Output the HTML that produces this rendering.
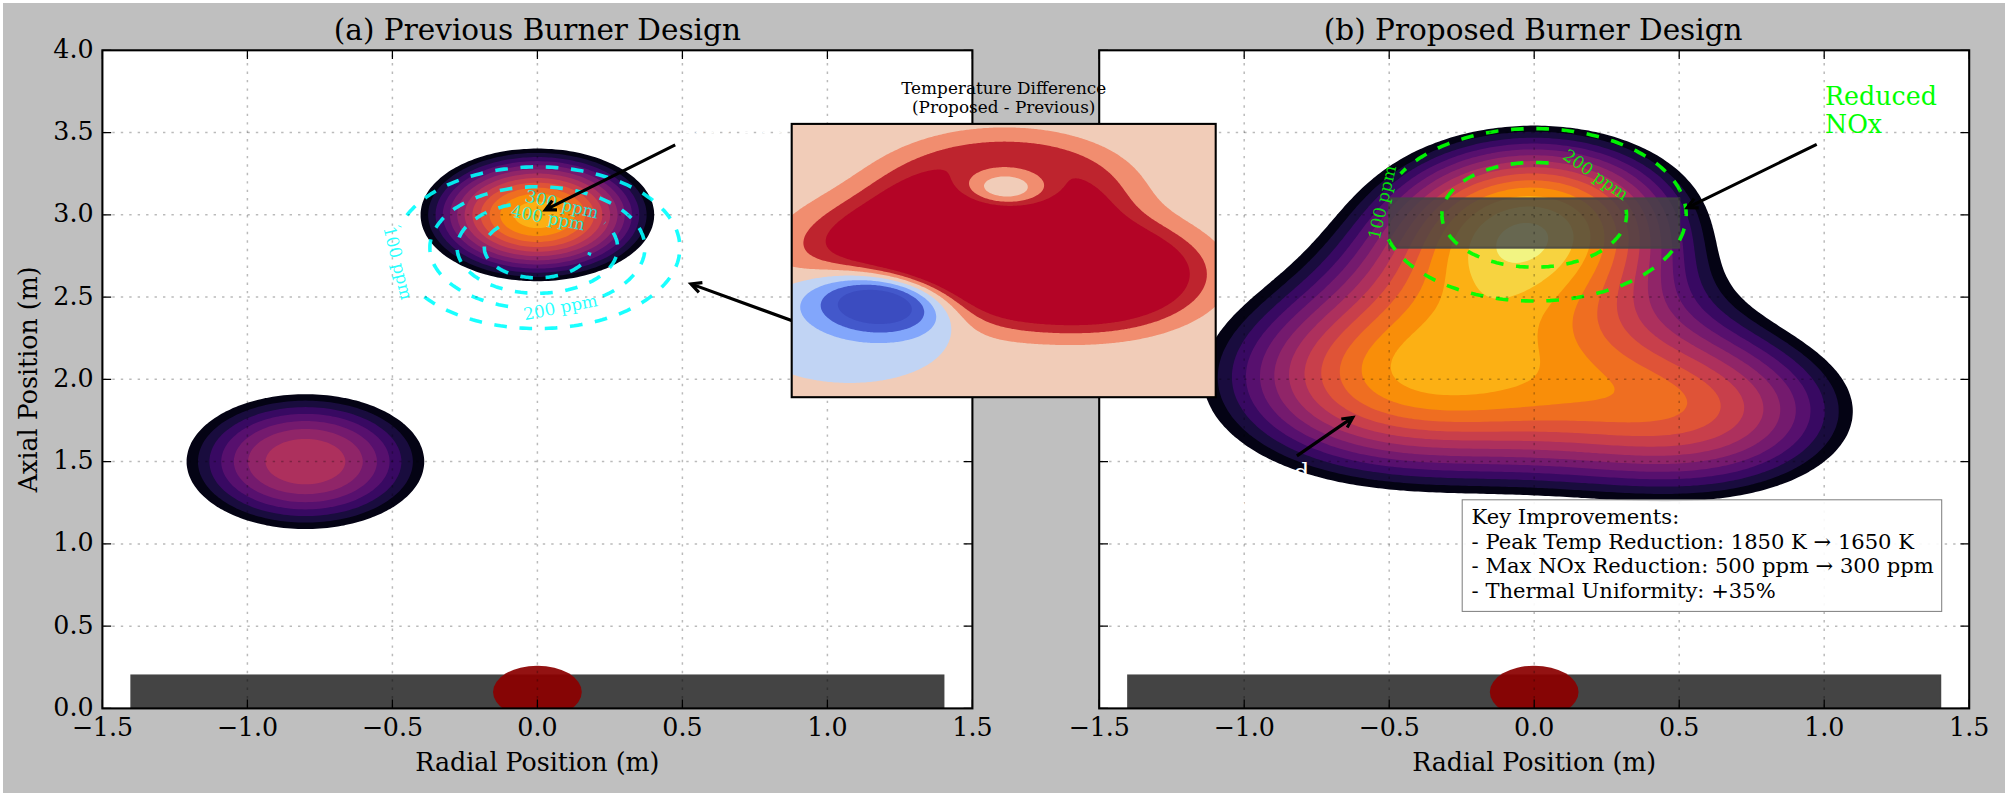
<!DOCTYPE html>
<html lang="en"><head><meta charset="utf-8"><title>Burner Design Comparison</title>
<style>html,body{margin:0;padding:0;background:#fff}svg{display:block}</style></head>
<body>
<svg width="2007" height="796" viewBox="0 0 2007 796" font-family="DejaVu Serif, Liberation Serif, serif">
<rect width="2007" height="796" fill="#fff"/>
<rect x="3" y="3" width="2002" height="790" fill="#bfbfbf"/>
<defs><clipPath id="ca"><rect x="102.40" y="50.30" width="870.00" height="658.10"/></clipPath><clipPath id="cb"><rect x="1099.20" y="50.30" width="870.00" height="658.10"/></clipPath><clipPath id="ci"><rect x="791.70" y="123.90" width="424.00" height="273.30"/></clipPath></defs>
<rect x="102.40" y="50.30" width="870.00" height="658.10" fill="#fff"/>
<g clip-path="url(#ca)">
<path d="M279.7,527.4 283.6,527.9 287.3,528.2 290.9,528.5 294.5,528.7 298.1,528.9 301.8,529.0 305.4,529.0 309.0,529.0 312.7,528.9 316.3,528.7 319.9,528.5 323.5,528.2 327.2,527.9 330.8,527.5 334.4,527.0 338.0,526.4 341.7,525.8 344.0,525.4 345.3,525.1 348.9,524.3 352.5,523.5 356.2,522.6 359.8,521.6 360.8,521.3 363.4,520.4 367.0,519.2 370.6,517.9 372.8,517.1 374.3,516.5 377.8,515.1 381.5,513.4 385.1,511.6 386.3,511.0 388.8,509.6 390.1,508.9 392.4,507.5 393.5,506.9 396.0,505.2 399.5,502.7 402.2,500.7 403.3,499.8 404.7,498.6 406.9,496.7 409.1,494.5 410.5,493.0 412.8,490.4 414.1,488.8 416.0,486.3 417.3,484.2 418.6,482.2 419.7,480.1 420.6,478.1 421.4,476.2 422.2,474.0 422.8,471.9 423.3,469.8 423.7,467.8 424.0,465.7 424.2,463.7 424.2,461.6 424.2,459.6 424.0,457.5 423.7,455.4 423.3,453.4 422.8,451.3 422.2,449.3 421.5,447.2 420.6,445.2 419.7,443.1 418.6,441.0 417.8,439.7 416.0,436.9 414.5,434.9 412.9,432.8 411.1,430.8 409.1,428.7 407.0,426.7 404.7,424.6 403.3,423.4 402.3,422.5 399.7,420.5 396.7,418.4 393.5,416.4 392.4,415.7 390.1,414.3 388.8,413.6 386.4,412.3 385.1,411.6 382.3,410.2 377.9,408.2 374.3,406.6 372.9,406.1 370.6,405.2 367.3,404.0 363.4,402.7 360.9,402.0 359.8,401.6 356.2,400.6 353.4,399.9 348.9,398.8 345.3,398.1 344.1,397.9 341.6,397.4 338.0,396.8 334.4,396.2 331.3,395.8 327.2,395.3 323.5,395.0 319.9,394.7 316.3,394.5 312.7,394.3 309.0,394.2 305.4,394.2 301.8,394.2 298.1,394.3 294.5,394.5 290.9,394.7 287.3,395.0 283.6,395.3 280.0,395.7 276.4,396.2 272.8,396.8 269.1,397.4 266.8,397.9 265.5,398.1 261.9,398.9 258.3,399.7 254.7,400.7 251.0,401.7 250.0,402.0 247.4,402.8 243.8,404.0 240.2,405.3 238.0,406.1 236.5,406.7 233.0,408.1 229.3,409.9 225.7,411.6 224.5,412.3 222.0,413.6 220.7,414.3 218.4,415.7 217.3,416.4 214.8,418.0 211.3,420.5 208.6,422.5 207.5,423.4 206.1,424.6 203.9,426.6 201.7,428.7 200.3,430.2 198.0,432.8 196.6,434.5 194.8,436.9 193.5,439.0 192.2,441.0 191.1,443.1 190.2,445.2 189.4,447.0 188.6,449.3 188.0,451.3 187.5,453.4 187.1,455.4 186.8,457.5 186.6,459.6 186.6,461.6 186.6,463.7 186.8,465.7 187.1,467.8 187.5,469.8 188.0,471.9 188.6,474.0 189.3,476.0 190.2,478.1 191.1,480.1 192.2,482.2 193.0,483.5 194.8,486.3 196.3,488.3 198.0,490.4 199.7,492.5 201.7,494.5 203.8,496.6 206.1,498.6 207.5,499.8 208.6,500.7 211.2,502.7 214.2,504.8 217.3,506.9 218.4,507.5 220.7,508.9 222.0,509.6 224.5,511.0 225.7,511.6 228.6,513.0 232.9,515.0 236.5,516.5 238.0,517.1 240.2,517.9 243.6,519.2 247.4,520.4 250.0,521.3 251.0,521.6 254.7,522.6 257.5,523.3 261.9,524.3 265.5,525.1 266.8,525.4 269.1,525.8 272.8,526.4 276.4,527.0 279.7,527.4ZM521.2,280.6 522.9,280.8 526.5,281.0 530.1,281.1 533.8,281.2 537.4,281.2 541.0,281.2 544.7,281.1 548.3,280.9 551.9,280.7 555.5,280.4 559.1,280.0 562.8,279.6 566.4,279.1 569.7,278.6 573.6,277.9 577.3,277.2 580.2,276.5 584.5,275.5 588.1,274.5 591.8,273.5 595.3,272.4 599.0,271.1 601.2,270.4 602.7,269.8 606.3,268.4 609.9,266.8 611.1,266.2 613.5,265.1 615.3,264.2 617.1,263.2 619.2,262.1 620.8,261.2 622.7,260.1 624.4,259.0 626.0,258.0 628.0,256.6 629.0,256.0 631.6,254.0 634.3,251.8 635.3,251.0 636.6,249.8 638.8,247.7 640.8,245.7 642.5,243.7 644.3,241.6 645.8,239.5 647.2,237.4 648.4,235.4 649.5,233.3 650.5,231.3 651.4,229.2 652.2,227.2 652.8,225.1 653.3,223.1 653.7,221.0 654.0,218.9 654.1,216.9 654.2,214.8 654.1,212.8 654.0,210.7 653.7,208.7 653.4,207.2 652.8,204.5 652.2,202.5 651.4,200.4 650.5,198.4 649.8,196.8 648.4,194.3 647.2,192.2 646.1,190.7 644.3,188.1 642.6,186.0 640.8,184.0 638.9,182.1 636.6,179.9 635.3,178.7 634.3,177.8 631.7,175.8 629.0,173.7 628.0,173.0 626.0,171.6 624.4,170.6 622.7,169.6 620.8,168.4 619.2,167.5 617.1,166.4 615.3,165.5 613.5,164.6 611.1,163.4 609.9,162.9 606.4,161.4 602.7,159.9 601.1,159.3 599.0,158.5 595.4,157.3 591.8,156.2 588.3,155.2 584.5,154.2 580.9,153.3 577.3,152.5 573.6,151.8 570.0,151.2 566.4,150.6 562.8,150.1 559.1,149.7 555.5,149.4 551.9,149.1 548.3,148.9 544.7,148.7 541.0,148.6 537.4,148.6 533.8,148.6 530.1,148.7 526.5,148.9 523.9,149.0 519.3,149.4 515.7,149.7 512.0,150.1 508.4,150.6 505.6,151.1 501.1,151.8 497.5,152.5 494.8,153.1 490.3,154.2 486.7,155.1 483.0,156.2 479.6,157.2 475.8,158.5 473.7,159.3 472.2,159.9 468.5,161.3 464.9,162.9 463.7,163.4 461.3,164.6 459.5,165.5 457.7,166.4 455.6,167.5 454.0,168.4 452.1,169.6 450.4,170.6 448.8,171.6 446.8,173.0 445.8,173.7 443.1,175.7 440.5,177.8 439.5,178.7 438.2,179.9 436.0,181.9 434.0,184.0 432.3,186.0 430.5,188.1 429.0,190.1 427.6,192.2 426.4,194.3 425.2,196.3 424.2,198.4 423.4,200.4 422.6,202.5 422.0,204.5 421.5,206.6 421.1,208.7 420.8,210.7 420.6,212.8 420.6,214.8 420.6,216.9 420.8,218.9 421.1,221.0 421.4,222.8 421.9,225.1 422.6,227.2 423.3,229.2 424.2,231.3 425.0,233.1 426.2,235.4 427.5,237.4 428.6,239.2 430.3,241.6 432.0,243.6 433.8,245.7 435.8,247.7 437.9,249.8 439.5,251.2 440.2,251.8 442.7,253.9 445.4,256.0 446.8,256.9 448.4,258.0 450.4,259.3 451.6,260.1 454.0,261.5 455.1,262.1 457.7,263.5 458.9,264.2 461.3,265.4 463.1,266.2 464.9,267.1 467.7,268.3 472.2,270.1 475.8,271.4 478.7,272.4 483.0,273.8 485.5,274.5 486.7,274.8 490.3,275.7 493.6,276.5 497.5,277.4 501.1,278.1 504.1,278.6 508.4,279.3 512.0,279.7 515.7,280.1 519.3,280.5 521.2,280.6Z" fill="#040314" fill-rule="evenodd"/>
<path d="M283.1,521.3 287.3,521.7 290.9,522.0 294.5,522.3 298.1,522.4 301.8,522.6 305.4,522.6 309.0,522.6 312.7,522.4 316.3,522.3 319.9,522.0 323.5,521.7 327.2,521.3 330.8,520.9 334.4,520.3 338.0,519.7 340.7,519.2 345.3,518.2 348.9,517.4 352.5,516.4 356.2,515.4 359.8,514.2 363.2,513.0 367.0,511.6 368.5,511.0 370.6,510.1 373.2,508.9 374.3,508.4 377.4,506.9 381.3,504.8 384.7,502.7 387.9,500.7 388.8,500.1 390.8,498.6 392.4,497.4 393.4,496.6 395.9,494.5 398.1,492.5 399.7,490.9 402.0,488.3 403.3,486.8 405.2,484.2 406.6,482.2 407.8,480.1 408.9,478.1 409.8,476.0 410.5,474.3 411.3,471.9 411.9,469.8 412.3,467.8 412.6,465.7 412.8,463.7 412.9,461.6 412.8,459.6 412.6,457.5 412.3,455.4 411.9,453.4 411.3,451.3 410.7,449.3 409.8,447.2 408.9,445.2 407.8,443.1 406.9,441.6 405.2,439.0 403.7,436.9 402.0,434.9 400.2,432.8 398.1,430.8 396.0,428.8 393.5,426.7 392.4,425.8 390.8,424.6 388.8,423.1 387.9,422.5 385.1,420.7 381.5,418.6 377.9,416.6 374.3,414.8 373.3,414.3 370.6,413.1 368.5,412.3 367.0,411.6 363.4,410.3 359.8,409.0 357.1,408.1 356.2,407.8 352.5,406.8 349.9,406.1 348.9,405.8 345.3,405.0 341.7,404.2 338.0,403.5 334.4,402.9 330.8,402.3 327.8,402.0 323.5,401.5 319.9,401.2 316.3,400.9 312.7,400.8 309.0,400.7 305.4,400.6 301.8,400.7 298.1,400.8 294.5,400.9 290.9,401.2 287.3,401.5 283.6,401.9 280.0,402.4 276.4,402.9 272.8,403.5 270.1,404.0 265.5,405.0 261.9,405.9 258.3,406.8 254.7,407.9 251.0,409.0 247.6,410.2 243.8,411.7 242.3,412.3 240.2,413.2 237.6,414.3 236.5,414.8 233.4,416.4 229.5,418.4 226.1,420.5 222.9,422.5 222.0,423.1 220.0,424.6 218.4,425.8 217.4,426.7 214.9,428.7 212.7,430.8 211.2,432.3 208.8,434.9 207.5,436.4 205.6,439.0 204.2,441.0 203.0,443.1 201.9,445.2 201.0,447.2 200.3,448.9 199.5,451.3 198.9,453.4 198.5,455.4 198.2,457.5 198.0,459.6 197.9,461.6 198.0,463.7 198.2,465.7 198.5,467.8 198.9,469.8 199.5,471.9 200.1,474.0 201.0,476.0 201.9,478.1 203.0,480.1 203.9,481.6 205.6,484.2 207.1,486.3 208.8,488.3 210.7,490.4 212.7,492.5 214.8,494.4 217.4,496.6 218.4,497.4 220.0,498.6 222.0,500.1 222.9,500.7 225.7,502.5 229.3,504.7 232.9,506.6 236.5,508.4 237.6,508.9 240.2,510.1 242.3,511.0 243.8,511.6 247.4,512.9 251.0,514.2 253.8,515.1 258.3,516.4 261.0,517.1 265.5,518.2 269.1,519.0 272.8,519.7 276.4,520.3 280.0,520.9 283.1,521.3ZM524.9,276.5 526.5,276.6 530.1,276.8 533.8,276.9 537.4,276.9 541.0,276.9 544.7,276.8 548.3,276.6 551.9,276.3 555.5,276.0 559.1,275.6 562.8,275.2 566.4,274.6 570.0,274.0 573.6,273.3 577.3,272.6 580.9,271.7 584.5,270.8 586.0,270.4 588.1,269.7 591.8,268.6 595.4,267.4 598.4,266.2 602.7,264.5 606.3,262.9 608.0,262.1 609.9,261.2 612.0,260.1 613.5,259.3 615.7,258.0 617.1,257.2 619.1,256.0 620.8,254.9 622.2,253.9 624.4,252.3 627.6,249.8 629.9,247.7 631.6,246.1 634.1,243.6 635.3,242.3 635.9,241.6 637.6,239.5 638.9,237.7 640.4,235.4 641.6,233.3 642.5,231.6 643.6,229.2 644.4,227.2 645.1,225.1 645.7,223.1 646.1,221.0 646.4,218.9 646.6,216.9 646.6,214.8 646.6,212.8 646.4,210.7 646.1,209.2 645.7,206.6 645.1,204.5 644.4,202.5 643.6,200.4 642.7,198.4 641.6,196.3 640.4,194.3 639.1,192.2 637.6,190.1 635.9,188.1 635.3,187.3 634.1,186.0 632.1,184.0 629.9,181.9 628.0,180.3 625.0,177.8 622.2,175.8 620.8,174.8 619.1,173.7 617.1,172.5 615.7,171.6 613.5,170.4 612.0,169.6 609.9,168.5 607.9,167.5 606.3,166.7 603.4,165.5 599.0,163.7 595.4,162.3 592.6,161.4 588.1,160.0 585.8,159.3 584.5,158.9 580.9,158.0 577.7,157.2 573.6,156.4 570.0,155.7 567.0,155.2 562.8,154.6 559.1,154.1 555.5,153.7 551.9,153.4 548.3,153.2 544.7,153.0 541.0,152.9 537.4,152.9 533.8,152.9 530.1,153.0 527.5,153.1 522.9,153.4 519.3,153.7 515.7,154.1 512.0,154.6 508.4,155.1 504.8,155.7 501.1,156.4 497.5,157.1 493.9,158.0 490.3,158.9 489.0,159.3 486.7,160.0 483.0,161.1 479.4,162.3 476.5,163.4 472.2,165.1 468.5,166.7 466.9,167.5 464.9,168.5 462.8,169.6 461.3,170.4 459.1,171.6 457.7,172.5 455.7,173.7 454.0,174.8 452.6,175.8 450.4,177.4 447.2,179.9 444.9,181.9 443.1,183.5 440.7,186.0 439.5,187.3 438.9,188.1 437.2,190.1 435.9,191.9 434.4,194.3 433.2,196.3 432.3,198.0 431.2,200.4 430.4,202.5 429.7,204.5 429.1,206.6 428.7,208.7 428.4,210.7 428.2,212.8 428.1,214.8 428.2,216.9 428.4,218.9 428.6,220.8 429.1,223.1 429.6,225.1 430.3,227.2 431.1,229.2 432.0,231.3 433.1,233.3 434.3,235.4 435.6,237.4 437.1,239.5 438.7,241.6 439.5,242.5 440.5,243.6 442.5,245.7 443.1,246.3 444.6,247.7 446.8,249.6 449.5,251.8 450.4,252.5 452.3,253.9 454.0,255.1 455.4,256.0 457.7,257.4 458.7,258.0 461.3,259.5 462.3,260.1 464.9,261.4 466.4,262.1 468.5,263.2 470.8,264.2 472.2,264.8 475.8,266.2 479.4,267.6 481.5,268.3 483.0,268.8 486.7,269.9 488.2,270.4 490.3,270.9 493.9,271.9 496.2,272.4 497.5,272.7 501.1,273.5 504.8,274.2 506.7,274.5 508.4,274.8 512.0,275.3 515.7,275.7 519.3,276.1 522.9,276.4 524.9,276.5Z" fill="#190c3e" fill-rule="evenodd"/>
<path d="M287.0,515.1 290.9,515.5 294.5,515.7 298.1,515.9 301.8,516.0 305.4,516.1 309.0,516.0 312.7,515.9 316.3,515.7 319.9,515.5 323.5,515.1 327.2,514.7 330.8,514.1 334.4,513.5 337.1,513.0 341.7,512.1 345.3,511.2 348.9,510.2 352.5,509.1 356.2,507.9 358.9,506.9 359.8,506.5 363.4,505.0 367.0,503.4 368.3,502.7 370.6,501.6 372.3,500.7 374.3,499.6 375.8,498.6 377.9,497.3 379.0,496.6 381.5,494.8 384.5,492.5 386.9,490.4 388.8,488.6 391.0,486.3 392.4,484.7 394.3,482.2 395.7,480.1 396.9,478.1 398.0,476.0 398.9,474.0 399.7,472.0 400.3,469.8 400.8,467.8 401.1,465.7 401.4,463.7 401.4,461.6 401.4,459.6 401.1,457.5 400.8,455.4 400.3,453.4 399.7,451.3 398.9,449.3 398.0,447.2 396.9,445.2 396.0,443.6 394.3,441.0 392.8,439.0 391.0,436.9 389.1,434.9 386.9,432.8 385.1,431.3 381.9,428.7 379.0,426.7 377.9,425.9 375.9,424.6 374.3,423.6 372.3,422.5 370.6,421.6 368.4,420.5 367.0,419.8 363.9,418.4 359.8,416.7 358.9,416.4 356.2,415.4 353.1,414.3 348.9,413.0 346.1,412.3 341.7,411.2 338.0,410.4 334.4,409.7 330.8,409.1 327.2,408.5 323.8,408.1 319.9,407.8 316.3,407.5 312.7,407.3 309.0,407.2 305.4,407.1 301.8,407.2 298.1,407.3 294.5,407.5 290.9,407.8 287.3,408.1 283.7,408.6 280.0,409.1 276.4,409.7 273.7,410.2 269.2,411.2 265.5,412.1 261.9,413.0 258.3,414.1 254.7,415.4 251.9,416.4 251.0,416.7 247.4,418.2 243.8,419.8 242.5,420.5 240.2,421.7 238.5,422.5 236.5,423.7 235.0,424.6 232.9,425.9 231.8,426.7 229.3,428.4 226.3,430.8 223.9,432.8 222.0,434.6 219.8,436.9 218.4,438.6 216.5,441.0 215.1,443.1 213.9,445.2 212.8,447.2 211.9,449.3 211.2,451.2 210.5,453.4 210.0,455.4 209.7,457.5 209.4,459.6 209.4,461.6 209.4,463.7 209.7,465.7 210.0,467.8 210.5,469.8 211.1,471.9 211.9,474.0 212.8,476.0 213.9,478.1 214.8,479.6 216.5,482.2 218.0,484.2 219.8,486.3 221.7,488.3 223.9,490.4 225.7,491.9 228.9,494.5 231.8,496.6 232.9,497.3 235.0,498.6 236.5,499.6 238.5,500.7 240.2,501.6 242.5,502.7 243.8,503.4 246.9,504.8 251.0,506.5 251.9,506.9 254.7,507.9 257.8,508.9 261.9,510.2 264.8,511.0 269.1,512.1 272.8,512.8 276.4,513.5 280.0,514.1 283.6,514.7 287.0,515.1ZM526.7,272.4 530.1,272.6 533.8,272.7 537.4,272.7 541.0,272.7 544.7,272.5 547.3,272.4 551.9,272.1 555.5,271.8 559.1,271.3 562.8,270.8 565.9,270.4 570.0,269.6 573.6,268.9 576.2,268.3 577.3,268.0 580.9,267.1 584.0,266.2 588.1,265.0 590.4,264.2 591.8,263.7 595.4,262.3 599.0,260.8 600.8,260.1 602.7,259.2 605.1,258.0 606.3,257.4 609.0,256.0 609.9,255.4 612.4,253.9 613.5,253.2 615.6,251.8 617.1,250.8 618.5,249.8 620.8,248.0 623.5,245.7 624.4,244.9 625.7,243.6 627.7,241.6 629.5,239.5 631.1,237.4 631.6,236.7 632.6,235.4 633.9,233.3 635.0,231.3 636.0,229.2 636.9,227.2 637.6,225.1 638.2,223.1 638.7,221.0 638.9,219.6 639.2,216.9 639.3,214.8 639.2,212.8 639.0,210.7 638.7,208.7 638.2,206.6 637.6,204.5 636.9,202.5 636.0,200.4 635.3,198.9 633.9,196.3 632.6,194.3 631.6,192.9 631.1,192.2 629.5,190.1 628.0,188.5 625.7,186.0 624.4,184.8 623.5,184.0 621.1,181.9 618.5,179.9 617.1,178.9 615.6,177.8 613.5,176.4 612.4,175.8 609.9,174.2 608.9,173.7 606.3,172.3 605.1,171.6 602.7,170.5 600.7,169.6 599.0,168.8 595.9,167.5 591.8,166.0 590.3,165.5 588.1,164.7 584.5,163.6 580.9,162.6 577.3,161.7 576.0,161.4 573.6,160.8 570.0,160.1 566.4,159.4 562.8,158.9 559.1,158.4 555.5,158.0 551.9,157.6 548.3,157.4 545.7,157.2 541.0,157.1 537.4,157.0 533.8,157.1 530.1,157.2 526.5,157.4 522.9,157.6 519.3,158.0 515.7,158.4 512.0,158.9 509.2,159.3 504.8,160.1 501.1,160.8 498.8,161.4 497.5,161.7 493.9,162.6 490.9,163.4 486.7,164.7 484.5,165.5 483.0,166.0 479.4,167.3 475.8,168.8 474.1,169.6 472.2,170.5 469.7,171.6 468.5,172.3 465.9,173.7 464.9,174.2 462.4,175.8 461.3,176.4 459.2,177.8 457.7,178.9 456.3,179.9 454.0,181.6 451.3,184.0 450.4,184.8 449.1,186.0 447.1,188.1 445.3,190.1 443.7,192.2 443.1,192.9 442.2,194.3 440.9,196.3 439.7,198.4 438.7,200.4 437.9,202.5 437.2,204.5 436.6,206.6 436.1,208.7 435.9,209.9 435.6,212.8 435.5,214.8 435.6,216.9 435.8,218.9 436.1,221.0 436.5,223.1 437.1,225.1 437.8,227.2 438.7,229.2 439.5,231.0 440.8,233.3 442.1,235.4 443.1,236.9 445.2,239.5 446.8,241.4 448.9,243.6 450.4,245.0 451.1,245.7 453.5,247.7 456.1,249.8 457.7,250.9 458.9,251.8 461.3,253.4 462.1,253.9 464.9,255.6 468.5,257.6 469.4,258.0 472.2,259.4 473.6,260.1 475.8,261.0 478.4,262.1 479.4,262.5 483.0,263.9 483.9,264.2 486.7,265.1 490.3,266.2 493.9,267.2 497.5,268.2 501.1,269.0 504.8,269.7 508.3,270.4 512.0,270.9 515.7,271.4 519.3,271.8 522.9,272.1 526.5,272.4Z" fill="#380962" fill-rule="evenodd"/>
<path d="M293.8,508.9 298.1,509.2 301.8,509.3 305.4,509.4 309.0,509.3 312.7,509.2 316.3,509.0 319.9,508.7 323.5,508.2 327.2,507.7 330.8,507.1 332.3,506.9 334.4,506.4 338.0,505.6 341.3,504.8 345.3,503.7 348.2,502.7 352.5,501.2 353.8,500.7 356.2,499.7 358.6,498.6 359.8,498.1 362.7,496.6 366.4,494.5 369.7,492.5 370.6,491.8 372.6,490.4 374.3,489.1 375.1,488.3 377.5,486.3 379.5,484.2 381.4,482.2 383.0,480.1 384.4,478.1 385.1,476.9 385.7,476.0 386.7,474.0 387.6,471.9 388.3,469.8 388.8,468.2 389.3,465.7 389.5,463.7 389.6,461.6 389.5,459.6 389.3,457.5 388.9,455.4 388.3,453.4 387.6,451.3 386.7,449.3 385.7,447.2 385.1,446.3 384.4,445.2 383.0,443.1 381.5,441.2 379.5,439.0 377.9,437.3 375.2,434.9 374.3,434.2 372.6,432.8 370.6,431.4 369.7,430.8 367.0,429.1 363.4,427.0 359.8,425.2 358.6,424.6 356.2,423.5 353.8,422.5 352.5,422.0 348.9,420.7 345.3,419.5 341.7,418.5 338.0,417.6 334.4,416.8 332.3,416.4 330.8,416.1 327.2,415.5 323.5,415.0 319.9,414.6 317.0,414.3 312.7,414.0 309.0,413.9 305.4,413.9 301.8,413.9 298.1,414.0 294.5,414.2 290.9,414.6 287.3,415.0 283.6,415.5 280.0,416.1 278.5,416.4 276.4,416.8 272.8,417.6 269.5,418.4 265.5,419.6 262.6,420.5 258.3,422.0 257.0,422.5 254.6,423.5 252.2,424.6 251.0,425.2 248.1,426.7 244.4,428.7 241.1,430.8 240.2,431.4 238.2,432.8 236.5,434.2 235.7,434.9 233.3,436.9 231.3,439.0 229.4,441.0 227.8,443.1 226.4,445.2 225.7,446.3 225.1,447.2 224.1,449.3 223.2,451.3 222.5,453.4 222.0,455.1 221.5,457.5 221.3,459.6 221.2,461.6 221.3,463.7 221.5,465.7 221.9,467.8 222.5,469.8 223.2,471.9 224.1,474.0 225.1,476.0 225.7,476.9 226.4,478.1 227.8,480.1 229.3,482.0 231.3,484.2 232.9,485.9 235.7,488.3 236.5,489.1 238.2,490.4 240.2,491.8 241.1,492.5 243.8,494.1 247.4,496.2 251.0,498.1 252.2,498.6 254.6,499.7 257.0,500.7 258.3,501.2 261.9,502.5 265.5,503.7 269.1,504.7 272.8,505.6 276.4,506.4 278.5,506.9 280.0,507.1 283.6,507.7 287.3,508.2 290.9,508.7 293.8,508.9ZM527.5,268.3 530.1,268.4 533.8,268.5 537.4,268.6 541.0,268.5 544.7,268.4 546.8,268.3 548.3,268.2 551.9,267.9 555.5,267.6 559.1,267.1 562.8,266.6 564.8,266.2 566.4,266.0 570.0,265.2 573.6,264.4 574.7,264.2 577.3,263.5 580.9,262.5 582.2,262.1 584.5,261.4 588.1,260.1 591.8,258.8 593.6,258.0 595.4,257.2 598.2,256.0 602.3,253.9 605.9,251.8 609.2,249.8 612.2,247.7 613.5,246.7 614.8,245.7 617.1,243.7 619.4,241.6 620.8,240.2 621.4,239.5 623.2,237.4 624.4,235.9 626.2,233.3 627.5,231.3 628.0,230.2 628.6,229.2 629.5,227.2 630.3,225.1 630.9,223.1 631.4,221.0 631.6,219.5 631.9,216.9 632.0,214.8 631.9,212.8 631.7,210.7 631.4,208.7 630.9,206.6 630.3,204.5 629.5,202.5 628.5,200.4 628.0,199.4 627.5,198.4 626.2,196.3 624.8,194.3 623.2,192.2 621.4,190.1 620.8,189.5 619.4,188.1 617.3,186.0 614.8,184.0 613.5,183.0 612.1,181.9 609.9,180.3 606.3,178.0 602.7,176.0 599.0,174.1 598.2,173.7 595.4,172.4 593.6,171.6 591.8,170.9 588.3,169.6 584.5,168.3 582.1,167.5 580.9,167.2 577.3,166.1 574.6,165.5 570.0,164.4 566.4,163.7 564.5,163.4 562.8,163.1 559.1,162.6 555.5,162.1 551.9,161.8 548.3,161.5 545.6,161.4 541.0,161.2 537.4,161.1 533.8,161.2 530.1,161.3 526.5,161.5 522.9,161.8 519.3,162.1 515.7,162.6 512.0,163.1 510.3,163.4 508.4,163.7 504.8,164.4 501.1,165.2 497.5,166.1 493.9,167.2 492.7,167.5 490.3,168.3 486.7,169.5 483.0,170.9 481.2,171.6 479.4,172.4 476.6,173.7 475.8,174.1 472.5,175.8 468.9,177.8 465.6,179.9 462.7,181.9 461.3,183.0 460.0,184.0 457.7,185.9 455.4,188.1 454.0,189.5 453.4,190.1 451.6,192.2 450.4,193.7 448.6,196.3 447.3,198.4 446.8,199.4 446.2,200.4 445.3,202.5 444.5,204.5 443.9,206.6 443.4,208.7 443.1,210.1 442.8,212.8 442.8,214.8 442.8,216.9 443.0,218.9 443.4,221.0 443.9,223.1 444.5,225.1 445.3,227.2 446.2,229.2 446.8,230.4 447.3,231.3 448.5,233.3 449.9,235.4 451.5,237.4 453.3,239.5 454.0,240.3 455.2,241.6 457.4,243.6 459.8,245.7 461.3,246.8 462.5,247.7 464.9,249.5 468.5,251.8 472.2,253.8 475.8,255.7 479.4,257.4 480.9,258.0 483.0,258.9 486.1,260.1 490.3,261.5 492.2,262.1 493.9,262.6 497.5,263.6 499.7,264.2 501.1,264.5 504.8,265.3 508.4,266.0 509.6,266.2 512.0,266.7 515.7,267.2 519.3,267.6 522.9,268.0 526.5,268.2Z" fill="#57106e" fill-rule="evenodd"/>
<path d="M286.1,500.7 287.3,500.9 290.9,501.4 294.5,501.7 298.1,502.0 301.8,502.1 305.4,502.2 309.0,502.1 312.7,502.0 316.3,501.7 319.9,501.4 323.5,500.9 324.7,500.7 327.2,500.3 330.8,499.6 334.4,498.7 338.0,497.7 341.7,496.6 345.3,495.3 347.3,494.5 348.9,493.8 351.9,492.5 355.8,490.4 359.2,488.3 362.2,486.3 363.4,485.4 364.8,484.2 367.0,482.2 369.1,480.1 370.6,478.3 372.3,476.0 373.6,474.0 374.3,472.6 375.5,469.8 376.1,467.8 376.6,465.7 376.9,463.7 376.9,461.6 376.9,459.6 376.6,457.5 376.1,455.4 375.5,453.4 374.6,451.3 373.6,449.3 372.3,447.2 370.8,445.2 369.1,443.1 367.1,441.0 364.8,439.0 363.4,437.9 362.2,436.9 359.8,435.2 356.2,433.0 352.5,431.1 348.9,429.4 347.3,428.7 345.3,427.9 341.8,426.7 338.0,425.5 334.8,424.6 330.8,423.7 327.2,422.9 324.8,422.5 323.5,422.3 319.9,421.9 316.3,421.5 312.7,421.2 309.0,421.1 305.4,421.0 301.8,421.1 298.1,421.2 294.5,421.5 290.9,421.9 287.3,422.3 286.1,422.5 283.6,422.9 280.0,423.7 276.4,424.5 272.8,425.5 269.1,426.6 265.5,427.9 263.5,428.7 261.9,429.4 258.9,430.8 255.0,432.8 251.6,434.9 248.6,436.9 247.4,437.9 246.0,439.0 243.8,441.0 241.7,443.1 240.2,445.0 238.5,447.2 237.2,449.3 236.5,450.6 235.3,453.4 234.7,455.4 234.2,457.5 233.9,459.6 233.9,461.6 233.9,463.7 234.2,465.7 234.7,467.8 235.3,469.8 236.2,471.9 237.2,474.0 238.5,476.0 240.0,478.1 241.7,480.1 243.7,482.2 246.0,484.2 247.4,485.4 248.6,486.3 251.0,488.0 254.7,490.2 258.3,492.2 261.9,493.8 263.5,494.5 265.5,495.3 269.0,496.6 272.8,497.7 276.0,498.6 280.0,499.6 283.6,500.3 286.1,500.7ZM527.8,264.2 530.1,264.3 533.8,264.4 537.4,264.5 541.0,264.4 544.7,264.3 546.6,264.2 548.3,264.1 551.9,263.8 555.5,263.4 559.1,262.9 562.8,262.3 563.8,262.1 566.4,261.6 570.0,260.9 573.3,260.1 577.3,259.0 580.4,258.0 584.5,256.6 586.3,256.0 588.1,255.2 591.2,253.9 595.4,251.9 599.0,250.0 602.7,247.8 605.8,245.7 608.6,243.6 609.9,242.5 611.0,241.6 613.2,239.5 615.2,237.4 616.9,235.4 618.5,233.3 619.9,231.3 620.8,229.7 622.1,227.2 622.9,225.1 623.6,223.1 624.1,221.0 624.4,219.5 624.7,216.9 624.8,214.8 624.7,212.8 624.5,210.7 624.1,208.7 623.6,206.6 622.9,204.5 622.1,202.5 621.0,200.4 619.9,198.4 618.5,196.3 617.1,194.5 615.2,192.2 613.5,190.5 611.0,188.1 609.9,187.1 608.6,186.0 606.3,184.3 602.8,181.9 599.4,179.9 595.6,177.8 591.8,176.0 588.1,174.5 586.2,173.7 584.5,173.1 580.9,171.8 577.3,170.7 573.6,169.7 570.0,168.8 566.4,168.0 563.6,167.5 559.1,166.8 555.5,166.3 551.9,165.9 548.3,165.6 545.7,165.5 541.0,165.3 537.4,165.2 533.8,165.3 530.1,165.4 526.5,165.6 522.9,165.9 519.3,166.3 515.7,166.8 512.0,167.4 508.4,168.0 504.8,168.8 501.6,169.6 497.5,170.7 494.5,171.6 490.3,173.1 488.6,173.7 486.7,174.5 483.6,175.8 479.4,177.7 475.8,179.7 472.2,181.8 469.0,184.0 466.2,186.0 464.9,187.1 463.8,188.1 461.6,190.1 459.6,192.2 457.9,194.3 456.3,196.3 454.9,198.4 454.0,199.9 452.7,202.5 451.9,204.5 451.2,206.6 450.6,208.7 450.4,210.0 450.0,212.8 450.0,214.8 450.0,216.9 450.3,218.9 450.6,221.0 451.2,223.1 451.8,225.1 452.7,227.2 453.7,229.2 454.9,231.3 456.2,233.3 457.7,235.2 459.5,237.4 461.3,239.3 463.7,241.6 464.9,242.6 466.1,243.6 468.5,245.5 471.8,247.7 475.2,249.8 479.0,251.8 483.0,253.8 486.7,255.3 488.3,256.0 490.3,256.7 493.9,258.0 497.5,259.1 501.1,260.1 504.8,260.9 508.4,261.7 510.7,262.1 512.0,262.4 515.7,262.9 519.3,263.4 522.9,263.8 526.5,264.1 527.8,264.2Z" fill="#741a6e" fill-rule="evenodd"/>
<path d="M287.0,492.5 290.9,493.1 294.5,493.6 298.1,493.9 301.8,494.1 305.4,494.2 309.0,494.1 312.7,493.9 316.3,493.6 319.9,493.1 323.5,492.5 327.2,491.7 330.8,490.8 332.2,490.4 334.4,489.7 338.0,488.4 341.7,486.9 342.8,486.3 345.3,485.0 346.7,484.2 348.9,482.8 349.9,482.2 352.5,480.2 354.9,478.1 356.2,476.8 356.9,476.0 358.5,474.0 359.8,472.0 360.9,469.8 361.7,467.8 362.3,465.7 362.7,463.7 362.8,461.6 362.7,459.6 362.3,457.5 361.7,455.4 360.9,453.4 359.9,451.3 358.5,449.3 356.9,447.2 356.2,446.4 354.9,445.2 352.6,443.1 349.9,441.0 348.9,440.4 346.7,439.0 345.3,438.2 342.8,436.9 341.7,436.4 338.2,434.9 334.4,433.5 332.2,432.8 330.8,432.4 327.2,431.5 323.8,430.8 319.9,430.1 316.3,429.6 312.7,429.3 309.0,429.1 305.4,429.0 301.8,429.1 298.1,429.3 294.5,429.6 290.9,430.1 287.3,430.7 283.6,431.5 280.0,432.4 278.6,432.8 276.4,433.5 272.8,434.8 269.1,436.4 268.0,436.9 265.5,438.2 264.1,439.0 261.9,440.4 260.9,441.0 258.3,443.0 255.9,445.2 254.7,446.4 253.9,447.2 252.3,449.3 251.0,451.2 249.9,453.4 249.1,455.4 248.5,457.5 248.1,459.6 248.0,461.6 248.1,463.7 248.5,465.7 249.1,467.8 249.9,469.8 250.9,471.9 252.3,474.0 253.9,476.0 254.7,476.8 255.9,478.1 258.2,480.1 260.9,482.2 261.9,482.8 264.1,484.2 265.5,485.0 268.0,486.3 269.2,486.9 272.6,488.3 276.4,489.7 278.6,490.4 280.0,490.8 283.6,491.7 287.0,492.5ZM528.5,260.1 530.1,260.2 533.8,260.3 537.4,260.4 541.0,260.3 544.7,260.2 546.0,260.1 548.3,259.9 551.9,259.6 555.5,259.2 559.1,258.6 562.6,258.0 566.4,257.2 570.0,256.4 571.6,256.0 573.6,255.4 577.3,254.3 578.4,253.9 580.9,253.0 584.0,251.8 588.1,250.0 591.8,248.2 592.7,247.7 595.4,246.2 596.3,245.7 599.0,243.9 602.2,241.6 604.7,239.5 606.3,238.1 606.9,237.4 608.9,235.4 609.9,234.2 610.6,233.3 612.1,231.3 613.4,229.2 614.5,227.2 615.5,225.1 616.2,223.1 616.8,221.0 617.1,219.3 617.5,216.9 617.6,214.8 617.5,212.8 617.2,210.7 616.8,208.7 616.2,206.6 615.5,204.5 614.5,202.5 613.5,200.6 612.1,198.4 610.6,196.3 609.9,195.5 608.9,194.3 606.9,192.2 606.3,191.6 604.7,190.1 602.7,188.4 599.4,186.0 596.3,184.0 595.4,183.4 592.7,181.9 591.8,181.4 588.6,179.9 584.5,178.0 580.9,176.6 578.4,175.8 577.3,175.4 573.6,174.3 571.5,173.7 570.0,173.3 566.4,172.4 562.8,171.7 559.1,171.1 555.5,170.5 551.9,170.1 548.3,169.8 545.3,169.6 541.0,169.4 537.4,169.4 533.8,169.4 530.1,169.5 526.5,169.8 522.9,170.1 519.3,170.5 515.7,171.1 512.3,171.6 508.4,172.4 504.8,173.3 503.3,173.7 501.1,174.3 497.5,175.4 496.4,175.8 493.9,176.6 490.9,177.8 486.7,179.6 483.0,181.4 482.1,181.9 479.4,183.4 478.5,184.0 475.8,185.8 472.6,188.1 470.1,190.1 468.5,191.6 467.9,192.2 465.9,194.3 464.9,195.5 464.2,196.3 462.7,198.4 461.4,200.4 460.2,202.5 459.3,204.5 458.6,206.6 458.0,208.7 457.7,210.3 457.3,212.8 457.2,214.8 457.3,216.9 457.5,218.9 458.0,221.0 458.5,223.1 459.3,225.1 460.2,227.2 461.3,229.2 462.6,231.3 464.1,233.3 464.9,234.3 465.8,235.4 467.8,237.4 468.5,238.2 470.0,239.5 472.2,241.3 475.2,243.6 478.4,245.7 479.4,246.3 481.9,247.7 483.0,248.3 486.0,249.8 490.3,251.7 493.9,253.1 496.2,253.9 497.5,254.4 501.1,255.5 502.9,256.0 504.8,256.4 508.4,257.3 511.9,258.0 515.7,258.7 519.3,259.2 522.9,259.6 526.5,259.9 528.5,260.1Z" fill="#902568" fill-rule="evenodd"/>
<path d="M304.3,484.2 306.5,484.2 309.0,484.2 312.7,483.9 316.3,483.4 319.9,482.7 322.0,482.2 323.5,481.8 327.2,480.6 328.4,480.1 330.8,479.1 332.8,478.1 334.4,477.1 336.2,476.0 338.0,474.6 338.8,474.0 340.9,471.9 341.7,471.1 342.6,469.8 343.8,467.8 344.6,465.7 345.2,463.7 345.3,462.2 345.3,461.0 345.2,459.6 344.6,457.5 343.8,455.4 342.6,453.4 341.7,452.2 340.9,451.3 338.9,449.3 338.0,448.6 336.2,447.2 334.4,446.1 332.8,445.2 330.8,444.2 328.4,443.1 327.2,442.6 323.5,441.4 322.0,441.0 319.9,440.5 316.3,439.8 312.7,439.3 309.0,439.1 306.5,439.0 304.3,439.0 301.8,439.1 298.1,439.3 294.5,439.8 290.9,440.5 288.8,441.0 287.3,441.4 283.6,442.6 282.4,443.1 280.0,444.2 278.0,445.2 276.4,446.1 274.6,447.2 272.8,448.6 272.0,449.3 269.9,451.3 269.1,452.2 268.2,453.4 267.0,455.4 266.2,457.5 265.6,459.6 265.5,461.0 265.5,462.2 265.6,463.7 266.2,465.7 267.0,467.8 268.2,469.8 269.2,471.1 269.9,471.9 272.0,474.0 272.8,474.6 274.6,476.0 276.4,477.1 278.0,478.1 280.0,479.1 282.4,480.1 283.6,480.6 287.3,481.8 288.8,482.2 290.9,482.7 294.5,483.4 298.1,483.9 301.8,484.2 304.3,484.2ZM530.7,256.0 533.8,256.1 537.4,256.1 541.0,256.1 543.8,256.0 548.3,255.7 551.9,255.3 555.5,254.8 559.1,254.2 560.8,253.9 562.8,253.5 566.4,252.7 569.6,251.8 573.6,250.6 576.0,249.8 577.3,249.3 580.9,247.9 584.5,246.3 585.7,245.7 588.1,244.4 589.5,243.6 591.8,242.2 592.8,241.6 595.4,239.7 598.2,237.4 599.0,236.7 600.4,235.4 602.4,233.3 604.1,231.3 605.6,229.2 606.3,228.1 606.8,227.2 607.8,225.1 608.7,223.1 609.3,221.0 609.8,218.9 610.0,216.9 610.1,214.8 610.0,212.8 609.9,211.7 609.3,208.7 608.7,206.6 607.8,204.5 606.8,202.5 606.3,201.6 605.6,200.4 604.1,198.4 602.7,196.6 600.4,194.3 599.0,192.9 598.2,192.2 595.7,190.1 592.8,188.1 591.8,187.4 589.5,186.0 588.1,185.3 585.7,184.0 584.5,183.4 581.3,181.9 577.3,180.3 576.0,179.9 573.6,179.1 570.0,177.9 566.4,177.0 562.8,176.2 560.7,175.8 559.1,175.5 555.5,174.9 551.9,174.4 548.3,174.0 544.7,173.8 542.9,173.7 541.0,173.6 537.4,173.6 533.8,173.6 531.9,173.7 530.1,173.8 526.5,174.0 522.9,174.4 519.3,174.9 515.7,175.5 514.1,175.8 512.0,176.2 508.4,177.0 505.3,177.8 501.1,179.1 498.8,179.9 497.5,180.3 493.9,181.8 490.3,183.4 489.1,184.0 486.7,185.3 485.3,186.0 483.0,187.4 482.0,188.1 479.4,189.9 476.6,192.2 475.8,192.9 474.4,194.3 472.4,196.3 470.7,198.4 469.2,200.4 468.5,201.6 468.0,202.5 467.0,204.5 466.1,206.6 465.5,208.7 465.0,210.7 464.7,212.8 464.6,214.8 464.7,216.9 464.9,218.2 465.5,221.0 466.1,223.1 466.9,225.1 468.0,227.2 468.5,228.1 469.2,229.2 470.6,231.3 472.2,233.1 474.3,235.4 475.8,236.8 476.5,237.4 479.0,239.5 481.9,241.6 483.0,242.3 485.2,243.6 486.7,244.4 489.0,245.7 490.3,246.3 493.4,247.7 497.5,249.4 498.6,249.8 501.1,250.7 504.8,251.8 508.4,252.7 512.0,253.6 513.8,253.9 515.7,254.3 519.3,254.8 522.9,255.3 526.5,255.7 530.1,255.9Z" fill="#ad305d" fill-rule="evenodd"/>
<path d="M516.5,249.8 519.3,250.3 522.9,250.8 526.5,251.2 530.1,251.5 533.8,251.7 537.4,251.7 541.0,251.7 544.7,251.5 548.3,251.2 551.9,250.8 555.5,250.3 558.2,249.8 562.8,248.8 566.4,247.9 570.0,246.7 573.1,245.7 577.3,244.0 580.9,242.2 582.2,241.6 584.5,240.2 585.7,239.5 588.1,237.9 591.4,235.4 593.6,233.3 595.4,231.5 597.3,229.2 598.7,227.2 599.8,225.1 600.8,223.1 601.5,221.0 602.0,218.9 602.3,216.9 602.4,214.8 602.3,212.8 602.0,210.7 601.5,208.7 600.8,206.6 599.8,204.5 599.0,203.1 597.2,200.4 595.6,198.4 593.6,196.3 591.8,194.6 588.7,192.2 585.7,190.1 584.5,189.4 582.2,188.1 580.9,187.4 578.0,186.0 573.6,184.2 570.0,182.9 566.8,181.9 562.8,180.9 559.1,180.1 558.1,179.9 555.5,179.4 551.9,178.9 548.3,178.5 544.7,178.2 541.0,178.0 537.4,177.9 533.8,178.0 530.1,178.2 526.5,178.5 522.9,178.9 519.3,179.4 516.7,179.9 515.7,180.1 512.0,180.9 508.4,181.8 504.8,182.9 501.8,184.0 497.5,185.7 493.9,187.4 492.6,188.1 490.3,189.4 489.1,190.1 486.7,191.8 483.4,194.3 481.2,196.3 479.4,198.2 477.5,200.4 476.1,202.5 475.0,204.5 474.0,206.6 473.3,208.7 472.8,210.7 472.5,212.8 472.4,214.8 472.5,216.9 472.8,218.9 473.3,221.0 474.0,223.1 474.9,225.1 475.8,226.6 477.5,229.2 479.2,231.3 481.1,233.3 483.0,235.1 486.0,237.4 489.0,239.5 490.3,240.3 492.5,241.6 493.9,242.3 496.6,243.6 497.5,244.0 501.1,245.5 504.8,246.8 507.8,247.7 512.0,248.8 515.7,249.6Z" fill="#c83f4b" fill-rule="evenodd"/>
<path d="M520.8,245.7 522.9,246.0 526.5,246.5 530.1,246.8 533.8,247.0 537.4,247.1 541.0,247.0 544.7,246.8 548.3,246.5 551.9,246.0 553.9,245.7 555.5,245.4 559.1,244.6 562.8,243.7 566.4,242.5 569.1,241.6 570.0,241.2 573.6,239.7 577.3,237.8 580.9,235.6 583.9,233.3 586.2,231.3 588.1,229.3 589.9,227.2 591.2,225.1 591.8,224.1 592.3,223.1 593.1,221.0 593.7,218.9 594.1,216.9 594.2,214.8 594.1,212.8 593.7,210.7 593.1,208.7 592.3,206.6 591.8,205.5 591.2,204.5 589.9,202.5 588.2,200.4 586.2,198.4 584.5,196.8 581.1,194.3 577.9,192.2 573.9,190.1 570.0,188.4 569.1,188.1 566.4,187.1 562.9,186.0 559.1,185.1 555.5,184.3 553.8,184.0 551.9,183.7 548.3,183.2 544.7,182.9 541.0,182.7 537.4,182.6 533.8,182.7 530.1,182.9 526.5,183.2 522.9,183.7 521.0,184.0 519.3,184.3 515.7,185.1 512.0,186.0 508.4,187.1 505.7,188.1 504.8,188.4 501.1,190.0 497.5,191.9 493.9,194.1 490.9,196.3 488.6,198.4 486.7,200.3 484.9,202.5 483.6,204.5 483.0,205.5 482.5,206.6 481.6,208.7 481.1,210.7 480.7,212.8 480.6,214.8 480.7,216.9 481.0,218.9 481.6,221.0 482.4,223.1 483.0,224.2 483.5,225.1 484.9,227.2 486.5,229.2 488.5,231.3 490.3,232.9 493.6,235.4 496.9,237.4 500.8,239.5 504.8,241.3 508.4,242.6 511.7,243.6 515.7,244.6 519.3,245.4 520.8,245.7Z" fill="#df5337" fill-rule="evenodd"/>
<path d="M529.3,241.6 533.8,241.9 537.4,242.0 541.0,241.9 544.7,241.6 548.3,241.2 551.9,240.7 555.5,239.9 557.2,239.5 559.1,239.0 562.8,237.8 563.7,237.4 566.4,236.4 568.5,235.4 570.0,234.6 572.3,233.3 573.6,232.5 575.4,231.3 577.3,229.8 579.9,227.2 580.9,226.0 581.6,225.1 582.9,223.1 583.9,221.0 584.5,219.3 585.0,216.9 585.2,214.8 585.0,212.8 584.6,210.7 583.9,208.7 582.9,206.6 581.6,204.5 580.9,203.6 579.9,202.5 577.9,200.4 575.4,198.4 573.6,197.2 572.3,196.3 570.0,195.0 568.5,194.3 566.4,193.3 563.7,192.2 562.8,191.9 559.1,190.7 557.1,190.1 555.5,189.7 551.9,189.0 548.3,188.4 545.3,188.1 541.0,187.8 537.4,187.7 533.8,187.8 530.1,188.0 526.5,188.4 522.9,189.0 519.3,189.7 517.7,190.1 515.7,190.7 512.0,191.9 511.1,192.2 508.4,193.3 506.3,194.3 504.8,195.0 502.5,196.3 501.1,197.2 499.4,198.4 497.5,199.9 494.9,202.5 493.9,203.6 493.2,204.5 491.9,206.6 490.9,208.7 490.3,210.3 489.7,212.8 489.6,214.8 489.7,216.9 490.1,218.9 490.8,221.0 491.8,223.1 493.2,225.1 493.9,226.1 494.8,227.2 496.9,229.2 497.5,229.8 499.4,231.3 501.1,232.5 502.4,233.3 504.8,234.7 506.2,235.4 508.4,236.4 511.0,237.4 512.0,237.8 515.7,239.0 517.5,239.5 519.3,239.9 522.9,240.7 526.5,241.3 529.3,241.6Z" fill="#ef6e21" fill-rule="evenodd"/>
<path d="M528.6,235.4 530.1,235.6 533.8,235.9 537.4,236.0 541.0,235.9 544.7,235.6 546.1,235.4 548.3,235.1 551.9,234.3 555.5,233.3 559.1,232.0 560.8,231.3 562.8,230.3 564.7,229.2 566.4,228.1 567.7,227.2 570.0,225.1 571.7,223.1 573.1,221.0 573.6,219.7 574.5,216.9 574.7,214.8 574.5,212.8 574.0,210.7 573.1,208.7 571.7,206.6 570.0,204.6 567.7,202.5 566.4,201.6 564.7,200.4 562.8,199.3 560.8,198.4 559.1,197.7 555.5,196.3 551.9,195.4 548.3,194.6 546.0,194.3 544.7,194.1 541.0,193.8 537.4,193.7 533.8,193.8 530.1,194.1 528.8,194.3 526.5,194.6 522.9,195.4 519.3,196.3 515.7,197.7 514.0,198.4 512.0,199.3 510.1,200.4 508.4,201.6 507.1,202.5 504.8,204.5 503.1,206.6 501.7,208.7 501.1,209.9 500.3,212.8 500.1,214.8 500.3,216.9 500.8,218.9 501.7,221.0 503.0,223.1 504.8,225.1 507.1,227.2 508.4,228.1 510.1,229.2 512.0,230.3 513.9,231.3 515.7,232.0 519.2,233.3 522.9,234.3 526.5,235.1 528.6,235.4Z" fill="#f98e09" fill-rule="evenodd"/>
<path d="M529.1,227.2 530.1,227.4 533.8,227.9 537.4,228.0 541.0,227.9 544.7,227.4 545.7,227.2 548.3,226.5 551.9,225.2 555.5,223.1 558.0,221.0 559.1,219.5 560.4,216.9 560.6,214.8 560.4,212.8 559.5,210.7 557.9,208.7 555.6,206.6 552.0,204.5 548.3,203.2 545.6,202.5 541.0,201.8 537.4,201.6 533.8,201.8 530.1,202.3 526.5,203.2 522.9,204.5 519.3,206.5 516.8,208.7 515.7,210.1 514.4,212.8 514.1,214.8 514.4,216.9 515.3,218.9 516.8,221.0 519.1,223.1 522.7,225.1 526.5,226.5 529.1,227.2Z" fill="#fcb014" fill-rule="evenodd"/>
<rect x="131.40" y="675.50" width="812.00" height="32.90" fill="#444" stroke="#444" stroke-width="2.08"/>
<ellipse cx="537.40" cy="691.95" rx="44.37" ry="26.32" fill="#8b0000" fill-opacity="0.93"/>
<path d="M424.4,296.9 426.7,298.6 429.1,300.2 431.5,301.8 434.0,303.4 436.6,304.9 439.3,306.4 442.1,307.8 444.9,309.2 447.7,310.6 450.7,311.9 453.6,313.1 456.7,314.4 459.8,315.5 462.9,316.7 466.2,317.7 469.4,318.8 472.7,319.8 476.1,320.7 479.4,321.6 482.9,322.4 486.3,323.2 489.8,323.9 493.4,324.6 496.9,325.2 500.5,325.8 504.1,326.3 507.8,326.8 511.4,327.2 515.1,327.6 518.8,327.9 522.5,328.1 526.2,328.3 529.9,328.5 533.7,328.5 537.4,328.6 541.1,328.5 544.9,328.5 548.6,328.3 552.3,328.1 556.0,327.9 559.7,327.6 563.4,327.2 567.0,326.8 570.7,326.3 574.3,325.8 577.9,325.2 581.4,324.6 585.0,323.9 588.5,323.2 591.9,322.4 595.4,321.6 598.7,320.7 602.1,319.8 605.4,318.8 608.6,317.7 611.9,316.7 615.0,315.5 618.1,314.4 621.2,313.1 624.1,311.9 627.1,310.6 629.9,309.2 632.7,307.8 635.5,306.4 638.2,304.9 640.8,303.4 643.3,301.8 645.7,300.2 648.1,298.6 650.4,296.9 652.7,295.2 654.8,293.5 656.9,291.8 658.9,290.0 660.8,288.1 662.6,286.3 664.4,284.4 666.0,282.5 667.6,280.6 669.0,278.7 670.4,276.7 671.7,274.7 672.9,272.7 674.0,270.7 675.0,268.7 676.0,266.6 676.8,264.5 677.5,262.5 678.1,260.4 678.7,258.3 679.1,256.2 679.4,254.1 679.7,252.0 679.8,249.8 679.9,247.7 679.8,245.6 679.7,243.5 679.4,241.4 679.1,239.3 678.7,237.2 678.1,235.1 677.5,233.0 676.8,230.9 676.0,228.9 675.0,226.8 674.0,224.8 672.9,222.7 671.7,220.7 670.4,218.8 669.0,216.8 667.6,214.9 666.0,212.9 664.4,211.0 662.6,209.2 660.8,207.3 658.9,205.5 656.9,203.7 654.8,201.9 652.7,200.2 650.4,198.5 648.1,196.9 645.7,195.2 643.3,193.6 640.8,192.1 638.2,190.6 635.5,189.1 632.7,187.7 629.9,186.3 627.1,184.9 624.1,183.6 621.2,182.3 618.1,181.1 615.0,179.9 611.9,178.8 608.6,177.7 605.4,176.7 602.1,175.7 598.7,174.8 595.4,173.9 591.9,173.0 588.5,172.3 585.0,171.5 581.4,170.8 577.9,170.2 574.3,169.6 570.7,169.1 567.0,168.7 563.4,168.2 559.7,167.9 556.0,167.6 552.3,167.3 548.6,167.1 544.9,167.0 541.1,166.9 537.4,166.9 533.7,166.9 529.9,167.0 526.2,167.1 522.5,167.3 518.8,167.6 515.1,167.9 511.4,168.2 507.8,168.7 504.1,169.1 500.5,169.6 496.9,170.2 493.4,170.8 489.8,171.5 486.3,172.3 482.9,173.0 479.4,173.9 476.1,174.8 472.7,175.7 469.4,176.7 466.2,177.7 462.9,178.8 459.8,179.9 456.7,181.1 453.6,182.3 450.7,183.6 447.7,184.9 444.9,186.3 442.1,187.7 439.3,189.1 436.6,190.6 434.0,192.1 431.5,193.6 429.1,195.2 426.7,196.9 424.4,198.5 422.1,200.2 420.0,201.9 417.9,203.7 415.9,205.5 414.0,207.3 412.2,209.2 410.4,211.0 408.8,212.9 407.2,214.9 405.8,216.8 404.4,218.8 403.1,220.7 401.9,222.7 400.8,224.8 399.8,226.8" stroke="#00ffff" stroke-opacity="0.9" stroke-width="3.6" stroke-dasharray="12.66 12.66" fill="none"/>
<path d="M602.8,296.1 605.1,295.1 607.2,294.1 609.3,293.1 611.4,292.0 613.4,290.9 615.4,289.7 617.3,288.5 619.2,287.3 621.0,286.1 622.7,284.9 624.4,283.6 626.0,282.3 627.6,281.0 629.1,279.6 630.5,278.2 631.9,276.8 633.2,275.4 634.4,274.0 635.6,272.5 636.7,271.1 637.8,269.6 638.7,268.1 639.7,266.6 640.5,265.1 641.2,263.5 641.9,262.0 642.6,260.4 643.1,258.8 643.6,257.3 644.0,255.7 644.3,254.1 644.6,252.5 644.8,250.9 644.9,249.3 644.9,247.7 644.9,246.1 644.8,244.5 644.6,242.9 644.3,241.4 644.0,239.8 643.6,238.2 643.1,236.6 642.6,235.0 641.9,233.5 641.2,231.9 640.5,230.4 639.7,228.9 638.7,227.4 637.8,225.9 636.7,224.4 635.6,222.9 634.4,221.5 633.2,220.0 631.9,218.6 630.5,217.2 629.1,215.9 627.6,214.5 626.0,213.2 624.4,211.9 622.7,210.6 621.0,209.3 619.2,208.1 617.3,206.9 615.4,205.7 613.4,204.6 611.4,203.5 609.3,202.4 607.2,201.3 605.1,200.3 602.8,199.3 600.6,198.4 598.3,197.5 596.0,196.6 593.6,195.7 591.2,194.9 588.7,194.1 586.2,193.4 583.7,192.7 581.1,192.0 578.5,191.4 575.9,190.8 573.3,190.2 570.6,189.7 567.9,189.2 565.2,188.8 562.5,188.4 559.8,188.1 557.0,187.8 554.2,187.5 551.4,187.3 548.6,187.1 545.8,186.9 543.0,186.8 540.2,186.8 537.4,186.7 534.6,186.8 531.8,186.8 529.0,186.9 526.2,187.1 523.4,187.3 520.6,187.5 517.8,187.8 515.0,188.1 512.3,188.4 509.6,188.8 506.9,189.2 504.2,189.7 501.5,190.2 498.9,190.8 496.3,191.4 493.7,192.0 491.1,192.7 488.6,193.4 486.1,194.1 483.6,194.9 481.2,195.7 478.8,196.6 476.5,197.5 474.2,198.4 472.0,199.3 469.7,200.3 467.6,201.3 465.5,202.4 463.4,203.5 461.4,204.6 459.4,205.7 457.5,206.9 455.6,208.1 453.8,209.3 452.1,210.6 450.4,211.9 448.8,213.2 447.2,214.5 445.7,215.9 444.3,217.2 442.9,218.6 441.6,220.0 440.4,221.5 439.2,222.9 438.1,224.4 437.0,225.9 436.1,227.4 435.1,228.9 434.3,230.4 433.6,231.9 432.9,233.5 432.2,235.0 431.7,236.6 431.2,238.2 430.8,239.8 430.5,241.4 430.2,242.9 430.0,244.5 429.9,246.1 429.9,247.7 429.9,249.3 430.0,250.9 430.2,252.5 430.5,254.1 430.8,255.7 431.2,257.3 431.7,258.8 432.2,260.4 432.9,262.0 433.6,263.5 434.3,265.1 435.1,266.6 436.1,268.1 437.0,269.6 438.1,271.1 439.2,272.5 440.4,274.0 441.6,275.4 442.9,276.8 444.3,278.2 445.7,279.6 447.2,281.0 448.8,282.3 450.4,283.6 452.1,284.9 453.8,286.1 455.6,287.3 457.5,288.5 459.4,289.7 461.4,290.9 463.4,292.0 465.5,293.1 467.6,294.1 469.7,295.1 472.0,296.1 474.2,297.1 476.5,298.0 478.8,298.9 481.2,299.7 483.6,300.6 486.1,301.3 488.6,302.1 491.1,302.8 493.7,303.5 496.3,304.1 498.9,304.7 501.5,305.2 504.2,305.7 506.9,306.2 509.6,306.6 512.3,307.0 515.0,307.4" stroke="#00ffff" stroke-opacity="0.9" stroke-width="3.6" stroke-dasharray="12.66 12.66" fill="none"/>
<path d="M510.6,204.8 508.6,205.2 506.7,205.7 504.7,206.1 502.8,206.6 501.0,207.2 499.1,207.7 497.3,208.3 495.5,208.9 493.7,209.5 491.9,210.2 490.2,210.9 488.5,211.6 486.9,212.3 485.3,213.1 483.7,213.9 482.1,214.7 480.6,215.5 479.2,216.4 477.7,217.3 476.4,218.2 475.0,219.1 473.7,220.0 472.5,221.0 471.2,221.9 470.1,222.9 469.0,223.9 467.9,225.0 466.9,226.0 465.9,227.1 464.9,228.1 464.1,229.2 463.2,230.3 462.5,231.4 461.7,232.5 461.1,233.7 460.4,234.8 459.9,235.9 459.3,237.1 458.9,238.3 458.5,239.4 458.1,240.6 457.8,241.8 457.6,243.0 457.4,244.2 457.2,245.3 457.2,246.5 457.1,247.7 457.2,248.9 457.2,250.1 457.4,251.3 457.6,252.5 457.8,253.7 458.1,254.9 458.5,256.0 458.9,257.2 459.3,258.4 459.9,259.5 460.4,260.7 461.1,261.8 461.7,262.9 462.5,264.1 463.2,265.2 464.1,266.3 464.9,267.3 465.9,268.4 466.9,269.5 467.9,270.5 469.0,271.5 470.1,272.5 471.2,273.5 472.5,274.5 473.7,275.5 475.0,276.4 476.4,277.3 477.7,278.2 479.2,279.1 480.6,279.9 482.1,280.8 483.7,281.6 485.3,282.4 486.9,283.1 488.5,283.9 490.2,284.6 491.9,285.3 493.7,285.9 495.5,286.6 497.3,287.2 499.1,287.8 501.0,288.3 502.8,288.8 504.7,289.3 506.7,289.8 508.6,290.2 510.6,290.7 512.6,291.0 514.6,291.4 516.6,291.7 518.7,292.0 520.7,292.3 522.8,292.5 524.8,292.7 526.9,292.9 529.0,293.0 531.1,293.1 533.2,293.2 535.3,293.3 537.4,293.3 539.5,293.3 541.6,293.2 543.7,293.1 545.8,293.0 547.9,292.9 550.0,292.7 552.0,292.5 554.1,292.3 556.1,292.0 558.2,291.7 560.2,291.4 562.2,291.0 564.2,290.7 566.2,290.2 568.1,289.8 570.1,289.3 572.0,288.8 573.8,288.3 575.7,287.8 577.5,287.2 579.3,286.6 581.1,285.9 582.9,285.3 584.6,284.6 586.3,283.9 587.9,283.1 589.5,282.4 591.1,281.6 592.7,280.8 594.2,279.9 595.6,279.1 597.1,278.2 598.4,277.3 599.8,276.4 601.1,275.5 602.3,274.5 603.6,273.5 604.7,272.5 605.8,271.5 606.9,270.5 607.9,269.5 608.9,268.4 609.9,267.3 610.7,266.3 611.6,265.2 612.3,264.1 613.1,262.9 613.7,261.8 614.4,260.7 614.9,259.5 615.5,258.4 615.9,257.2 616.3,256.0 616.7,254.9 617.0,253.7 617.2,252.5 617.4,251.3 617.6,250.1 617.6,248.9 617.7,247.7 617.6,246.5 617.6,245.3 617.4,244.2 617.2,243.0 617.0,241.8 616.7,240.6 616.3,239.4 615.9,238.3 615.5,237.1 614.9,235.9 614.4,234.8 613.7,233.7 613.1,232.5 612.3,231.4 611.6,230.3 610.7,229.2 609.9,228.1 608.9,227.1 607.9,226.0 606.9,225.0 605.8,223.9 604.7,222.9" stroke="#00ffff" stroke-opacity="0.9" stroke-width="3.6" stroke-dasharray="12.66 12.66" fill="none"/>
<path d="M498.9,227.0 498.0,227.6 497.1,228.2 496.2,228.8 495.3,229.4 494.5,230.0 493.7,230.7 492.9,231.3 492.2,232.0 491.5,232.7 490.8,233.4 490.1,234.1 489.5,234.8 488.9,235.5 488.4,236.2 487.9,236.9 487.4,237.7 486.9,238.4 486.5,239.2 486.2,239.9 485.8,240.7 485.5,241.5 485.2,242.2 485.0,243.0 484.8,243.8 484.6,244.6 484.5,245.4 484.4,246.2 484.4,246.9 484.3,247.7 484.4,248.5 484.4,249.3 484.5,250.1 484.6,250.9 484.8,251.7 485.0,252.4 485.2,253.2 485.5,254.0 485.8,254.8 486.2,255.5 486.5,256.3 486.9,257.0 487.4,257.8 487.9,258.5 488.4,259.2 488.9,260.0 489.5,260.7 490.1,261.4 490.8,262.1 491.5,262.8 492.2,263.5 492.9,264.1 493.7,264.8 494.5,265.4 495.3,266.1 496.2,266.7 497.1,267.3 498.0,267.9 498.9,268.4 499.9,269.0 500.9,269.6 501.9,270.1 502.9,270.6 504.0,271.1 505.1,271.6 506.2,272.1 507.3,272.5 508.5,273.0 509.7,273.4 510.9,273.8 512.1,274.2 513.3,274.5 514.6,274.9 515.8,275.2 517.1,275.5 518.4,275.8 519.7,276.1 521.0,276.4 522.3,276.6 523.7,276.8 525.0,277.0 526.4,277.2 527.7,277.3 529.1,277.5 530.5,277.6 531.9,277.7 533.2,277.7 534.6,277.8 536.0,277.8 537.4,277.8 538.8,277.8 540.2,277.8 541.6,277.7 542.9,277.7 544.3,277.6 545.7,277.5 547.1,277.3 548.4,277.2 549.8,277.0 551.1,276.8 552.5,276.6 553.8,276.4 555.1,276.1 556.4,275.8 557.7,275.5 559.0,275.2 560.2,274.9 561.5,274.5 562.7,274.2 563.9,273.8 565.1,273.4 566.3,273.0 567.5,272.5 568.6,272.1 569.7,271.6 570.8,271.1 571.9,270.6 572.9,270.1 573.9,269.6 574.9,269.0 575.9,268.4 576.8,267.9 577.7,267.3 578.6,266.7 579.5,266.1 580.3,265.4 581.1,264.8 581.9,264.1 582.6,263.5 583.3,262.8 584.0,262.1 584.7,261.4 585.3,260.7 585.9,260.0 586.4,259.2 586.9,258.5 587.4,257.8 587.9,257.0 588.3,256.3 588.6,255.5 589.0,254.8 589.3,254.0 589.6,253.2 589.8,252.4" stroke="#00ffff" stroke-opacity="0.9" stroke-width="3.6" stroke-dasharray="12.66 12.66" fill="none"/>
<path d="M247.40,708.40 V50.30" stroke="#000" stroke-opacity="0.27" stroke-width="1.5" stroke-dasharray="2.4 6.04" stroke-dashoffset="-1.5" fill="none"/>
<path d="M392.40,708.40 V50.30" stroke="#000" stroke-opacity="0.27" stroke-width="1.5" stroke-dasharray="2.4 6.04" stroke-dashoffset="-1.5" fill="none"/>
<path d="M537.40,708.40 V50.30" stroke="#000" stroke-opacity="0.27" stroke-width="1.5" stroke-dasharray="2.4 6.04" stroke-dashoffset="-1.5" fill="none"/>
<path d="M682.40,708.40 V50.30" stroke="#000" stroke-opacity="0.27" stroke-width="1.5" stroke-dasharray="2.4 6.04" stroke-dashoffset="-1.5" fill="none"/>
<path d="M827.40,708.40 V50.30" stroke="#000" stroke-opacity="0.27" stroke-width="1.5" stroke-dasharray="2.4 6.04" stroke-dashoffset="-1.5" fill="none"/>
<path d="M102.40,626.14 H972.40" stroke="#000" stroke-opacity="0.27" stroke-width="1.5" stroke-dasharray="2.4 6.04" stroke-dashoffset="-1.5" fill="none"/>
<path d="M102.40,543.88 H972.40" stroke="#000" stroke-opacity="0.27" stroke-width="1.5" stroke-dasharray="2.4 6.04" stroke-dashoffset="-1.5" fill="none"/>
<path d="M102.40,461.61 H972.40" stroke="#000" stroke-opacity="0.27" stroke-width="1.5" stroke-dasharray="2.4 6.04" stroke-dashoffset="-1.5" fill="none"/>
<path d="M102.40,379.35 H972.40" stroke="#000" stroke-opacity="0.27" stroke-width="1.5" stroke-dasharray="2.4 6.04" stroke-dashoffset="-1.5" fill="none"/>
<path d="M102.40,297.09 H972.40" stroke="#000" stroke-opacity="0.27" stroke-width="1.5" stroke-dasharray="2.4 6.04" stroke-dashoffset="-1.5" fill="none"/>
<path d="M102.40,214.82 H972.40" stroke="#000" stroke-opacity="0.27" stroke-width="1.5" stroke-dasharray="2.4 6.04" stroke-dashoffset="-1.5" fill="none"/>
<path d="M102.40,132.56 H972.40" stroke="#000" stroke-opacity="0.27" stroke-width="1.5" stroke-dasharray="2.4 6.04" stroke-dashoffset="-1.5" fill="none"/>
<text transform="translate(398.0,263.0) rotate(76.0)" text-anchor="middle" font-size="16.88" fill="#00ffff" fill-opacity="0.85" dy="5.8">100 ppm</text>
<text transform="translate(560.5,307.3) rotate(-11.0)" text-anchor="middle" font-size="16.88" fill="#00ffff" fill-opacity="0.85" dy="5.8">200 ppm</text>
<text transform="translate(561.9,204.4) rotate(13.5)" text-anchor="middle" font-size="16.88" fill="#00ffff" fill-opacity="0.80" dy="5.8">300 ppm</text>
<text transform="translate(548.0,217.8) rotate(10.8)" text-anchor="middle" font-size="16.88" fill="#00ffff" fill-opacity="0.80" dy="5.8">400 ppm</text>
<path d="M675.2,144.8 L545.3,209.9 M552.3,200.6 L545.3,209.9 L557.0,209.9" fill="none" stroke="#000" stroke-width="3.10" stroke-linejoin="miter" stroke-linecap="butt"/>
<path d="M830.0,334.5 L690.9,283.9 M702.4,282.6 L690.9,283.9 L698.9,292.4" fill="none" stroke="#000" stroke-width="3.10" stroke-linejoin="miter" stroke-linecap="butt"/>
<text x="682.4" y="132.6" font-size="25.3" fill="#fff">Hot Spot</text>
</g>
<path d="M102.40,708.40 v-8.80 M102.40,50.30 v8.80M247.40,708.40 v-8.80 M247.40,50.30 v8.80M392.40,708.40 v-8.80 M392.40,50.30 v8.80M537.40,708.40 v-8.80 M537.40,50.30 v8.80M682.40,708.40 v-8.80 M682.40,50.30 v8.80M827.40,708.40 v-8.80 M827.40,50.30 v8.80M972.40,708.40 v-8.80 M972.40,50.30 v8.80M102.40,708.40 h8.80 M972.40,708.40 h-8.80M102.40,626.14 h8.80 M972.40,626.14 h-8.80M102.40,543.88 h8.80 M972.40,543.88 h-8.80M102.40,461.61 h8.80 M972.40,461.61 h-8.80M102.40,379.35 h8.80 M972.40,379.35 h-8.80M102.40,297.09 h8.80 M972.40,297.09 h-8.80M102.40,214.82 h8.80 M972.40,214.82 h-8.80M102.40,132.56 h8.80 M972.40,132.56 h-8.80M102.40,50.30 h8.80 M972.40,50.30 h-8.80" stroke="#000" stroke-width="1.25"/>
<rect x="102.40" y="50.30" width="870.00" height="658.10" fill="none" stroke="#000" stroke-width="2.08"/>
<text x="102.40" y="736" text-anchor="middle" font-size="25.3">−1.5</text>
<text x="247.40" y="736" text-anchor="middle" font-size="25.3">−1.0</text>
<text x="392.40" y="736" text-anchor="middle" font-size="25.3">−0.5</text>
<text x="537.40" y="736" text-anchor="middle" font-size="25.3">0.0</text>
<text x="682.40" y="736" text-anchor="middle" font-size="25.3">0.5</text>
<text x="827.40" y="736" text-anchor="middle" font-size="25.3">1.0</text>
<text x="972.40" y="736" text-anchor="middle" font-size="25.3">1.5</text>
<text x="93.60" y="716.00" text-anchor="end" font-size="25.3">0.0</text>
<text x="93.60" y="633.74" text-anchor="end" font-size="25.3">0.5</text>
<text x="93.60" y="551.48" text-anchor="end" font-size="25.3">1.0</text>
<text x="93.60" y="469.21" text-anchor="end" font-size="25.3">1.5</text>
<text x="93.60" y="386.95" text-anchor="end" font-size="25.3">2.0</text>
<text x="93.60" y="304.69" text-anchor="end" font-size="25.3">2.5</text>
<text x="93.60" y="222.42" text-anchor="end" font-size="25.3">3.0</text>
<text x="93.60" y="140.16" text-anchor="end" font-size="25.3">3.5</text>
<text x="93.60" y="57.90" text-anchor="end" font-size="25.3">4.0</text>
<text x="537.4" y="40.1" text-anchor="middle" font-size="29.5">(a) Previous Burner Design</text>
<text x="537.4" y="771.4" text-anchor="middle" font-size="25.3">Radial Position (m)</text>
<text transform="translate(36.6,379.3) rotate(-90)" text-anchor="middle" font-size="25.3">Axial Position (m)</text>
<rect x="1099.20" y="50.30" width="870.00" height="658.10" fill="#fff"/>
<g clip-path="url(#cb)">
<path d="M1633.3,500.7 1635.7,500.8 1639.3,500.9 1643.0,501.0 1646.6,501.1 1650.2,501.2 1653.8,501.3 1657.5,501.3 1661.1,501.4 1664.7,501.4 1668.3,501.4 1672.0,501.3 1675.6,501.3 1679.2,501.2 1682.8,501.1 1686.4,500.9 1690.1,500.8 1692.1,500.7 1693.7,500.6 1697.3,500.4 1701.0,500.1 1704.6,499.9 1708.2,499.6 1711.8,499.2 1715.5,498.8 1717.4,498.6 1719.1,498.4 1722.7,498.0 1726.3,497.5 1730.0,497.0 1732.6,496.6 1737.2,495.8 1740.8,495.2 1744.2,494.5 1748.1,493.7 1751.7,492.9 1753.8,492.5 1755.3,492.1 1759.0,491.2 1762.0,490.4 1766.2,489.3 1769.3,488.3 1773.5,487.1 1775.8,486.3 1777.1,485.9 1780.7,484.6 1781.7,484.2 1784.3,483.3 1787.1,482.2 1791.6,480.4 1795.2,478.8 1796.7,478.1 1798.8,477.1 1801.0,476.0 1802.5,475.3 1805.0,474.0 1806.1,473.4 1808.7,471.9 1809.7,471.3 1812.2,469.8 1813.3,469.2 1815.5,467.8 1817.0,466.8 1818.6,465.7 1820.6,464.3 1821.5,463.7 1824.2,461.6 1826.7,459.6 1827.8,458.6 1829.1,457.5 1831.4,455.4 1833.5,453.4 1835.1,451.7 1837.3,449.3 1838.7,447.6 1840.6,445.2 1842.1,443.1 1843.5,441.0 1844.8,439.0 1846.0,437.0 1847.1,434.9 1848.1,432.8 1848.9,430.8 1849.6,429.1 1850.4,426.7 1851.0,424.6 1851.5,422.5 1852.0,420.5 1852.3,418.4 1852.5,416.4 1852.7,414.3 1852.8,412.3 1852.8,410.2 1852.7,408.1 1852.5,406.1 1852.2,404.0 1851.9,402.0 1851.5,399.9 1850.9,397.9 1850.3,395.8 1849.6,393.7 1848.9,391.7 1848.0,389.6 1847.1,387.6 1846.0,385.5 1844.9,383.5 1843.7,381.4 1842.4,379.3 1841.0,377.3 1839.5,375.2 1838.7,374.1 1838.0,373.2 1836.3,371.1 1835.1,369.7 1832.7,367.0 1831.5,365.7 1830.8,365.0 1828.7,362.9 1827.8,362.0 1826.6,360.8 1824.4,358.8 1822.1,356.7 1820.6,355.4 1819.7,354.7 1817.2,352.6 1814.6,350.6 1813.3,349.5 1812.0,348.5 1809.7,346.8 1806.4,344.4 1803.5,342.3 1802.5,341.6 1800.6,340.3 1798.8,339.1 1797.6,338.2 1795.2,336.6 1791.6,334.2 1788.2,332.0 1785.1,330.0 1784.3,329.5 1781.9,327.9 1780.7,327.2 1778.7,325.9 1777.1,324.8 1775.6,323.8 1773.5,322.4 1772.4,321.8 1769.8,320.0 1766.3,317.7 1763.3,315.6 1762.6,315.1 1760.4,313.5 1759.0,312.5 1757.6,311.5 1755.3,309.8 1752.3,307.4 1749.8,305.3 1748.1,303.9 1747.4,303.3 1745.1,301.2 1744.5,300.6 1742.9,299.1 1740.9,297.1 1739.0,295.0 1737.2,293.0 1735.5,290.9 1733.9,288.9 1732.4,286.8 1731.1,284.7 1730.0,283.0 1728.6,280.6 1727.5,278.6 1726.4,276.5 1725.5,274.5 1724.6,272.4 1723.8,270.4 1723.0,268.3 1722.7,267.3 1722.3,266.2 1721.7,264.2 1721.0,262.1 1720.5,260.1 1719.9,258.0 1719.4,256.0 1719.1,254.7 1718.4,251.8 1717.9,249.8 1717.5,247.7 1717.0,245.7 1716.6,243.6 1716.2,241.6 1715.7,239.5 1715.5,238.4 1714.8,235.4 1714.3,233.3 1713.8,231.3 1713.3,229.2 1712.7,227.2 1712.2,225.1 1711.8,223.9 1711.0,221.0 1710.3,218.9 1709.6,216.9 1708.9,214.8 1708.2,213.1 1707.3,210.7 1706.4,208.7 1705.5,206.6 1704.6,204.7 1703.5,202.5 1702.4,200.4 1701.2,198.4 1700.0,196.3 1698.8,194.3 1697.4,192.2 1696.0,190.1 1694.5,188.1 1693.7,187.0 1692.9,186.0 1691.3,184.0 1690.1,182.5 1687.7,179.9 1686.4,178.5 1685.8,177.8 1683.8,175.8 1682.8,174.8 1681.7,173.7 1679.4,171.6 1677.1,169.6 1675.6,168.3 1674.6,167.5 1672.0,165.5 1669.3,163.4 1668.3,162.7 1666.4,161.4 1664.7,160.2 1663.4,159.3 1661.1,157.8 1660.2,157.2 1657.5,155.6 1653.8,153.5 1650.2,151.5 1649.3,151.1 1646.6,149.7 1645.3,149.0 1643.0,147.9 1640.9,147.0 1639.3,146.2 1636.3,144.9 1632.1,143.2 1628.5,141.8 1625.8,140.8 1624.8,140.4 1621.2,139.2 1619.9,138.7 1617.6,138.0 1614.0,136.8 1610.3,135.8 1606.7,134.8 1603.1,133.8 1599.5,133.0 1597.7,132.6 1595.8,132.1 1592.2,131.4 1588.6,130.6 1585.0,130.0 1581.3,129.4 1577.7,128.8 1575.3,128.4 1574.1,128.3 1570.5,127.8 1566.8,127.4 1563.2,127.0 1559.6,126.7 1556.0,126.4 1552.3,126.2 1548.7,126.0 1545.1,125.8 1541.5,125.7 1537.8,125.6 1534.2,125.6 1530.6,125.6 1527.0,125.7 1523.3,125.8 1519.7,126.0 1516.1,126.2 1512.7,126.4 1508.8,126.7 1505.2,127.0 1501.6,127.4 1498.0,127.8 1494.3,128.3 1493.1,128.4 1490.7,128.8 1487.1,129.3 1483.5,129.9 1480.3,130.5 1476.2,131.3 1472.6,132.0 1470.2,132.6 1469.0,132.8 1465.3,133.7 1461.7,134.6 1458.1,135.5 1454.5,136.6 1450.8,137.6 1447.2,138.7 1443.6,139.9 1441.1,140.8 1440.0,141.2 1436.3,142.5 1435.4,142.8 1432.7,143.9 1430.1,144.9 1429.1,145.3 1425.5,146.8 1421.8,148.4 1420.4,149.0 1418.2,150.0 1416.0,151.1 1414.6,151.8 1411.9,153.1 1411.0,153.6 1407.9,155.2 1404.2,157.2 1400.6,159.3 1397.1,161.4 1393.8,163.4 1392.8,164.0 1390.6,165.5 1389.2,166.4 1387.6,167.5 1385.6,168.9 1384.7,169.6 1382.0,171.6 1379.1,173.7 1378.3,174.3 1376.5,175.8 1374.7,177.2 1373.9,177.8 1371.4,179.9 1369.0,181.9 1367.5,183.3 1366.7,184.0 1364.4,186.0 1362.2,188.1 1360.2,190.0 1357.9,192.2 1356.6,193.6 1355.9,194.3 1353.9,196.3 1353.0,197.3 1351.9,198.4 1349.9,200.4 1349.3,201.1 1348.0,202.5 1346.1,204.5 1344.3,206.6 1342.5,208.7 1340.7,210.7 1338.9,212.8 1337.1,214.8 1335.3,216.9 1333.5,218.9 1331.8,221.0 1331.2,221.7 1330.0,223.1 1328.3,225.1 1327.6,225.9 1326.5,227.2 1324.7,229.2 1324.0,230.1 1322.9,231.3 1321.1,233.3 1320.3,234.3 1319.3,235.4 1317.5,237.4 1316.7,238.3 1315.6,239.5 1313.8,241.6 1313.1,242.3 1311.8,243.6 1309.9,245.7 1308.0,247.7 1306.0,249.8 1303.9,251.8 1302.2,253.6 1299.8,256.0 1298.6,257.1 1297.7,258.0 1295.5,260.1 1293.3,262.1 1291.3,264.0 1288.8,266.2 1287.7,267.2 1286.5,268.3 1284.2,270.4 1281.9,272.4 1280.5,273.6 1279.5,274.5 1277.1,276.5 1274.7,278.6 1273.2,279.9 1272.3,280.6 1269.9,282.7 1267.4,284.7 1266.0,286.0 1265.0,286.8 1262.6,288.9 1260.2,290.9 1258.7,292.2 1257.8,293.0 1255.4,295.0 1253.1,297.1 1251.5,298.5 1250.7,299.1 1248.4,301.2 1246.2,303.3 1244.2,305.1 1241.8,307.4 1240.6,308.5 1239.6,309.4 1237.6,311.5 1237.0,312.1 1235.5,313.5 1233.5,315.6 1231.6,317.7 1229.7,319.7 1227.9,321.8 1226.2,323.8 1224.5,325.9 1222.8,327.9 1221.3,330.0 1219.7,332.0 1218.8,333.4 1218.3,334.1 1216.9,336.2 1215.6,338.2 1214.4,340.3 1213.2,342.3 1212.1,344.4 1211.6,345.3 1211.0,346.4 1210.0,348.5 1209.1,350.6 1208.3,352.6 1207.5,354.7 1206.8,356.7 1206.1,358.8 1205.5,360.8 1205.0,362.9 1204.5,365.0 1204.3,366.1 1203.8,369.1 1203.6,371.1 1203.4,373.2 1203.3,375.2 1203.2,377.3 1203.3,379.3 1203.4,381.4 1203.5,383.5 1203.7,385.5 1204.0,387.6 1204.3,389.1 1204.9,391.7 1205.4,393.7 1205.9,395.8 1206.6,397.9 1207.3,399.9 1208.0,401.5 1209.0,404.0 1210.0,406.1 1211.0,408.1 1211.6,409.1 1212.1,410.2 1213.3,412.3 1214.6,414.3 1215.2,415.2 1216.0,416.4 1217.5,418.4 1218.8,420.2 1220.6,422.5 1222.4,424.6 1224.2,426.7 1226.1,428.6 1228.2,430.8 1229.7,432.2 1232.6,434.9 1233.3,435.6 1234.9,436.9 1237.0,438.6 1240.0,441.0 1242.7,443.1 1244.2,444.1 1245.6,445.2 1247.8,446.7 1248.7,447.2 1251.5,449.0 1255.1,451.3 1258.7,453.4 1262.3,455.4 1266.0,457.3 1269.6,459.2 1270.4,459.6 1273.2,460.9 1274.8,461.6 1276.8,462.6 1279.4,463.7 1280.5,464.1 1284.1,465.7 1287.7,467.1 1289.5,467.8 1291.3,468.5 1295.0,469.8 1298.6,471.1 1301.0,471.9 1302.2,472.3 1305.8,473.4 1307.5,474.0 1309.5,474.6 1313.1,475.6 1314.5,476.0 1316.7,476.6 1320.3,477.6 1322.1,478.1 1324.0,478.5 1327.6,479.4 1330.6,480.1 1334.8,481.1 1338.5,481.9 1340.1,482.2 1342.1,482.6 1345.7,483.3 1349.3,484.0 1350.9,484.2 1353.0,484.6 1356.6,485.2 1360.2,485.8 1363.7,486.3 1367.5,486.8 1371.1,487.3 1374.7,487.8 1378.3,488.2 1379.5,488.3 1382.0,488.6 1385.6,489.0 1389.2,489.4 1392.8,489.7 1396.5,490.1 1400.1,490.4 1403.7,490.6 1407.3,490.9 1411.0,491.2 1414.6,491.4 1418.2,491.6 1421.8,491.8 1425.5,492.0 1429.1,492.2 1432.7,492.3 1436.3,492.5 1440.0,492.6 1443.6,492.7 1447.2,492.9 1450.8,493.0 1454.5,493.1 1458.1,493.2 1461.7,493.3 1465.3,493.4 1469.0,493.5 1472.6,493.5 1476.2,493.6 1479.8,493.7 1483.5,493.8 1487.1,493.9 1490.7,494.0 1494.3,494.1 1498.0,494.2 1501.6,494.3 1505.2,494.4 1508.8,494.5 1510.8,494.5 1512.5,494.6 1516.1,494.7 1519.7,494.8 1523.3,494.9 1527.0,495.1 1530.6,495.2 1534.2,495.4 1537.8,495.5 1541.5,495.7 1545.1,495.9 1548.7,496.0 1552.3,496.2 1556.0,496.4 1559.2,496.6 1563.2,496.8 1566.8,497.0 1570.5,497.2 1574.1,497.4 1577.7,497.6 1581.3,497.9 1585.0,498.1 1588.6,498.3 1592.2,498.5 1594.2,498.6 1595.8,498.7 1599.5,498.9 1603.1,499.2 1606.7,499.4 1610.3,499.6 1614.0,499.8 1617.6,500.0 1621.2,500.1 1624.8,500.3 1628.5,500.5 1632.1,500.6 1633.3,500.7Z" fill="#040314" fill-rule="evenodd"/>
<path d="M1616.7,492.5 1621.2,492.7 1624.8,492.9 1628.5,493.1 1632.1,493.2 1635.7,493.4 1639.3,493.5 1643.0,493.6 1646.6,493.7 1650.2,493.8 1653.8,493.9 1657.5,493.9 1661.1,493.9 1664.7,493.9 1668.3,493.9 1672.0,493.9 1675.6,493.8 1679.2,493.7 1682.8,493.6 1686.4,493.5 1690.1,493.3 1693.7,493.1 1697.3,492.8 1701.0,492.6 1702.3,492.5 1704.6,492.3 1708.2,491.9 1711.8,491.6 1715.5,491.1 1719.1,490.7 1721.1,490.4 1722.7,490.2 1726.3,489.7 1730.0,489.1 1733.6,488.5 1737.2,487.8 1740.8,487.1 1744.4,486.3 1748.1,485.5 1751.7,484.6 1753.0,484.2 1755.3,483.6 1759.0,482.6 1760.5,482.2 1762.6,481.6 1766.2,480.4 1767.2,480.1 1769.8,479.2 1773.1,478.1 1777.1,476.6 1778.6,476.0 1780.7,475.1 1783.5,474.0 1788.0,472.0 1791.6,470.2 1795.2,468.3 1796.2,467.8 1798.8,466.3 1799.8,465.7 1802.5,464.1 1803.2,463.7 1806.1,461.8 1809.3,459.6 1812.1,457.5 1813.3,456.5 1814.6,455.4 1817.0,453.5 1819.3,451.3 1820.6,450.1 1821.4,449.3 1823.3,447.2 1824.2,446.2 1825.1,445.2 1826.8,443.1 1827.8,441.8 1828.4,441.0 1829.8,439.0 1831.1,436.9 1832.3,434.9 1833.4,432.8 1834.4,430.8 1835.1,429.2 1836.1,426.7 1836.7,424.6 1837.3,422.5 1837.8,420.5 1838.2,418.4 1838.5,416.4 1838.6,414.3 1838.7,413.0 1838.7,410.2 1838.6,408.1 1838.5,406.1 1838.2,404.0 1837.8,402.0 1837.4,399.9 1836.8,397.9 1836.2,395.8 1835.4,393.7 1835.1,392.9 1834.6,391.7 1833.7,389.6 1832.7,387.6 1831.6,385.5 1830.4,383.5 1829.1,381.4 1827.8,379.6 1826.2,377.3 1824.6,375.2 1822.9,373.2 1821.1,371.1 1819.2,369.1 1817.2,367.0 1815.1,365.0 1813.3,363.2 1810.7,360.8 1809.7,360.0 1808.3,358.8 1806.1,357.0 1803.2,354.7 1802.5,354.1 1800.6,352.6 1798.8,351.3 1797.8,350.6 1795.2,348.7 1792.0,346.4 1789.0,344.4 1788.0,343.6 1786.0,342.3 1784.3,341.2 1782.9,340.3 1780.7,338.9 1779.7,338.2 1777.1,336.5 1773.5,334.2 1770.0,332.0 1766.7,330.0 1763.5,327.9 1762.6,327.3 1760.3,325.9 1759.0,325.0 1757.1,323.8 1755.3,322.6 1754.0,321.8 1751.7,320.2 1748.1,317.7 1745.2,315.6 1744.5,315.1 1742.4,313.5 1740.8,312.3 1739.8,311.5 1737.2,309.4 1734.8,307.4 1733.6,306.3 1732.5,305.3 1730.4,303.3 1728.3,301.2 1726.4,299.1 1724.6,297.1 1723.0,295.0 1721.4,293.0 1720.0,290.9 1719.1,289.6 1717.4,286.8 1716.2,284.7 1715.5,283.2 1714.2,280.6 1713.3,278.6 1712.5,276.5 1711.8,274.7 1711.1,272.4 1710.4,270.4 1709.8,268.3 1709.3,266.2 1708.8,264.2 1708.3,262.1 1707.9,260.1 1707.4,258.0 1707.1,256.0 1706.7,253.9 1706.3,251.8 1705.9,249.8 1705.6,247.7 1705.2,245.7 1704.9,243.6 1704.6,242.0 1704.1,239.5 1703.7,237.4 1703.3,235.4 1702.9,233.3 1702.4,231.3 1702.0,229.2 1701.5,227.2 1701.0,225.2 1700.3,223.1 1699.7,221.0 1699.1,218.9 1698.4,216.9 1697.7,214.8 1696.9,212.8 1696.0,210.7 1695.1,208.7 1694.2,206.6 1693.7,205.6 1693.2,204.5 1692.1,202.5 1691.0,200.4 1690.1,198.8 1688.5,196.3 1687.2,194.3 1686.4,193.2 1685.8,192.2 1684.3,190.1 1682.8,188.3 1681.0,186.0 1679.3,184.0 1677.4,181.9 1675.6,180.0 1673.4,177.8 1672.0,176.5 1671.2,175.8 1668.9,173.7 1666.4,171.6 1664.7,170.2 1663.9,169.6 1661.2,167.5 1658.3,165.5 1657.5,164.9 1655.3,163.4 1653.8,162.5 1652.0,161.4 1650.2,160.2 1648.6,159.3 1646.6,158.1 1645.0,157.2 1643.0,156.1 1641.1,155.2 1639.3,154.3 1637.0,153.1 1635.7,152.5 1632.5,151.1 1628.5,149.3 1624.8,147.8 1622.5,147.0 1621.2,146.4 1617.6,145.1 1614.0,143.9 1610.6,142.8 1606.7,141.7 1603.6,140.8 1599.5,139.7 1595.8,138.8 1592.2,138.0 1588.6,137.2 1586.0,136.7 1585.0,136.5 1581.3,135.8 1577.7,135.2 1574.1,134.6 1570.5,134.1 1566.8,133.7 1563.2,133.3 1559.6,132.9 1556.0,132.6 1552.3,132.3 1548.7,132.1 1545.1,132.0 1541.5,131.9 1537.8,131.8 1534.2,131.8 1530.6,131.8 1527.0,131.8 1523.3,132.0 1519.7,132.1 1516.1,132.3 1512.8,132.6 1508.8,132.9 1505.2,133.2 1501.6,133.6 1498.0,134.1 1494.3,134.6 1490.7,135.1 1487.1,135.7 1483.5,136.3 1481.7,136.7 1479.8,137.0 1476.2,137.8 1472.6,138.6 1469.0,139.4 1465.3,140.3 1463.6,140.8 1461.7,141.3 1458.1,142.3 1456.3,142.8 1454.5,143.4 1450.8,144.6 1449.8,144.9 1447.2,145.8 1443.8,147.0 1440.0,148.4 1438.3,149.0 1436.3,149.8 1433.2,151.1 1429.1,152.9 1425.5,154.5 1424.0,155.2 1421.8,156.2 1419.8,157.2 1418.2,158.0 1415.8,159.3 1414.6,159.9 1412.0,161.4 1411.0,161.9 1408.4,163.4 1407.3,164.0 1404.9,165.5 1403.7,166.2 1401.6,167.5 1400.1,168.5 1398.5,169.6 1396.5,170.9 1395.4,171.6 1392.8,173.5 1389.7,175.8 1387.0,177.8 1385.6,179.0 1384.4,179.9 1382.0,181.9 1379.5,184.0 1378.3,185.0 1377.1,186.0 1374.8,188.1 1372.6,190.1 1371.1,191.6 1370.5,192.2 1368.4,194.3 1367.5,195.2 1366.3,196.3 1364.3,198.4 1362.4,200.4 1360.4,202.5 1358.6,204.5 1356.7,206.6 1354.9,208.7 1353.1,210.7 1351.4,212.8 1349.6,214.8 1347.9,216.9 1346.2,218.9 1344.5,221.0 1342.8,223.1 1342.1,223.9 1341.1,225.1 1339.4,227.2 1338.5,228.4 1337.7,229.2 1336.0,231.3 1334.8,232.8 1332.6,235.4 1331.2,237.1 1329.2,239.5 1327.6,241.4 1325.6,243.6 1324.0,245.5 1322.0,247.7 1320.3,249.6 1318.2,251.8 1316.7,253.5 1314.3,256.0 1313.1,257.3 1312.3,258.0 1310.3,260.1 1309.5,260.9 1308.2,262.1 1306.1,264.2 1304.0,266.2 1302.2,267.9 1299.6,270.4 1298.6,271.3 1297.4,272.4 1295.1,274.5 1292.8,276.5 1291.3,277.8 1290.5,278.6 1288.1,280.6 1285.8,282.7 1284.1,284.2 1283.4,284.7 1281.0,286.8 1278.6,288.9 1276.8,290.4 1273.9,293.0 1273.2,293.6 1271.5,295.0 1269.6,296.7 1266.8,299.1 1266.0,299.9 1264.5,301.2 1262.3,303.1 1259.9,305.3 1258.7,306.4 1257.7,307.4 1255.5,309.4 1253.4,311.5 1251.5,313.4 1249.2,315.6 1247.8,317.0 1247.2,317.7 1245.3,319.7 1244.2,320.9 1243.4,321.8 1241.6,323.8 1240.6,325.0 1239.8,325.9 1238.1,327.9 1237.0,329.4 1234.9,332.0 1233.4,334.1 1232.0,336.2 1230.6,338.2 1229.7,339.6 1228.1,342.3 1226.9,344.4 1226.1,345.9 1224.8,348.5 1223.8,350.6 1222.9,352.6 1222.5,353.8 1222.1,354.7 1221.3,356.7 1220.7,358.8 1220.1,360.8 1219.5,362.9 1219.0,365.0 1218.8,366.1 1218.3,369.1 1218.1,371.1 1217.9,373.2 1217.8,375.2 1217.7,377.3 1217.8,379.3 1217.9,381.4 1218.1,383.5 1218.3,385.5 1218.6,387.6 1219.0,389.6 1219.5,391.7 1220.1,393.7 1220.7,395.8 1221.4,397.9 1222.2,399.9 1223.1,402.0 1224.1,404.0 1225.1,406.1 1226.1,407.8 1227.5,410.2 1228.8,412.3 1229.7,413.6 1230.2,414.3 1231.7,416.4 1233.3,418.4 1235.0,420.5 1236.8,422.5 1238.7,424.6 1240.6,426.5 1242.8,428.7 1244.2,430.0 1245.1,430.8 1247.4,432.8 1249.9,434.9 1251.5,436.1 1252.6,436.9 1255.1,438.8 1258.3,441.0 1261.3,443.1 1262.3,443.7 1264.6,445.2 1266.0,446.0 1268.0,447.2 1269.6,448.1 1271.7,449.3 1273.2,450.1 1275.5,451.3 1276.8,452.0 1279.6,453.4 1280.5,453.8 1283.9,455.4 1287.7,457.2 1291.3,458.7 1293.3,459.6 1295.0,460.2 1298.5,461.6 1302.2,463.0 1304.1,463.7 1305.8,464.3 1309.5,465.5 1313.1,466.7 1316.7,467.8 1320.3,468.8 1323.9,469.8 1327.6,470.8 1331.2,471.8 1334.8,472.6 1338.5,473.5 1340.6,474.0 1342.1,474.3 1345.7,475.0 1349.3,475.8 1350.6,476.0 1353.0,476.4 1356.6,477.1 1360.2,477.7 1362.3,478.1 1363.8,478.3 1367.5,478.9 1371.1,479.4 1374.7,479.9 1376.5,480.1 1378.3,480.4 1382.0,480.8 1385.6,481.2 1389.2,481.6 1392.8,482.0 1395.0,482.2 1396.5,482.3 1400.1,482.6 1403.7,482.9 1407.3,483.2 1411.0,483.5 1414.6,483.7 1418.2,484.0 1421.8,484.2 1423.2,484.2 1425.5,484.4 1429.1,484.5 1432.7,484.7 1436.3,484.9 1440.0,485.0 1443.6,485.1 1447.2,485.3 1450.8,485.4 1454.5,485.5 1458.1,485.6 1461.7,485.7 1465.3,485.8 1469.0,485.9 1472.6,486.0 1476.2,486.0 1479.8,486.1 1483.5,486.2 1487.0,486.3 1490.7,486.4 1494.3,486.5 1498.0,486.6 1501.6,486.7 1505.2,486.8 1508.8,486.9 1512.5,487.0 1516.1,487.1 1519.7,487.2 1523.3,487.3 1527.0,487.5 1530.6,487.6 1534.2,487.8 1537.8,487.9 1541.5,488.1 1545.1,488.3 1546.8,488.3 1548.7,488.4 1552.3,488.6 1556.0,488.8 1559.6,489.0 1563.2,489.2 1566.8,489.4 1570.5,489.7 1574.1,489.9 1577.7,490.1 1581.3,490.3 1582.7,490.4 1585.0,490.5 1588.6,490.8 1592.2,491.0 1595.8,491.2 1599.5,491.5 1603.1,491.7 1606.7,491.9 1610.3,492.1 1614.0,492.3 1616.7,492.5Z" fill="#190c3e" fill-rule="evenodd"/>
<path d="M1642.4,486.3 1646.6,486.4 1650.2,486.5 1653.8,486.6 1657.5,486.6 1661.1,486.6 1664.7,486.6 1668.3,486.6 1672.0,486.5 1675.6,486.5 1679.2,486.4 1681.0,486.3 1682.8,486.2 1686.4,486.1 1690.1,485.9 1693.7,485.6 1697.3,485.4 1701.0,485.1 1704.6,484.7 1708.2,484.3 1711.8,483.9 1715.5,483.4 1719.1,482.9 1722.7,482.4 1724.0,482.2 1726.3,481.8 1730.0,481.1 1733.6,480.4 1735.1,480.1 1737.2,479.7 1740.8,478.9 1744.2,478.1 1748.1,477.1 1751.7,476.1 1755.3,475.0 1758.7,474.0 1762.6,472.6 1764.7,471.9 1766.2,471.3 1769.8,470.0 1773.5,468.5 1775.0,467.8 1777.1,466.9 1779.5,465.7 1780.7,465.1 1783.6,463.7 1787.4,461.6 1790.9,459.6 1794.2,457.5 1795.2,456.8 1797.2,455.4 1798.8,454.2 1800.0,453.4 1802.5,451.4 1805.0,449.3 1806.1,448.3 1807.2,447.2 1809.3,445.2 1811.2,443.1 1813.0,441.0 1814.6,439.0 1816.1,436.9 1817.0,435.7 1817.5,434.9 1818.7,432.8 1819.8,430.8 1820.6,429.2 1821.7,426.7 1822.4,424.6 1823.1,422.5 1823.6,420.5 1824.0,418.4 1824.4,416.4 1824.6,414.3 1824.7,412.3 1824.7,410.2 1824.7,408.1 1824.5,406.1 1824.2,404.1 1823.8,402.0 1823.3,399.9 1822.7,397.9 1822.0,395.8 1821.3,393.7 1820.6,392.2 1819.4,389.6 1818.3,387.6 1817.1,385.5 1815.8,383.5 1814.4,381.4 1813.3,379.9 1811.3,377.3 1809.7,375.4 1807.7,373.2 1806.1,371.4 1803.8,369.1 1802.5,367.8 1801.6,367.0 1799.4,365.0 1797.0,362.9 1795.2,361.4 1794.5,360.8 1792.0,358.8 1789.3,356.7 1788.0,355.7 1786.5,354.7 1784.3,353.1 1780.7,350.6 1777.7,348.5 1774.6,346.4 1773.5,345.7 1771.4,344.4 1769.8,343.4 1768.1,342.3 1766.2,341.1 1764.9,340.3 1762.6,338.8 1761.6,338.2 1759.0,336.6 1755.3,334.4 1751.7,332.1 1748.3,330.0 1745.1,327.9 1741.9,325.9 1740.8,325.2 1738.8,323.8 1737.2,322.7 1735.8,321.8 1733.6,320.2 1732.9,319.7 1730.0,317.7 1727.4,315.6 1726.3,314.8 1724.8,313.5 1722.7,311.8 1720.1,309.4 1719.1,308.5 1717.9,307.4 1715.8,305.3 1713.9,303.3 1712.2,301.2 1710.5,299.1 1709.0,297.1 1708.2,296.0 1707.6,295.0 1706.3,293.0 1705.1,290.9 1704.6,290.0 1704.0,288.9 1703.0,286.8 1702.0,284.7 1701.2,282.7 1700.5,280.6 1699.8,278.6 1699.1,276.5 1698.6,274.5 1698.1,272.4 1697.6,270.4 1697.3,269.0 1696.8,266.2 1696.4,264.2 1696.1,262.1 1695.8,260.1 1695.5,258.0 1695.2,256.0 1695.0,253.9 1694.7,251.8 1694.4,249.8 1694.2,247.7 1693.9,245.7 1693.7,244.3 1693.3,241.6 1693.0,239.5 1692.7,237.4 1692.3,235.4 1691.9,233.3 1691.5,231.3 1691.1,229.2 1690.6,227.2 1690.1,225.1 1689.5,223.1 1688.9,221.0 1688.3,218.9 1687.6,216.9 1686.8,214.8 1686.4,213.8 1686.0,212.8 1685.2,210.7 1684.3,208.7 1683.3,206.6 1682.8,205.7 1682.2,204.5 1681.1,202.5 1679.9,200.4 1679.2,199.2 1678.7,198.4 1677.4,196.3 1675.9,194.3 1674.4,192.2 1672.8,190.1 1672.0,189.1 1671.1,188.1 1669.3,186.0 1668.3,184.9 1667.4,184.0 1665.4,181.9 1664.7,181.2 1663.3,179.9 1661.1,177.8 1658.7,175.8 1657.5,174.8 1656.1,173.7 1653.8,171.9 1650.6,169.6 1647.6,167.5 1646.6,166.9 1644.4,165.5 1643.0,164.6 1641.0,163.4 1639.3,162.5 1637.3,161.4 1635.7,160.5 1633.4,159.3 1632.1,158.6 1629.2,157.2 1624.8,155.3 1621.2,153.7 1619.7,153.1 1617.6,152.3 1614.3,151.1 1610.3,149.7 1608.4,149.0 1606.7,148.5 1603.1,147.4 1601.7,147.0 1599.5,146.3 1595.8,145.3 1594.1,144.9 1592.2,144.4 1588.6,143.6 1585.1,142.8 1581.3,142.1 1577.7,141.4 1574.1,140.8 1570.5,140.3 1566.8,139.8 1563.2,139.4 1559.6,139.0 1556.9,138.7 1552.3,138.4 1548.7,138.1 1545.1,138.0 1541.5,137.8 1537.8,137.7 1534.2,137.7 1530.6,137.7 1527.0,137.8 1523.3,137.9 1519.7,138.1 1516.1,138.3 1512.5,138.6 1510.8,138.7 1508.8,138.9 1505.2,139.3 1501.6,139.7 1498.0,140.2 1494.3,140.7 1490.7,141.3 1487.1,141.9 1483.5,142.6 1482.1,142.8 1479.8,143.3 1476.2,144.1 1472.9,144.9 1469.0,145.9 1465.3,146.9 1461.7,147.9 1458.1,149.0 1454.5,150.2 1451.8,151.1 1450.8,151.4 1447.2,152.7 1446.1,153.1 1443.6,154.1 1440.8,155.2 1440.0,155.5 1436.3,157.1 1432.7,158.7 1431.4,159.3 1429.1,160.4 1427.1,161.4 1425.5,162.2 1423.1,163.4 1421.8,164.1 1419.3,165.5 1418.2,166.1 1415.7,167.5 1414.6,168.2 1412.2,169.6 1411.0,170.4 1408.9,171.6 1407.3,172.7 1405.8,173.7 1403.7,175.1 1402.8,175.8 1400.1,177.7 1397.2,179.9 1396.5,180.4 1394.5,181.9 1392.8,183.3 1392.0,184.0 1389.5,186.0 1387.1,188.1 1385.6,189.5 1384.8,190.1 1382.6,192.2 1382.0,192.8 1380.4,194.3 1378.3,196.3 1376.3,198.4 1374.7,200.0 1372.4,202.5 1371.1,203.9 1370.5,204.5 1368.6,206.6 1367.5,208.0 1366.8,208.7 1365.1,210.7 1363.8,212.2 1361.6,214.8 1360.2,216.5 1358.3,218.9 1356.6,221.0 1355.0,223.1 1353.3,225.1 1351.7,227.2 1350.1,229.2 1349.3,230.2 1348.5,231.3 1346.9,233.3 1345.7,234.8 1343.6,237.4 1342.1,239.4 1340.3,241.6 1338.7,243.6 1337.0,245.7 1335.3,247.7 1333.5,249.8 1331.8,251.8 1331.2,252.5 1330.0,253.9 1328.1,256.0 1326.3,258.0 1324.4,260.1 1322.4,262.1 1320.5,264.2 1318.5,266.2 1316.7,268.0 1314.3,270.4 1313.1,271.6 1312.2,272.4 1310.0,274.5 1307.9,276.5 1305.8,278.4 1303.4,280.6 1302.2,281.7 1301.1,282.7 1298.8,284.7 1296.5,286.8 1295.0,288.1 1294.1,288.9 1291.8,290.9 1289.4,293.0 1287.7,294.5 1284.7,297.1 1284.1,297.7 1282.4,299.1 1280.5,300.9 1277.7,303.3 1276.8,304.1 1275.5,305.3 1273.2,307.4 1271.0,309.4 1269.6,310.8 1268.8,311.5 1266.7,313.5 1266.0,314.2 1264.6,315.6 1262.5,317.7 1260.5,319.7 1258.7,321.6 1256.7,323.8 1255.1,325.6 1253.1,327.9 1251.5,329.9 1249.8,332.0 1248.2,334.1 1246.7,336.2 1245.3,338.2 1244.2,339.8 1242.6,342.3 1241.4,344.4 1240.6,345.9 1239.2,348.5 1238.2,350.6 1237.2,352.6 1236.4,354.7 1235.6,356.7 1234.9,358.8 1234.3,360.8 1233.7,362.9 1233.3,364.5 1232.8,367.0 1232.5,369.1 1232.2,371.1 1232.0,373.2 1231.9,375.2 1231.9,377.3 1231.9,379.3 1232.1,381.4 1232.3,383.5 1232.6,385.5 1232.9,387.6 1233.3,389.3 1233.9,391.7 1234.5,393.7 1235.2,395.8 1236.0,397.9 1236.9,399.9 1237.9,402.0 1238.9,404.0 1240.1,406.1 1240.6,406.9 1241.3,408.1 1242.6,410.2 1244.1,412.3 1245.6,414.3 1247.3,416.4 1247.8,417.0 1249.0,418.4 1250.9,420.5 1252.9,422.5 1255.0,424.6 1257.2,426.7 1258.7,427.9 1259.6,428.7 1262.1,430.8 1264.7,432.8 1266.0,433.7 1267.5,434.9 1269.6,436.3 1270.5,436.9 1273.2,438.7 1276.8,440.9 1280.5,443.1 1284.1,445.1 1287.7,446.9 1291.3,448.7 1292.5,449.3 1295.0,450.4 1297.0,451.3 1298.6,452.0 1301.8,453.4 1305.8,455.0 1307.0,455.4 1309.5,456.3 1312.6,457.5 1316.7,458.9 1318.7,459.6 1320.3,460.1 1324.0,461.2 1325.3,461.6 1327.6,462.3 1331.2,463.3 1332.6,463.7 1334.8,464.3 1338.5,465.2 1340.7,465.7 1342.1,466.0 1345.7,466.9 1349.3,467.7 1353.0,468.4 1356.6,469.1 1360.2,469.8 1363.8,470.4 1367.5,471.0 1371.1,471.6 1373.1,471.9 1374.7,472.1 1378.3,472.6 1382.0,473.1 1385.6,473.6 1388.9,474.0 1392.8,474.4 1396.5,474.7 1400.1,475.1 1403.7,475.4 1407.3,475.7 1411.0,476.0 1414.6,476.2 1418.2,476.5 1421.8,476.7 1425.5,476.9 1429.1,477.1 1432.7,477.3 1436.3,477.4 1440.0,477.6 1443.6,477.7 1447.2,477.9 1450.8,478.0 1453.9,478.1 1458.1,478.2 1461.7,478.3 1465.3,478.4 1469.0,478.5 1472.6,478.5 1476.2,478.6 1479.8,478.7 1483.5,478.8 1487.1,478.9 1490.7,479.0 1494.3,479.0 1498.0,479.1 1501.6,479.2 1505.2,479.3 1508.8,479.4 1512.5,479.5 1516.1,479.6 1519.7,479.8 1523.3,479.9 1527.0,480.0 1529.7,480.1 1534.2,480.3 1537.8,480.5 1541.5,480.6 1545.1,480.8 1548.7,481.0 1552.3,481.2 1556.0,481.4 1559.6,481.6 1563.2,481.8 1566.8,482.0 1569.7,482.2 1574.1,482.4 1577.7,482.7 1581.3,482.9 1585.0,483.1 1588.6,483.4 1592.2,483.6 1595.8,483.8 1599.5,484.1 1601.9,484.2 1603.1,484.3 1606.7,484.5 1610.3,484.8 1614.0,485.0 1617.6,485.2 1621.2,485.4 1624.8,485.6 1628.5,485.7 1632.1,485.9 1635.7,486.1 1639.3,486.2 1642.4,486.3Z" fill="#380962" fill-rule="evenodd"/>
<path d="M1621.6,478.1 1624.8,478.2 1628.5,478.4 1632.1,478.6 1635.7,478.7 1639.3,478.9 1643.0,479.0 1646.6,479.1 1650.2,479.2 1653.8,479.2 1657.5,479.3 1661.1,479.3 1664.7,479.3 1668.3,479.2 1672.0,479.2 1675.6,479.1 1679.2,479.0 1682.8,478.8 1686.4,478.6 1690.1,478.4 1693.7,478.1 1697.3,477.8 1701.0,477.5 1704.6,477.1 1708.2,476.6 1711.8,476.2 1712.9,476.0 1715.5,475.6 1719.1,475.1 1722.7,474.4 1725.3,474.0 1730.0,473.0 1733.6,472.2 1735.0,471.9 1737.2,471.4 1740.8,470.4 1743.0,469.8 1744.5,469.4 1748.1,468.4 1749.9,467.8 1751.7,467.2 1755.3,466.0 1759.0,464.6 1761.4,463.7 1762.6,463.2 1766.2,461.6 1769.8,459.9 1773.5,458.1 1774.6,457.5 1777.1,456.1 1778.3,455.4 1780.7,454.0 1781.7,453.4 1784.3,451.6 1787.6,449.3 1790.3,447.2 1791.6,446.1 1792.7,445.2 1794.9,443.1 1797.0,441.0 1798.8,439.0 1800.6,436.9 1802.1,434.9 1803.5,432.8 1804.8,430.8 1805.9,428.7 1806.9,426.7 1807.8,424.6 1808.6,422.5 1809.2,420.5 1809.7,418.4 1810.1,416.4 1810.3,414.3 1810.5,412.3 1810.5,410.2 1810.5,408.1 1810.3,406.1 1810.0,404.0 1809.7,402.6 1809.1,399.9 1808.4,397.9 1807.7,395.8 1806.9,393.7 1806.1,392.0 1804.8,389.6 1803.7,387.6 1802.5,385.6 1801.0,383.5 1799.4,381.4 1798.8,380.6 1797.8,379.3 1796.1,377.3 1795.2,376.3 1794.2,375.2 1792.2,373.2 1791.6,372.5 1790.1,371.1 1788.0,369.1 1785.6,367.0 1784.3,366.0 1783.1,365.0 1780.7,363.0 1777.9,360.8 1777.1,360.2 1775.1,358.8 1773.5,357.6 1772.2,356.7 1769.8,355.1 1766.2,352.6 1763.0,350.6 1759.8,348.5 1759.0,348.0 1756.5,346.4 1755.3,345.7 1753.1,344.4 1751.7,343.5 1749.8,342.3 1748.1,341.3 1746.3,340.3 1744.5,339.1 1742.9,338.2 1740.8,336.9 1739.5,336.2 1737.2,334.7 1736.2,334.1 1733.6,332.5 1730.0,330.2 1726.4,327.9 1723.3,325.9 1720.3,323.8 1719.1,322.9 1717.5,321.8 1715.5,320.2 1714.8,319.7 1712.2,317.7 1709.7,315.6 1708.2,314.3 1707.4,313.5 1705.2,311.5 1704.6,310.9 1703.2,309.4 1701.3,307.4 1699.5,305.3 1697.9,303.3 1697.3,302.5 1696.4,301.2 1695.0,299.1 1693.7,297.1 1692.6,295.0 1691.5,293.0 1690.6,290.9 1690.1,289.7 1689.0,286.8 1688.3,284.7 1687.7,282.7 1687.1,280.6 1686.6,278.6 1686.2,276.5 1685.8,274.5 1685.5,272.4 1685.2,270.4 1684.9,268.3 1684.7,266.2 1684.5,264.2 1684.3,262.1 1684.1,260.1 1683.9,258.0 1683.8,256.0 1683.6,253.9 1683.4,251.8 1683.3,249.8 1683.1,247.7 1682.9,245.7 1682.7,243.6 1682.4,241.6 1682.2,239.5 1681.9,237.4 1681.6,235.4 1681.3,233.3 1680.9,231.3 1680.5,229.2 1680.0,227.2 1679.5,225.1 1679.2,223.9 1678.4,221.0 1677.7,218.9 1677.0,216.9 1676.3,214.8 1675.6,213.1 1674.6,210.7 1673.6,208.7 1672.6,206.6 1672.0,205.4 1671.5,204.5 1670.3,202.5 1669.1,200.4 1668.3,199.3 1667.7,198.4 1666.3,196.3 1664.8,194.3 1663.2,192.2 1661.5,190.1 1659.6,188.1 1657.7,186.0 1655.6,184.0 1653.8,182.3 1651.1,179.9 1650.2,179.1 1648.6,177.8 1646.6,176.2 1643.2,173.7 1640.2,171.6 1639.3,171.1 1637.0,169.6 1635.7,168.8 1633.6,167.5 1632.1,166.7 1629.9,165.5 1628.5,164.7 1625.9,163.4 1624.8,162.9 1621.7,161.4 1617.6,159.5 1614.0,158.0 1612.0,157.2 1610.3,156.6 1606.7,155.3 1603.1,154.1 1600.1,153.1 1595.8,151.9 1592.9,151.1 1588.6,150.0 1585.0,149.1 1581.3,148.3 1577.7,147.6 1574.1,147.0 1570.5,146.4 1566.8,145.8 1563.2,145.4 1559.6,144.9 1556.0,144.6 1552.3,144.3 1548.7,144.0 1545.1,143.8 1541.5,143.7 1537.8,143.6 1534.2,143.6 1530.6,143.6 1527.0,143.7 1523.3,143.8 1519.7,144.0 1516.1,144.2 1512.5,144.5 1508.8,144.8 1505.2,145.2 1501.6,145.7 1498.0,146.2 1494.3,146.7 1492.9,147.0 1490.7,147.3 1487.1,148.0 1483.5,148.7 1482.2,149.0 1479.8,149.5 1476.2,150.4 1473.5,151.1 1469.0,152.3 1466.0,153.1 1461.7,154.4 1459.4,155.2 1458.1,155.6 1454.5,156.9 1453.5,157.2 1450.8,158.2 1448.1,159.3 1447.2,159.7 1443.6,161.2 1440.0,162.7 1438.5,163.4 1436.3,164.4 1434.2,165.5 1432.7,166.2 1430.1,167.5 1429.1,168.1 1426.3,169.6 1425.5,170.0 1422.7,171.6 1421.8,172.1 1419.2,173.7 1418.2,174.3 1416.0,175.8 1414.6,176.7 1412.9,177.8 1411.0,179.1 1409.9,179.9 1407.3,181.7 1404.4,184.0 1401.7,186.0 1400.1,187.4 1399.2,188.1 1396.8,190.1 1394.5,192.2 1392.8,193.7 1390.1,196.3 1389.2,197.2 1388.0,198.4 1386.0,200.4 1384.0,202.5 1382.1,204.5 1380.2,206.6 1378.4,208.7 1376.6,210.7 1374.9,212.8 1373.2,214.8 1371.5,216.9 1369.9,218.9 1368.3,221.0 1367.5,222.1 1366.7,223.1 1365.1,225.1 1363.8,226.8 1362.0,229.2 1360.5,231.3 1358.9,233.3 1357.4,235.4 1356.6,236.5 1355.9,237.4 1354.3,239.5 1353.0,241.3 1351.2,243.6 1349.6,245.7 1348.0,247.7 1346.4,249.8 1345.7,250.7 1344.8,251.8 1343.1,253.9 1342.1,255.1 1341.4,256.0 1339.7,258.0 1338.5,259.4 1336.1,262.1 1334.8,263.6 1332.4,266.2 1331.2,267.5 1330.5,268.3 1328.5,270.4 1327.6,271.3 1326.5,272.4 1324.5,274.5 1322.4,276.5 1320.3,278.6 1318.2,280.6 1316.7,282.0 1316.0,282.7 1313.8,284.7 1313.1,285.4 1311.5,286.8 1309.5,288.7 1307.0,290.9 1305.8,291.9 1304.7,293.0 1302.4,295.0 1300.0,297.1 1298.6,298.4 1297.7,299.1 1295.4,301.2 1293.1,303.3 1291.3,304.8 1288.5,307.4 1287.7,308.1 1286.3,309.4 1284.1,311.5 1281.9,313.5 1280.5,314.9 1279.7,315.6 1277.6,317.7 1276.8,318.5 1275.6,319.7 1273.6,321.8 1271.6,323.8 1269.8,325.9 1267.9,327.9 1266.2,330.0 1264.5,332.0 1262.8,334.1 1261.3,336.2 1259.8,338.2 1258.7,339.8 1257.0,342.3 1255.8,344.4 1255.1,345.5 1254.6,346.4 1253.4,348.5 1252.4,350.6 1251.5,352.5 1250.5,354.7 1249.7,356.7 1249.0,358.8 1248.3,360.8 1247.8,362.6 1247.2,365.0 1246.8,367.0 1246.5,369.1 1246.2,371.1 1246.0,373.2 1245.9,375.2 1245.9,377.3 1246.0,379.3 1246.2,381.4 1246.4,383.5 1246.7,385.5 1247.1,387.6 1247.6,389.6 1248.2,391.7 1248.9,393.7 1249.7,395.8 1250.5,397.9 1251.5,399.8 1252.6,402.0 1253.7,404.0 1255.0,406.1 1256.4,408.1 1257.8,410.2 1258.7,411.3 1259.4,412.3 1261.1,414.3 1262.3,415.6 1263.0,416.4 1264.9,418.4 1266.0,419.4 1267.0,420.5 1269.2,422.5 1271.6,424.6 1273.2,425.9 1274.1,426.7 1276.8,428.7 1279.6,430.8 1280.5,431.3 1282.6,432.8 1284.1,433.8 1285.8,434.9 1287.7,436.0 1289.3,436.9 1291.3,438.1 1292.9,439.0 1295.0,440.1 1296.8,441.0 1298.6,442.0 1300.9,443.1 1302.2,443.7 1305.4,445.2 1309.5,446.9 1313.1,448.4 1315.3,449.3 1316.7,449.8 1320.3,451.1 1324.0,452.4 1327.0,453.4 1331.2,454.7 1333.6,455.4 1334.8,455.8 1338.5,456.8 1341.0,457.5 1342.1,457.8 1345.7,458.7 1349.3,459.6 1353.0,460.4 1356.6,461.1 1358.9,461.6 1360.2,461.9 1363.8,462.6 1367.5,463.2 1370.0,463.7 1371.1,463.8 1374.7,464.4 1378.3,465.0 1382.0,465.5 1383.7,465.7 1385.6,466.0 1389.2,466.4 1392.8,466.8 1396.5,467.2 1400.1,467.6 1401.9,467.8 1403.7,468.0 1407.3,468.3 1411.0,468.6 1414.6,468.8 1418.2,469.1 1421.8,469.3 1425.5,469.6 1429.1,469.7 1430.9,469.8 1432.7,469.9 1436.3,470.1 1440.0,470.3 1443.6,470.4 1447.2,470.5 1450.8,470.6 1454.5,470.8 1458.1,470.9 1461.7,471.0 1465.3,471.0 1469.0,471.1 1472.6,471.2 1476.2,471.3 1479.8,471.4 1483.5,471.4 1487.1,471.5 1490.7,471.6 1494.3,471.7 1498.0,471.7 1501.6,471.8 1504.0,471.9 1505.2,471.9 1508.8,472.0 1512.5,472.1 1516.1,472.2 1519.7,472.3 1523.3,472.5 1527.0,472.6 1530.6,472.7 1534.2,472.9 1537.8,473.0 1541.5,473.2 1545.1,473.4 1548.7,473.6 1552.3,473.7 1556.0,473.9 1559.6,474.2 1563.2,474.4 1566.8,474.6 1570.5,474.8 1574.1,475.0 1577.7,475.3 1581.3,475.5 1585.0,475.7 1588.6,476.0 1592.2,476.2 1595.8,476.5 1599.5,476.7 1603.1,476.9 1606.7,477.2 1610.3,477.4 1614.0,477.6 1617.6,477.8 1621.2,478.0Z" fill="#57106e" fill-rule="evenodd"/>
<path d="M1608.6,469.8 1610.3,469.9 1614.0,470.2 1617.6,470.4 1621.2,470.6 1624.8,470.8 1628.5,471.0 1632.1,471.1 1635.7,471.3 1639.3,471.4 1643.0,471.6 1646.6,471.7 1650.2,471.7 1653.8,471.8 1657.5,471.8 1661.1,471.8 1664.7,471.8 1668.3,471.7 1672.0,471.6 1675.6,471.5 1679.2,471.4 1682.8,471.2 1686.4,471.0 1690.1,470.7 1693.7,470.4 1697.3,470.0 1699.1,469.8 1701.0,469.6 1704.6,469.2 1708.2,468.7 1711.8,468.1 1714.0,467.8 1715.5,467.5 1719.1,466.9 1722.7,466.1 1724.6,465.7 1726.3,465.4 1730.0,464.5 1733.2,463.7 1737.2,462.5 1740.3,461.6 1744.5,460.3 1746.5,459.6 1748.1,459.0 1751.7,457.6 1755.3,456.1 1756.7,455.4 1759.0,454.4 1761.0,453.4 1762.6,452.6 1765.0,451.3 1766.2,450.6 1768.5,449.3 1769.8,448.5 1771.7,447.2 1773.5,446.0 1774.7,445.2 1777.1,443.3 1779.8,441.0 1780.7,440.3 1782.1,439.0 1784.1,436.9 1785.9,434.9 1787.6,432.8 1789.1,430.8 1790.4,428.7 1791.6,426.7 1792.6,424.6 1793.5,422.5 1794.2,420.5 1794.8,418.4 1795.2,416.6 1795.6,414.3 1795.8,412.3 1795.8,410.2 1795.8,408.1 1795.6,406.1 1795.3,404.0 1794.9,402.0 1794.4,399.9 1793.7,397.9 1792.9,395.8 1792.0,393.7 1791.6,392.9 1791.0,391.7 1789.8,389.6 1788.5,387.6 1788.0,386.7 1787.1,385.5 1785.6,383.5 1784.3,381.9 1782.1,379.3 1780.7,377.8 1778.2,375.2 1777.1,374.2 1776.0,373.2 1773.7,371.1 1771.3,369.1 1769.8,367.9 1768.8,367.0 1766.2,365.0 1763.3,362.9 1762.6,362.4 1760.4,360.8 1759.0,359.8 1757.4,358.8 1755.3,357.4 1754.3,356.7 1751.7,355.1 1748.1,352.8 1744.5,350.6 1741.0,348.5 1737.5,346.4 1734.0,344.4 1730.5,342.3 1727.0,340.3 1723.5,338.2 1722.7,337.7 1720.1,336.2 1719.1,335.5 1716.8,334.1 1715.5,333.3 1713.5,332.0 1711.8,330.9 1710.4,330.0 1708.2,328.5 1707.4,327.9 1704.6,326.0 1701.7,323.8 1701.0,323.3 1699.1,321.8 1697.3,320.3 1696.6,319.7 1694.3,317.7 1692.1,315.6 1690.1,313.6 1688.2,311.5 1686.4,309.4 1684.8,307.4 1683.4,305.3 1682.8,304.5 1682.0,303.3 1680.8,301.2 1679.7,299.1 1679.2,298.0 1678.8,297.1 1677.9,295.0 1677.1,293.0 1676.4,290.9 1675.8,288.9 1675.2,286.8 1674.8,284.7 1674.4,282.7 1674.0,280.6 1673.7,278.6 1673.5,276.5 1673.3,274.5 1673.1,272.4 1673.0,270.4 1672.9,268.3 1672.8,266.2 1672.7,264.2 1672.7,262.1 1672.6,260.1 1672.6,258.0 1672.5,256.0 1672.4,253.9 1672.4,251.8 1672.3,249.8 1672.2,247.7 1672.1,245.7 1672.0,243.8 1671.8,241.6 1671.6,239.5 1671.3,237.4 1671.1,235.4 1670.8,233.3 1670.4,231.3 1670.0,229.2 1669.6,227.2 1669.1,225.1 1668.6,223.1 1668.0,221.0 1667.3,218.9 1666.6,216.9 1665.8,214.8 1665.0,212.8 1664.1,210.7 1663.1,208.7 1662.0,206.6 1661.1,205.0 1659.6,202.5 1658.3,200.4 1657.5,199.3 1656.8,198.4 1655.3,196.3 1653.8,194.5 1651.9,192.2 1650.2,190.3 1648.0,188.1 1646.6,186.7 1645.9,186.0 1643.6,184.0 1643.0,183.4 1641.2,181.9 1639.3,180.4 1638.6,179.9 1635.9,177.8 1632.9,175.8 1632.1,175.2 1629.7,173.7 1628.5,172.9 1626.3,171.6 1624.8,170.8 1622.6,169.6 1621.2,168.8 1618.6,167.5 1617.6,167.0 1614.3,165.5 1610.3,163.7 1606.7,162.3 1604.3,161.4 1603.1,160.9 1599.5,159.6 1598.4,159.3 1595.8,158.5 1592.2,157.4 1588.6,156.4 1585.0,155.4 1583.9,155.2 1581.3,154.6 1577.7,153.8 1574.4,153.1 1570.5,152.4 1566.8,151.8 1563.2,151.3 1561.1,151.1 1559.6,150.9 1556.0,150.5 1552.3,150.2 1548.7,149.9 1545.1,149.7 1541.5,149.5 1537.8,149.4 1534.2,149.4 1530.6,149.4 1527.0,149.5 1523.3,149.6 1519.7,149.8 1516.1,150.0 1512.5,150.3 1508.8,150.7 1505.5,151.1 1501.6,151.6 1498.0,152.1 1494.3,152.7 1492.0,153.1 1490.7,153.4 1487.1,154.1 1483.5,154.9 1482.1,155.2 1479.8,155.7 1476.2,156.7 1474.0,157.2 1472.6,157.6 1469.0,158.7 1467.0,159.3 1465.3,159.8 1461.7,161.0 1458.1,162.3 1455.2,163.4 1450.8,165.2 1447.2,166.7 1445.4,167.5 1443.6,168.4 1441.0,169.6 1440.0,170.1 1436.9,171.6 1433.1,173.7 1429.5,175.8 1426.1,177.8 1422.8,179.9 1421.8,180.5 1419.8,181.9 1418.2,183.0 1416.8,184.0 1414.6,185.6 1411.4,188.1 1408.8,190.1 1407.3,191.4 1406.4,192.2 1404.0,194.3 1401.8,196.3 1400.1,197.9 1397.5,200.4 1396.5,201.5 1395.5,202.5 1393.5,204.5 1392.8,205.3 1391.6,206.6 1389.8,208.7 1389.2,209.3 1388.0,210.7 1386.3,212.8 1385.6,213.6 1384.6,214.8 1382.9,216.9 1382.0,218.1 1381.3,218.9 1379.7,221.0 1378.3,222.8 1376.6,225.1 1375.1,227.2 1373.6,229.2 1372.1,231.3 1371.1,232.8 1369.2,235.4 1367.8,237.4 1366.3,239.5 1364.8,241.6 1363.8,243.0 1361.9,245.7 1360.4,247.7 1358.9,249.8 1357.4,251.8 1356.6,252.9 1355.8,253.9 1354.3,256.0 1353.0,257.7 1351.0,260.1 1349.4,262.1 1347.7,264.2 1346.0,266.2 1344.2,268.3 1342.4,270.4 1340.5,272.4 1338.6,274.5 1336.7,276.5 1334.8,278.4 1332.7,280.6 1331.2,282.1 1330.6,282.7 1328.5,284.7 1327.6,285.6 1326.3,286.8 1324.2,288.9 1322.0,290.9 1320.3,292.4 1317.5,295.0 1316.7,295.7 1315.2,297.1 1313.1,299.0 1310.6,301.2 1309.5,302.3 1308.3,303.3 1306.1,305.3 1303.8,307.4 1302.2,308.8 1301.5,309.4 1299.3,311.5 1298.6,312.1 1297.1,313.5 1295.0,315.6 1292.8,317.7 1291.3,319.1 1290.7,319.7 1288.6,321.8 1287.7,322.7 1286.6,323.8 1284.7,325.9 1284.1,326.5 1282.8,327.9 1281.0,330.0 1279.2,332.0 1277.5,334.1 1276.8,335.0 1275.9,336.2 1274.3,338.2 1273.2,339.8 1271.5,342.3 1270.1,344.4 1269.6,345.3 1268.9,346.4 1267.7,348.5 1266.6,350.6 1266.0,351.9 1264.7,354.7 1263.8,356.7 1263.1,358.8 1262.4,360.8 1261.8,362.9 1261.3,365.0 1260.8,367.0 1260.5,369.1 1260.2,371.1 1260.1,373.2 1260.0,375.2 1260.0,377.3 1260.1,379.3 1260.3,381.4 1260.6,383.5 1260.9,385.5 1261.4,387.6 1262.0,389.6 1262.3,390.7 1262.6,391.7 1263.4,393.7 1264.3,395.8 1265.2,397.9 1266.0,399.3 1267.5,402.0 1268.8,404.0 1269.6,405.2 1270.2,406.1 1271.7,408.1 1273.2,410.0 1275.2,412.3 1276.8,414.1 1279.1,416.4 1280.5,417.6 1281.3,418.4 1283.7,420.5 1286.2,422.5 1287.7,423.7 1288.9,424.6 1291.3,426.3 1294.8,428.7 1298.1,430.8 1301.7,432.8 1305.4,434.9 1309.5,436.9 1313.1,438.6 1316.7,440.3 1318.5,441.0 1320.3,441.8 1323.6,443.1 1327.6,444.6 1329.2,445.2 1331.2,445.9 1334.8,447.1 1338.5,448.2 1342.0,449.3 1345.7,450.3 1349.3,451.3 1353.0,452.2 1356.6,453.0 1358.1,453.4 1360.2,453.9 1363.8,454.6 1367.5,455.3 1371.1,456.0 1374.7,456.6 1378.3,457.2 1380.0,457.5 1382.0,457.8 1385.6,458.3 1389.2,458.8 1392.8,459.3 1395.1,459.6 1396.5,459.7 1400.1,460.1 1403.7,460.5 1407.3,460.8 1411.0,461.1 1414.6,461.4 1417.0,461.6 1418.2,461.7 1421.8,461.9 1425.5,462.2 1429.1,462.4 1432.7,462.6 1436.3,462.8 1440.0,462.9 1443.6,463.1 1447.2,463.2 1450.8,463.3 1454.5,463.4 1458.1,463.5 1461.7,463.6 1464.2,463.7 1469.0,463.8 1472.6,463.8 1476.2,463.9 1479.8,464.0 1483.5,464.1 1487.1,464.1 1490.7,464.2 1494.3,464.3 1498.0,464.3 1501.6,464.4 1505.2,464.5 1508.8,464.6 1512.5,464.7 1516.1,464.8 1519.7,464.9 1523.3,465.0 1527.0,465.1 1530.6,465.3 1534.2,465.4 1537.8,465.5 1541.5,465.7 1545.1,465.9 1548.7,466.0 1552.3,466.2 1556.0,466.4 1559.6,466.6 1563.2,466.8 1566.8,467.1 1570.5,467.3 1574.1,467.5 1577.7,467.8 1581.3,468.0 1585.0,468.2 1588.6,468.5 1592.2,468.7 1595.8,469.0 1599.5,469.2 1603.1,469.5 1606.7,469.7 1608.6,469.8Z" fill="#741a6e" fill-rule="evenodd"/>
<path d="M1637.4,463.7 1639.3,463.7 1643.0,463.9 1646.6,463.9 1650.2,464.0 1653.8,464.0 1657.5,464.1 1661.1,464.0 1664.7,464.0 1668.3,463.9 1672.0,463.8 1675.2,463.7 1679.2,463.5 1682.8,463.2 1686.4,462.9 1690.1,462.6 1693.7,462.3 1697.3,461.8 1699.1,461.6 1701.0,461.4 1704.6,460.8 1708.2,460.2 1711.8,459.6 1715.5,458.9 1719.1,458.1 1721.5,457.5 1722.7,457.2 1726.3,456.2 1729.1,455.4 1733.6,454.1 1735.6,453.4 1737.2,452.8 1740.8,451.4 1744.5,449.9 1746.0,449.3 1748.1,448.3 1750.3,447.2 1751.7,446.5 1754.1,445.2 1755.3,444.4 1757.5,443.1 1759.0,442.2 1760.6,441.0 1762.6,439.6 1763.4,439.0 1765.9,436.9 1768.2,434.9 1769.8,433.2 1772.0,430.8 1773.5,428.9 1775.0,426.7 1776.3,424.6 1777.1,423.0 1778.2,420.5 1778.9,418.4 1779.5,416.4 1779.9,414.3 1780.2,412.3 1780.3,410.2 1780.3,408.1 1780.1,406.1 1779.8,404.0 1779.4,402.0 1778.8,399.9 1778.1,397.9 1777.3,395.8 1776.3,393.7 1775.1,391.7 1773.9,389.6 1772.5,387.6 1770.9,385.5 1769.8,384.1 1769.3,383.5 1767.4,381.4 1766.2,380.1 1765.5,379.3 1763.4,377.3 1762.6,376.6 1761.1,375.2 1759.0,373.4 1756.2,371.1 1755.3,370.4 1753.5,369.1 1751.7,367.7 1750.7,367.0 1748.1,365.1 1744.8,362.9 1741.6,360.8 1740.8,360.4 1738.3,358.8 1737.2,358.1 1734.9,356.7 1733.6,355.9 1731.5,354.7 1730.0,353.8 1728.0,352.6 1726.3,351.7 1724.4,350.6 1722.7,349.6 1720.8,348.5 1719.1,347.5 1717.2,346.4 1715.5,345.4 1713.6,344.4 1711.8,343.4 1710.1,342.3 1708.2,341.2 1706.6,340.3 1704.6,339.1 1703.1,338.2 1701.0,336.9 1699.8,336.2 1697.3,334.6 1693.7,332.2 1690.6,330.0 1687.8,327.9 1686.4,326.9 1685.2,325.9 1682.8,323.9 1680.4,321.8 1679.2,320.7 1678.2,319.7 1676.2,317.7 1675.6,317.0 1674.3,315.6 1672.7,313.5 1672.0,312.6 1671.1,311.5 1669.7,309.4 1668.4,307.4 1667.3,305.3 1666.3,303.3 1665.3,301.2 1664.7,299.6 1663.8,297.1 1663.2,295.0 1662.7,293.0 1662.3,290.9 1661.9,288.9 1661.6,286.8 1661.4,284.7 1661.2,282.7 1661.1,281.0 1661.0,278.6 1660.9,276.5 1660.9,274.5 1660.9,272.4 1660.9,270.4 1661.0,268.3 1661.0,266.2 1661.1,264.5 1661.2,262.1 1661.2,260.1 1661.3,258.0 1661.3,256.0 1661.4,253.9 1661.4,251.8 1661.4,249.8 1661.4,247.7 1661.4,245.7 1661.3,243.6 1661.2,241.6 1661.1,240.1 1660.9,237.4 1660.6,235.4 1660.4,233.3 1660.0,231.3 1659.7,229.2 1659.3,227.2 1658.8,225.1 1658.2,223.1 1657.6,221.0 1657.0,218.9 1656.2,216.9 1655.4,214.8 1654.5,212.8 1653.8,211.3 1652.5,208.7 1651.3,206.6 1650.2,204.7 1648.8,202.5 1647.3,200.4 1646.6,199.4 1645.8,198.4 1644.1,196.3 1643.0,195.0 1642.3,194.3 1640.4,192.2 1639.3,191.1 1638.4,190.1 1636.2,188.1 1633.8,186.0 1632.1,184.6 1631.2,184.0 1628.5,181.9 1625.6,179.9 1624.8,179.4 1622.4,177.8 1621.2,177.0 1619.0,175.8 1617.6,174.9 1615.3,173.7 1614.0,173.0 1611.3,171.6 1610.3,171.2 1606.8,169.6 1603.1,168.0 1601.9,167.5 1599.5,166.6 1596.5,165.5 1592.2,164.0 1590.3,163.4 1588.6,162.9 1585.0,161.9 1583.0,161.4 1581.3,160.9 1577.7,160.1 1574.2,159.3 1570.5,158.6 1566.8,157.9 1563.2,157.4 1559.6,156.9 1556.0,156.4 1552.3,156.1 1548.7,155.8 1545.1,155.5 1541.5,155.4 1537.8,155.2 1534.2,155.2 1530.6,155.2 1527.0,155.3 1523.3,155.4 1519.7,155.6 1516.1,155.9 1512.5,156.2 1508.8,156.6 1505.2,157.0 1503.7,157.2 1501.6,157.5 1498.0,158.1 1494.3,158.8 1491.5,159.3 1487.1,160.2 1483.5,161.1 1482.4,161.4 1479.8,162.0 1476.2,163.0 1474.8,163.4 1472.6,164.1 1469.0,165.2 1465.3,166.5 1462.4,167.5 1458.1,169.2 1457.1,169.6 1454.5,170.7 1452.3,171.6 1450.8,172.3 1447.9,173.7 1443.8,175.8 1440.0,177.8 1436.3,179.8 1432.9,181.9 1429.7,184.0 1426.7,186.0 1425.5,186.9 1423.8,188.1 1421.8,189.5 1421.0,190.1 1418.4,192.2 1415.9,194.3 1414.6,195.4 1413.5,196.3 1411.2,198.4 1409.1,200.4 1407.3,202.1 1404.9,204.5 1403.7,205.8 1403.0,206.6 1401.1,208.7 1400.1,209.8 1399.3,210.7 1397.5,212.8 1396.5,214.0 1395.8,214.8 1394.1,216.9 1392.8,218.6 1391.0,221.0 1389.4,223.1 1387.9,225.1 1386.5,227.2 1385.6,228.4 1385.0,229.2 1383.6,231.3 1382.2,233.3 1380.8,235.4 1379.4,237.4 1378.3,239.1 1376.7,241.6 1375.3,243.6 1374.7,244.5 1373.9,245.7 1372.6,247.7 1371.2,249.8 1369.8,251.8 1368.4,253.9 1367.5,255.2 1366.9,256.0 1365.5,258.0 1364.0,260.1 1362.4,262.1 1360.9,264.2 1360.2,265.1 1359.3,266.2 1357.7,268.3 1356.6,269.6 1356.0,270.4 1354.3,272.4 1353.0,274.0 1350.7,276.5 1349.3,278.1 1347.0,280.6 1345.7,282.0 1345.1,282.7 1343.1,284.7 1342.1,285.8 1341.1,286.8 1339.0,288.9 1336.9,290.9 1334.8,292.9 1332.6,295.0 1331.2,296.3 1330.4,297.1 1328.2,299.1 1325.9,301.2 1324.0,303.0 1321.4,305.3 1320.3,306.3 1319.2,307.4 1316.9,309.4 1314.7,311.5 1313.1,313.0 1310.3,315.6 1309.5,316.4 1308.1,317.7 1306.0,319.7 1303.9,321.8 1302.2,323.4 1299.8,325.9 1298.6,327.2 1297.9,327.9 1296.0,330.0 1295.0,331.2 1294.2,332.0 1292.4,334.1 1291.3,335.4 1290.7,336.2 1289.1,338.2 1287.7,340.1 1286.1,342.3 1284.7,344.4 1284.1,345.4 1283.4,346.4 1282.2,348.5 1281.1,350.6 1280.5,351.8 1280.0,352.6 1279.1,354.7 1278.2,356.7 1277.4,358.8 1276.8,360.4 1276.1,362.9 1275.5,365.0 1275.1,367.0 1274.8,369.1 1274.5,371.1 1274.3,373.2 1274.3,375.2 1274.3,377.3 1274.5,379.3 1274.7,381.4 1275.0,383.5 1275.4,385.5 1276.0,387.6 1276.6,389.6 1277.4,391.7 1278.2,393.7 1279.2,395.8 1280.3,397.9 1281.5,399.9 1282.8,402.0 1284.1,403.7 1285.9,406.1 1287.6,408.1 1289.5,410.2 1291.3,412.0 1293.7,414.3 1295.0,415.4 1296.1,416.4 1298.6,418.4 1301.4,420.5 1302.2,421.1 1304.3,422.5 1305.8,423.6 1307.4,424.6 1309.5,425.8 1310.8,426.7 1313.1,427.9 1314.5,428.7 1316.7,429.9 1318.4,430.8 1320.3,431.7 1322.7,432.8 1324.0,433.4 1327.3,434.9 1331.2,436.5 1332.4,436.9 1334.8,437.9 1337.9,439.0 1342.1,440.4 1344.0,441.0 1345.7,441.6 1349.3,442.7 1350.9,443.1 1353.0,443.7 1356.6,444.7 1358.6,445.2 1360.2,445.6 1363.8,446.4 1367.5,447.2 1371.1,448.0 1374.7,448.7 1378.0,449.3 1382.0,449.9 1385.6,450.5 1389.2,451.1 1391.1,451.3 1392.8,451.6 1396.5,452.0 1400.1,452.5 1403.7,452.9 1407.3,453.2 1408.9,453.4 1411.0,453.6 1414.6,453.9 1418.2,454.2 1421.8,454.5 1425.5,454.7 1429.1,454.9 1432.7,455.1 1436.3,455.3 1439.5,455.4 1443.6,455.6 1447.2,455.7 1450.8,455.9 1454.5,456.0 1458.1,456.1 1461.7,456.2 1465.3,456.2 1469.0,456.3 1472.6,456.4 1476.2,456.4 1479.8,456.5 1483.5,456.5 1487.1,456.6 1490.7,456.7 1494.3,456.7 1498.0,456.8 1501.6,456.8 1505.2,456.9 1508.8,457.0 1512.5,457.1 1516.1,457.2 1519.7,457.2 1523.3,457.3 1527.0,457.5 1530.6,457.6 1534.2,457.7 1537.8,457.9 1541.5,458.0 1545.1,458.2 1548.7,458.3 1552.3,458.5 1556.0,458.7 1559.6,458.9 1563.2,459.1 1566.8,459.3 1570.4,459.6 1574.1,459.8 1577.7,460.0 1581.3,460.3 1585.0,460.5 1588.6,460.8 1592.2,461.0 1595.8,461.3 1599.5,461.5 1600.9,461.6 1603.1,461.8 1606.7,462.0 1610.3,462.2 1614.0,462.5 1617.6,462.7 1621.2,462.9 1624.8,463.1 1628.5,463.3 1632.1,463.5 1635.7,463.6 1637.4,463.7Z" fill="#902568" fill-rule="evenodd"/>
<path d="M1635.9,455.4 1639.3,455.6 1643.0,455.7 1646.6,455.7 1650.2,455.8 1653.8,455.8 1657.5,455.8 1661.1,455.7 1664.7,455.7 1668.3,455.6 1670.8,455.4 1675.6,455.2 1679.2,454.9 1682.8,454.6 1686.4,454.3 1690.1,453.9 1693.7,453.4 1697.3,452.9 1701.0,452.3 1704.6,451.6 1706.2,451.3 1708.2,450.9 1711.8,450.1 1715.1,449.3 1719.1,448.2 1722.2,447.2 1726.3,445.8 1728.1,445.2 1730.0,444.4 1733.1,443.1 1737.2,441.2 1740.8,439.3 1744.5,437.1 1747.7,434.9 1750.3,432.8 1751.7,431.6 1752.7,430.8 1754.7,428.7 1755.3,428.0 1756.5,426.7 1758.1,424.6 1759.0,423.3 1759.4,422.5 1760.5,420.5 1761.5,418.4 1762.2,416.4 1762.6,415.1 1763.2,412.3 1763.4,410.2 1763.4,408.1 1763.3,406.1 1763.0,404.0 1762.6,402.0 1762.0,399.9 1761.2,397.9 1760.3,395.8 1759.2,393.7 1757.9,391.7 1756.5,389.6 1755.3,388.0 1753.3,385.5 1751.7,383.8 1749.4,381.4 1748.1,380.2 1747.2,379.3 1744.8,377.3 1742.3,375.2 1740.8,374.1 1739.7,373.2 1737.2,371.4 1733.9,369.1 1730.8,367.0 1730.0,366.5 1727.6,365.0 1726.3,364.2 1724.2,362.9 1722.7,362.0 1720.7,360.8 1719.1,359.9 1717.2,358.8 1715.5,357.8 1713.6,356.7 1711.8,355.8 1709.9,354.7 1708.2,353.7 1706.2,352.6 1704.6,351.7 1702.5,350.6 1701.0,349.7 1698.8,348.5 1697.3,347.7 1695.1,346.4 1693.7,345.6 1691.6,344.4 1690.1,343.5 1688.1,342.3 1686.4,341.3 1684.7,340.3 1682.8,339.1 1681.4,338.2 1679.2,336.7 1678.3,336.2 1675.6,334.2 1672.6,332.0 1670.0,330.0 1668.3,328.6 1667.5,327.9 1665.3,325.9 1663.2,323.8 1661.2,321.8 1659.4,319.7 1657.8,317.7 1656.3,315.6 1655.0,313.5 1653.8,311.5 1652.8,309.4 1651.8,307.4 1651.0,305.3 1650.3,303.3 1649.7,301.2 1649.2,299.1 1648.8,297.1 1648.5,295.0 1648.2,293.0 1648.1,290.9 1647.9,288.9 1647.9,286.8 1647.9,284.7 1647.9,282.7 1648.0,280.6 1648.1,278.6 1648.2,276.5 1648.4,274.5 1648.6,272.4 1648.8,270.4 1649.0,268.3 1649.2,266.2 1649.4,264.2 1649.6,262.1 1649.8,260.1 1650.0,258.0 1650.1,256.0 1650.3,253.9 1650.4,251.8 1650.5,249.8 1650.6,247.7 1650.6,245.7 1650.6,243.6 1650.5,241.6 1650.5,239.5 1650.3,237.4 1650.2,236.1 1649.9,233.3 1649.6,231.3 1649.2,229.2 1648.8,227.2 1648.3,225.1 1647.8,223.1 1647.2,221.0 1646.6,219.2 1645.7,216.9 1644.8,214.8 1643.9,212.8 1643.0,210.9 1641.7,208.7 1640.5,206.6 1639.3,204.8 1637.7,202.5 1636.1,200.4 1634.4,198.4 1632.6,196.3 1630.6,194.3 1628.5,192.2 1626.2,190.1 1624.8,189.0 1623.7,188.1 1621.2,186.2 1618.1,184.0 1615.0,181.9 1614.0,181.3 1611.5,179.9 1610.3,179.2 1607.8,177.8 1606.7,177.2 1603.7,175.8 1599.5,173.8 1595.8,172.3 1594.0,171.6 1592.2,171.0 1588.6,169.7 1585.0,168.5 1581.5,167.5 1577.7,166.5 1574.1,165.6 1570.5,164.8 1566.8,164.1 1563.2,163.5 1559.6,163.0 1556.0,162.5 1552.3,162.1 1548.7,161.7 1545.1,161.5 1542.7,161.4 1541.5,161.3 1537.8,161.2 1534.2,161.1 1530.6,161.1 1527.0,161.2 1523.3,161.3 1519.7,161.5 1516.1,161.8 1512.5,162.2 1508.8,162.6 1505.2,163.0 1502.8,163.4 1501.6,163.6 1498.0,164.2 1494.3,164.9 1491.7,165.5 1487.1,166.5 1483.5,167.4 1479.8,168.4 1476.2,169.5 1472.6,170.7 1469.9,171.6 1469.0,172.0 1465.3,173.3 1464.4,173.7 1461.7,174.8 1459.5,175.8 1458.1,176.4 1454.9,177.8 1450.8,179.8 1447.2,181.7 1443.6,183.8 1440.0,186.0 1436.7,188.1 1433.7,190.1 1432.7,190.8 1430.8,192.2 1429.1,193.5 1428.1,194.3 1425.6,196.3 1423.1,198.4 1421.8,199.5 1420.8,200.4 1418.6,202.5 1416.5,204.5 1414.6,206.5 1412.5,208.7 1411.0,210.3 1408.8,212.8 1407.3,214.5 1405.4,216.9 1403.8,218.9 1402.2,221.0 1400.7,223.1 1400.1,223.9 1399.2,225.1 1397.8,227.2 1396.5,229.1 1395.0,231.3 1393.7,233.3 1392.8,234.6 1392.3,235.4 1391.0,237.4 1389.7,239.5 1389.2,240.4 1388.5,241.6 1387.2,243.6 1385.9,245.7 1384.6,247.7 1383.4,249.8 1382.1,251.8 1380.8,253.9 1379.5,256.0 1378.3,257.7 1376.8,260.1 1375.4,262.1 1374.7,263.2 1374.0,264.2 1372.6,266.2 1371.1,268.3 1369.6,270.4 1368.0,272.4 1367.5,273.2 1366.4,274.5 1364.8,276.5 1363.8,277.7 1363.1,278.6 1361.4,280.6 1360.2,282.0 1359.6,282.7 1357.8,284.7 1356.6,286.1 1355.9,286.8 1354.0,288.9 1353.0,289.9 1352.0,290.9 1350.0,293.0 1349.3,293.6 1347.9,295.0 1345.8,297.1 1343.7,299.1 1342.1,300.7 1339.3,303.3 1338.5,304.1 1337.1,305.3 1334.9,307.4 1332.7,309.4 1331.2,310.8 1330.4,311.5 1328.2,313.5 1327.6,314.1 1326.0,315.6 1324.0,317.5 1321.7,319.7 1320.3,321.0 1319.5,321.8 1317.4,323.8 1316.7,324.6 1315.4,325.9 1313.4,327.9 1311.5,330.0 1309.6,332.0 1307.8,334.1 1306.0,336.2 1304.3,338.2 1302.7,340.3 1302.2,341.0 1301.2,342.3 1299.8,344.4 1298.6,346.2 1297.1,348.5 1296.0,350.6 1295.0,352.4 1293.9,354.7 1292.9,356.7 1292.1,358.8 1291.4,360.8 1290.7,362.9 1290.2,365.0 1289.8,367.0 1289.4,369.1 1289.2,371.1 1289.1,373.2 1289.0,375.2 1289.1,377.3 1289.3,379.3 1289.6,381.4 1290.0,383.5 1290.5,385.5 1291.1,387.6 1291.8,389.6 1292.7,391.7 1293.7,393.7 1294.8,395.8 1296.1,397.9 1297.5,399.9 1298.6,401.4 1300.7,404.0 1302.2,405.7 1304.5,408.1 1305.8,409.4 1306.7,410.2 1309.1,412.3 1311.7,414.3 1313.1,415.4 1314.4,416.4 1316.7,417.9 1317.5,418.4 1320.3,420.2 1324.0,422.4 1327.6,424.3 1331.2,426.1 1332.3,426.7 1334.8,427.8 1336.9,428.7 1338.5,429.4 1341.9,430.8 1345.7,432.2 1347.5,432.8 1349.3,433.5 1353.0,434.6 1356.6,435.8 1360.2,436.8 1363.8,437.8 1367.5,438.7 1368.8,439.0 1371.1,439.5 1374.7,440.3 1378.2,441.0 1382.0,441.8 1385.6,442.4 1389.2,443.0 1392.8,443.6 1396.5,444.1 1400.1,444.6 1403.7,445.0 1405.1,445.2 1407.3,445.4 1411.0,445.8 1414.6,446.1 1418.2,446.4 1421.8,446.7 1425.5,447.0 1429.1,447.2 1432.7,447.4 1436.3,447.6 1440.0,447.8 1443.6,447.9 1447.2,448.1 1450.8,448.2 1454.5,448.3 1458.1,448.4 1461.7,448.5 1465.3,448.5 1469.0,448.6 1472.6,448.7 1476.2,448.7 1479.8,448.7 1483.5,448.8 1487.1,448.8 1490.7,448.9 1494.3,448.9 1498.0,448.9 1501.6,449.0 1505.2,449.0 1508.8,449.1 1512.5,449.2 1516.1,449.2 1518.3,449.3 1519.7,449.3 1523.3,449.4 1527.0,449.5 1530.6,449.6 1534.2,449.7 1537.8,449.8 1541.5,450.0 1545.1,450.1 1548.7,450.3 1552.3,450.4 1556.0,450.6 1559.6,450.8 1563.2,451.0 1566.8,451.2 1568.9,451.3 1570.5,451.4 1574.1,451.6 1577.7,451.9 1581.3,452.1 1585.0,452.4 1588.6,452.6 1592.2,452.9 1595.8,453.1 1599.5,453.4 1603.1,453.6 1606.7,453.8 1610.3,454.1 1614.0,454.3 1617.6,454.5 1621.2,454.7 1624.8,454.9 1628.5,455.1 1632.1,455.3 1635.7,455.4Z" fill="#ad305d" fill-rule="evenodd"/>
<path d="M1609.8,445.2 1614.0,445.4 1617.6,445.6 1621.2,445.8 1624.8,446.0 1628.5,446.2 1632.1,446.3 1635.7,446.5 1639.3,446.6 1643.0,446.6 1646.6,446.7 1650.2,446.7 1653.8,446.7 1657.5,446.6 1661.1,446.5 1664.7,446.4 1668.3,446.2 1672.0,446.0 1675.6,445.7 1679.2,445.3 1680.9,445.2 1682.8,444.9 1686.4,444.5 1690.1,443.9 1693.7,443.3 1697.3,442.6 1701.0,441.8 1703.9,441.0 1708.2,439.8 1710.9,439.0 1711.8,438.7 1715.5,437.4 1716.6,436.9 1719.1,435.9 1721.3,434.9 1722.7,434.2 1725.3,432.8 1726.3,432.3 1728.8,430.8 1730.0,430.0 1731.8,428.7 1733.6,427.3 1734.3,426.7 1736.5,424.6 1737.2,423.9 1738.4,422.5 1739.9,420.5 1740.8,419.1 1742.3,416.4 1743.1,414.3 1743.7,412.3 1744.0,410.2 1744.2,408.1 1744.2,406.1 1743.9,404.0 1743.5,402.0 1742.8,399.9 1742.0,397.9 1741.0,395.8 1739.8,393.7 1738.4,391.7 1737.2,390.1 1735.1,387.6 1733.6,385.9 1731.1,383.5 1730.0,382.5 1728.8,381.4 1726.3,379.4 1723.6,377.3 1722.7,376.6 1720.8,375.2 1719.1,374.1 1717.8,373.2 1715.5,371.7 1714.6,371.1 1711.8,369.4 1708.2,367.2 1704.6,365.1 1701.0,363.1 1697.3,361.1 1693.7,359.1 1690.1,357.2 1689.2,356.7 1686.4,355.2 1685.4,354.7 1682.8,353.3 1681.6,352.6 1679.2,351.3 1677.9,350.6 1675.6,349.2 1674.3,348.5 1672.0,347.1 1670.8,346.4 1668.3,345.0 1667.4,344.4 1664.7,342.7 1661.1,340.3 1658.2,338.2 1657.5,337.6 1655.5,336.2 1653.8,334.8 1653.0,334.1 1650.6,332.0 1648.4,330.0 1646.6,328.1 1644.6,325.9 1643.0,323.9 1641.4,321.8 1640.0,319.7 1639.3,318.5 1638.8,317.7 1637.8,315.6 1636.9,313.5 1636.1,311.5 1635.7,310.4 1635.4,309.4 1634.8,307.4 1634.3,305.3 1634.0,303.3 1633.7,301.2 1633.5,299.1 1633.4,297.1 1633.4,295.0 1633.4,293.0 1633.5,290.9 1633.7,288.9 1633.8,286.8 1634.1,284.7 1634.4,282.7 1634.7,280.6 1635.0,278.6 1635.3,276.5 1635.7,274.5 1636.0,272.4 1636.4,270.4 1636.8,268.3 1637.1,266.2 1637.5,264.2 1637.8,262.1 1638.2,260.1 1638.5,258.0 1638.8,256.0 1639.0,253.9 1639.2,251.8 1639.4,249.8 1639.6,247.7 1639.7,245.7 1639.7,243.6 1639.7,241.6 1639.7,239.5 1639.6,237.4 1639.5,235.4 1639.3,234.1 1639.0,231.3 1638.6,229.2 1638.2,227.2 1637.7,225.1 1637.1,223.1 1636.5,221.0 1635.8,218.9 1634.9,216.9 1634.0,214.8 1633.0,212.8 1632.1,211.1 1630.6,208.7 1629.3,206.6 1628.5,205.4 1627.8,204.5 1626.2,202.5 1624.8,200.9 1622.5,198.4 1621.2,197.0 1620.5,196.3 1618.2,194.3 1617.6,193.7 1615.8,192.2 1614.0,190.7 1613.2,190.1 1610.3,188.1 1607.1,186.0 1603.7,184.0 1599.8,181.9 1595.8,180.0 1592.2,178.4 1590.8,177.8 1588.6,176.9 1585.4,175.8 1581.3,174.4 1579.1,173.7 1577.7,173.3 1574.1,172.3 1571.4,171.6 1570.5,171.4 1566.8,170.6 1563.2,169.9 1561.4,169.6 1559.6,169.3 1556.0,168.7 1552.3,168.3 1548.7,167.9 1545.1,167.6 1543.6,167.5 1541.5,167.4 1537.8,167.2 1534.2,167.2 1530.6,167.2 1527.0,167.3 1523.3,167.4 1521.3,167.5 1519.7,167.6 1516.1,167.9 1512.5,168.3 1508.8,168.7 1505.2,169.3 1503.2,169.6 1501.6,169.8 1498.0,170.5 1494.3,171.3 1492.8,171.6 1490.7,172.1 1487.1,173.0 1484.7,173.7 1483.5,174.1 1479.8,175.2 1478.0,175.8 1476.2,176.4 1472.6,177.7 1469.0,179.1 1467.0,179.9 1465.3,180.6 1462.3,181.9 1458.1,184.0 1454.5,185.9 1450.8,187.9 1447.2,190.1 1443.9,192.2 1440.9,194.3 1440.0,195.0 1438.1,196.3 1436.3,197.7 1435.5,198.4 1433.0,200.4 1430.6,202.5 1429.1,203.9 1428.4,204.5 1426.2,206.6 1425.5,207.4 1424.2,208.7 1422.2,210.7 1420.4,212.8 1418.6,214.8 1416.9,216.9 1415.2,218.9 1414.6,219.8 1413.7,221.0 1412.1,223.1 1411.0,224.7 1409.2,227.2 1407.9,229.2 1407.3,230.0 1406.5,231.3 1405.2,233.3 1404.0,235.4 1402.7,237.4 1401.5,239.5 1400.3,241.6 1399.1,243.6 1397.9,245.7 1396.8,247.7 1395.6,249.8 1394.4,251.8 1393.3,253.9 1392.8,254.7 1392.1,256.0 1390.9,258.0 1389.7,260.1 1389.2,260.9 1388.5,262.1 1387.2,264.2 1386.0,266.2 1384.6,268.3 1383.3,270.4 1382.0,272.4 1380.5,274.5 1379.1,276.5 1378.3,277.5 1377.5,278.6 1376.0,280.6 1374.7,282.3 1372.7,284.7 1371.1,286.7 1369.2,288.9 1367.5,290.9 1365.5,293.0 1363.8,294.8 1361.6,297.1 1360.2,298.6 1357.6,301.2 1356.6,302.2 1355.5,303.3 1353.3,305.3 1351.2,307.4 1349.3,309.1 1346.8,311.5 1345.7,312.5 1344.6,313.5 1342.4,315.6 1340.2,317.7 1338.5,319.3 1335.9,321.8 1334.8,322.8 1333.8,323.8 1331.7,325.9 1329.7,327.9 1327.7,330.0 1325.7,332.0 1324.0,334.0 1322.0,336.2 1320.3,338.2 1318.6,340.3 1317.0,342.3 1315.5,344.4 1314.1,346.4 1313.1,348.1 1311.6,350.6 1310.4,352.6 1309.5,354.5 1308.4,356.7 1307.6,358.8 1306.8,360.8 1306.2,362.9 1305.8,364.1 1305.2,367.0 1304.9,369.1 1304.6,371.1 1304.5,373.2 1304.5,375.2 1304.7,377.3 1304.9,379.3 1305.3,381.4 1305.8,383.5 1306.4,385.5 1307.1,387.6 1308.0,389.6 1309.0,391.7 1310.2,393.7 1311.5,395.8 1313.0,397.9 1314.7,399.9 1316.5,402.0 1318.5,404.0 1320.3,405.8 1323.1,408.1 1324.0,408.8 1325.7,410.2 1327.6,411.5 1328.6,412.3 1331.2,414.0 1334.8,416.2 1338.5,418.2 1342.1,420.0 1343.1,420.5 1345.7,421.7 1347.7,422.5 1349.3,423.2 1352.8,424.6 1356.6,426.0 1358.5,426.7 1360.2,427.2 1363.8,428.4 1364.9,428.7 1367.5,429.4 1371.1,430.4 1372.3,430.8 1374.7,431.4 1378.3,432.2 1381.0,432.8 1385.6,433.8 1389.2,434.4 1391.7,434.9 1392.8,435.1 1396.5,435.7 1400.1,436.2 1403.7,436.7 1405.6,436.9 1407.3,437.1 1411.0,437.6 1414.6,437.9 1418.2,438.3 1421.8,438.6 1425.5,438.9 1427.1,439.0 1429.1,439.1 1432.7,439.4 1436.3,439.6 1440.0,439.7 1443.6,439.9 1447.2,440.0 1450.8,440.1 1454.5,440.2 1458.1,440.3 1461.7,440.4 1465.3,440.4 1469.0,440.5 1472.6,440.5 1476.2,440.6 1479.8,440.6 1483.5,440.6 1487.1,440.6 1490.7,440.6 1494.3,440.7 1498.0,440.7 1501.6,440.7 1505.2,440.7 1508.8,440.7 1512.5,440.8 1516.1,440.8 1519.7,440.8 1523.3,440.9 1527.0,441.0 1530.6,441.0 1534.2,441.1 1537.8,441.2 1541.5,441.3 1545.1,441.4 1548.7,441.6 1552.3,441.7 1556.0,441.9 1559.6,442.0 1563.2,442.2 1566.8,442.4 1570.5,442.6 1574.1,442.8 1577.7,443.1 1581.3,443.3 1585.0,443.5 1588.6,443.8 1592.2,444.0 1595.8,444.2 1599.5,444.5 1603.1,444.7 1606.7,445.0 1609.8,445.2Z" fill="#c83f4b" fill-rule="evenodd"/>
<path d="M1608.4,434.9 1610.3,435.0 1614.0,435.2 1617.6,435.4 1621.2,435.5 1624.8,435.7 1628.5,435.8 1632.1,435.9 1635.7,436.0 1639.3,436.1 1643.0,436.1 1646.6,436.1 1650.2,436.0 1653.8,435.9 1657.5,435.8 1661.1,435.6 1664.7,435.3 1668.3,435.0 1669.6,434.9 1672.0,434.6 1675.6,434.1 1679.2,433.6 1682.8,432.9 1686.4,432.1 1690.1,431.3 1691.9,430.8 1693.7,430.2 1697.3,429.0 1701.0,427.6 1703.1,426.7 1704.6,425.9 1707.1,424.6 1708.2,423.9 1710.4,422.5 1711.8,421.5 1713.0,420.5 1715.2,418.4 1717.0,416.4 1718.4,414.3 1719.1,413.0 1720.1,410.2 1720.6,408.1 1720.7,406.1 1720.6,404.0 1720.2,402.0 1719.6,399.9 1719.1,398.6 1717.7,395.8 1716.3,393.7 1715.5,392.5 1714.8,391.7 1713.0,389.6 1711.8,388.4 1711.0,387.6 1708.7,385.5 1706.3,383.5 1704.6,382.1 1703.6,381.4 1701.0,379.5 1697.7,377.3 1694.4,375.2 1691.0,373.2 1690.1,372.7 1687.4,371.1 1686.4,370.6 1683.7,369.1 1682.8,368.6 1679.9,367.0 1676.0,365.0 1672.2,362.9 1668.3,360.9 1664.7,358.9 1661.1,357.0 1657.5,355.0 1653.8,352.9 1650.2,350.7 1646.7,348.5 1643.6,346.4 1640.7,344.4 1639.3,343.3 1638.0,342.3 1635.7,340.4 1633.2,338.2 1632.1,337.2 1631.0,336.2 1629.0,334.1 1627.2,332.0 1625.6,330.0 1624.8,329.0 1624.1,327.9 1622.8,325.9 1621.6,323.8 1620.6,321.8 1619.7,319.7 1618.9,317.7 1618.3,315.6 1617.8,313.5 1617.6,312.2 1617.1,309.4 1617.0,307.4 1616.9,305.3 1616.9,303.3 1617.0,301.2 1617.1,299.1 1617.3,297.1 1617.6,295.4 1618.0,293.0 1618.3,290.9 1618.8,288.9 1619.2,286.8 1619.7,284.7 1620.2,282.7 1620.8,280.6 1621.2,279.1 1621.9,276.5 1622.5,274.5 1623.0,272.4 1623.6,270.4 1624.1,268.3 1624.7,266.2 1625.2,264.2 1625.7,262.1 1626.2,260.1 1626.6,258.0 1627.0,256.0 1627.4,253.9 1627.7,251.8 1628.0,249.8 1628.2,247.7 1628.4,245.7 1628.5,243.6 1628.6,241.6 1628.6,239.5 1628.6,237.4 1628.5,235.5 1628.3,233.3 1628.0,231.3 1627.6,229.2 1627.2,227.2 1626.7,225.1 1626.1,223.1 1625.4,221.0 1624.8,219.5 1623.7,216.9 1622.7,214.8 1621.6,212.8 1620.3,210.7 1619.0,208.7 1617.6,206.7 1615.8,204.5 1614.0,202.5 1612.0,200.4 1610.3,198.9 1607.4,196.3 1606.7,195.8 1604.7,194.3 1603.1,193.1 1601.8,192.2 1599.5,190.6 1598.6,190.1 1595.8,188.5 1592.2,186.6 1591.1,186.0 1588.6,184.8 1586.7,184.0 1585.0,183.2 1581.6,181.9 1577.7,180.5 1575.6,179.9 1574.1,179.4 1570.5,178.4 1568.2,177.8 1566.8,177.5 1563.2,176.6 1559.6,175.9 1558.5,175.8 1556.0,175.3 1552.3,174.8 1548.7,174.4 1545.1,174.0 1541.5,173.8 1539.7,173.7 1537.8,173.6 1534.2,173.5 1530.6,173.5 1527.0,173.6 1524.4,173.7 1519.7,174.0 1516.1,174.3 1512.5,174.7 1508.8,175.2 1505.2,175.7 1501.6,176.4 1498.0,177.1 1495.1,177.8 1490.7,178.9 1487.3,179.9 1483.5,181.1 1480.9,181.9 1479.8,182.3 1476.2,183.6 1472.6,185.1 1470.5,186.0 1469.0,186.7 1466.0,188.1 1462.0,190.1 1458.3,192.2 1454.9,194.3 1451.7,196.3 1450.8,196.9 1448.7,198.4 1447.2,199.5 1445.9,200.4 1443.6,202.3 1440.9,204.5 1440.0,205.4 1438.6,206.6 1436.4,208.7 1434.3,210.7 1432.7,212.4 1430.5,214.8 1429.1,216.5 1427.0,218.9 1425.5,220.9 1423.9,223.1 1422.4,225.1 1421.8,225.9 1421.0,227.2 1419.6,229.2 1418.3,231.3 1417.1,233.3 1415.8,235.4 1414.6,237.4 1413.5,239.5 1412.4,241.6 1411.3,243.6 1410.2,245.7 1409.1,247.7 1408.1,249.8 1407.3,251.3 1406.0,253.9 1405.0,256.0 1403.9,258.0 1402.9,260.1 1401.8,262.1 1400.8,264.2 1400.1,265.5 1398.5,268.3 1397.4,270.4 1396.5,272.0 1395.0,274.5 1393.7,276.5 1392.8,277.9 1391.1,280.6 1389.7,282.7 1388.2,284.7 1386.7,286.8 1385.6,288.3 1383.5,290.9 1382.0,292.8 1380.1,295.0 1378.3,297.0 1376.4,299.1 1374.7,301.0 1372.5,303.3 1371.1,304.7 1368.4,307.4 1367.5,308.3 1366.3,309.4 1364.2,311.5 1362.1,313.5 1360.2,315.3 1357.7,317.7 1356.6,318.8 1355.6,319.7 1353.4,321.8 1351.3,323.8 1349.3,325.7 1347.1,327.9 1345.7,329.3 1345.0,330.0 1343.0,332.0 1342.1,333.1 1341.1,334.1 1339.2,336.2 1338.5,337.0 1337.4,338.2 1335.7,340.3 1334.8,341.3 1334.0,342.3 1332.4,344.4 1331.2,346.1 1329.6,348.5 1328.3,350.6 1327.6,351.8 1327.1,352.6 1326.0,354.7 1325.0,356.7 1324.1,358.8 1323.4,360.8 1322.7,362.9 1322.2,365.0 1321.7,367.0 1321.4,369.1 1321.3,371.1 1321.2,373.2 1321.3,375.2 1321.5,377.3 1321.8,379.3 1322.3,381.4 1322.9,383.5 1323.7,385.5 1324.6,387.6 1325.7,389.6 1327.0,391.7 1327.6,392.6 1328.4,393.7 1330.0,395.8 1331.2,397.1 1331.8,397.9 1333.9,399.9 1334.8,400.8 1336.1,402.0 1338.5,403.9 1341.4,406.1 1344.5,408.1 1345.7,408.9 1347.9,410.2 1349.3,411.0 1351.6,412.3 1353.0,412.9 1355.8,414.3 1360.2,416.2 1363.8,417.7 1365.8,418.4 1367.5,419.0 1371.1,420.2 1374.7,421.4 1378.3,422.4 1382.0,423.3 1385.6,424.2 1387.2,424.6 1389.2,425.0 1392.8,425.8 1396.5,426.5 1397.5,426.7 1400.1,427.1 1403.7,427.7 1407.3,428.2 1411.0,428.7 1414.6,429.1 1418.2,429.5 1421.8,429.8 1425.5,430.1 1429.1,430.4 1432.7,430.7 1434.2,430.8 1436.3,430.9 1440.0,431.1 1443.6,431.2 1447.2,431.4 1450.8,431.5 1454.5,431.6 1458.1,431.6 1461.7,431.7 1465.3,431.7 1469.0,431.8 1472.6,431.8 1476.2,431.8 1479.8,431.8 1483.5,431.8 1487.1,431.7 1490.7,431.7 1494.3,431.7 1498.0,431.7 1501.6,431.6 1505.2,431.6 1508.8,431.6 1512.5,431.6 1516.1,431.6 1519.7,431.6 1523.3,431.6 1527.0,431.6 1530.6,431.6 1534.2,431.6 1537.8,431.7 1541.5,431.7 1545.1,431.8 1548.7,431.9 1552.3,432.0 1556.0,432.1 1559.6,432.2 1563.2,432.4 1566.8,432.5 1570.5,432.7 1572.6,432.8 1574.1,432.9 1577.7,433.1 1581.3,433.3 1585.0,433.5 1588.6,433.7 1592.2,433.9 1595.8,434.1 1599.5,434.3 1603.1,434.6 1606.7,434.8 1608.4,434.9Z" fill="#df5337" fill-rule="evenodd"/>
<path d="M1426.4,420.5 1429.1,420.7 1432.7,421.0 1436.3,421.2 1440.0,421.4 1443.6,421.6 1447.2,421.7 1450.8,421.8 1454.5,421.9 1458.1,422.0 1461.7,422.0 1465.3,422.0 1469.0,422.0 1472.6,422.0 1476.2,421.9 1479.8,421.9 1483.5,421.8 1487.1,421.7 1490.7,421.6 1494.3,421.6 1498.0,421.5 1501.6,421.4 1505.2,421.3 1508.8,421.2 1512.5,421.1 1516.1,421.0 1519.7,420.9 1523.3,420.8 1527.0,420.7 1530.6,420.6 1534.2,420.6 1537.8,420.5 1541.5,420.5 1545.1,420.5 1548.7,420.5 1552.3,420.5 1556.0,420.5 1559.6,420.5 1563.2,420.5 1566.8,420.6 1570.5,420.7 1574.1,420.8 1577.7,420.9 1581.3,421.0 1585.0,421.1 1588.6,421.2 1592.2,421.3 1595.8,421.5 1599.5,421.6 1603.1,421.8 1606.7,421.9 1610.3,422.0 1614.0,422.1 1617.6,422.2 1621.2,422.3 1624.8,422.3 1628.5,422.4 1632.1,422.3 1635.7,422.3 1639.3,422.2 1643.0,422.0 1646.6,421.8 1650.2,421.5 1653.8,421.1 1657.5,420.6 1661.1,420.0 1664.7,419.3 1668.2,418.4 1672.0,417.2 1674.3,416.4 1675.6,415.8 1678.7,414.3 1681.8,412.3 1682.8,411.4 1684.1,410.2 1685.6,408.1 1686.4,406.6 1687.2,404.0 1687.2,402.0 1686.9,399.9 1686.4,398.6 1685.1,395.8 1683.7,393.7 1682.8,392.7 1682.0,391.7 1679.9,389.6 1679.2,389.0 1677.6,387.6 1675.6,386.0 1672.1,383.5 1669.0,381.4 1665.7,379.3 1664.7,378.7 1662.3,377.3 1661.1,376.6 1658.7,375.2 1657.5,374.6 1655.0,373.2 1653.8,372.6 1651.2,371.1 1650.2,370.6 1647.4,369.1 1646.6,368.6 1643.7,367.0 1640.0,365.0 1636.5,362.9 1635.7,362.5 1633.0,360.8 1632.1,360.3 1629.7,358.8 1628.5,358.0 1626.5,356.7 1624.8,355.6 1623.5,354.7 1621.2,353.0 1618.1,350.6 1615.6,348.5 1614.0,347.0 1613.3,346.4 1611.2,344.4 1610.3,343.5 1609.2,342.3 1607.4,340.3 1606.7,339.3 1605.8,338.2 1604.3,336.2 1603.1,334.2 1601.9,332.0 1600.8,330.0 1599.9,327.9 1599.5,326.6 1598.6,323.8 1598.1,321.8 1597.7,319.7 1597.4,317.7 1597.3,315.6 1597.3,313.5 1597.3,311.5 1597.5,309.4 1597.7,307.4 1598.0,305.3 1598.4,303.3 1598.9,301.2 1599.4,299.1 1600.0,297.1 1600.7,295.0 1601.3,293.0 1602.1,290.9 1602.8,288.9 1603.6,286.8 1604.4,284.7 1605.2,282.7 1606.0,280.6 1606.7,278.9 1607.6,276.5 1608.4,274.5 1609.2,272.4 1610.0,270.4 1610.8,268.3 1611.5,266.2 1612.2,264.2 1612.9,262.1 1613.5,260.1 1614.0,258.6 1614.6,256.0 1615.1,253.9 1615.6,251.8 1616.0,249.8 1616.3,247.7 1616.6,245.7 1616.8,243.6 1616.9,241.6 1617.0,239.5 1617.0,237.4 1616.9,235.4 1616.7,233.3 1616.4,231.3 1616.1,229.2 1615.6,227.2 1615.1,225.1 1614.4,223.1 1614.0,221.8 1612.8,218.9 1611.8,216.9 1610.6,214.8 1609.4,212.8 1607.9,210.7 1606.7,209.1 1604.6,206.6 1603.1,205.0 1600.5,202.5 1599.5,201.6 1598.1,200.4 1595.8,198.6 1592.5,196.3 1589.2,194.3 1585.5,192.2 1581.3,190.2 1577.7,188.6 1576.3,188.1 1574.1,187.2 1570.5,186.0 1566.8,184.9 1563.2,184.0 1559.6,183.1 1556.0,182.4 1553.0,181.9 1548.7,181.3 1545.1,180.9 1541.5,180.6 1537.8,180.4 1534.2,180.3 1530.6,180.3 1527.0,180.3 1523.3,180.5 1519.7,180.7 1516.1,181.1 1512.5,181.5 1509.8,181.9 1505.2,182.7 1501.6,183.4 1499.2,184.0 1498.0,184.3 1494.3,185.2 1491.4,186.0 1487.1,187.4 1485.1,188.1 1483.5,188.7 1479.8,190.1 1476.2,191.7 1475.0,192.2 1472.6,193.4 1470.8,194.3 1469.0,195.2 1467.0,196.3 1465.3,197.3 1463.5,198.4 1461.7,199.5 1460.2,200.4 1458.1,201.9 1457.3,202.5 1454.5,204.5 1451.9,206.6 1450.8,207.5 1449.5,208.7 1447.2,210.7 1445.1,212.8 1443.6,214.3 1441.2,216.9 1440.0,218.4 1437.8,221.0 1436.3,222.9 1434.7,225.1 1433.3,227.2 1432.7,228.0 1431.9,229.2 1430.6,231.3 1429.4,233.3 1428.2,235.4 1427.1,237.4 1426.0,239.5 1425.5,240.6 1424.9,241.6 1423.9,243.6 1423.0,245.7 1422.0,247.7 1421.1,249.8 1420.2,251.8 1419.3,253.9 1418.4,256.0 1417.5,258.0 1416.7,260.1 1415.8,262.1 1414.9,264.2 1414.0,266.2 1413.1,268.3 1412.2,270.4 1411.2,272.4 1410.2,274.5 1409.2,276.5 1408.1,278.6 1407.3,280.1 1405.9,282.7 1404.7,284.7 1403.7,286.3 1402.1,288.9 1400.7,290.9 1400.1,291.8 1399.2,293.0 1397.7,295.0 1396.5,296.7 1394.5,299.1 1392.8,301.1 1391.0,303.3 1389.2,305.2 1387.2,307.4 1385.6,309.1 1383.3,311.5 1382.0,312.8 1381.2,313.5 1379.1,315.6 1378.3,316.4 1377.0,317.7 1374.9,319.7 1372.7,321.8 1371.1,323.3 1368.5,325.9 1367.5,326.8 1366.3,327.9 1364.2,330.0 1362.2,332.0 1360.2,334.1 1358.3,336.2 1356.6,338.0 1354.6,340.3 1353.0,342.2 1351.2,344.4 1349.6,346.4 1348.2,348.5 1346.8,350.6 1345.7,352.4 1344.4,354.7 1343.4,356.7 1342.5,358.8 1342.1,359.9 1341.7,360.8 1341.1,362.9 1340.5,365.0 1340.1,367.0 1339.9,369.1 1339.8,371.1 1339.8,373.2 1340.0,375.2 1340.3,377.3 1340.8,379.3 1341.5,381.4 1342.1,382.9 1343.4,385.5 1344.6,387.6 1345.7,389.2 1347.7,391.7 1349.3,393.5 1351.7,395.8 1353.0,396.9 1354.1,397.9 1356.6,399.8 1359.9,402.0 1363.3,404.0 1367.2,406.1 1371.1,407.9 1374.7,409.4 1376.8,410.2 1378.3,410.8 1382.0,412.0 1385.6,413.1 1389.2,414.2 1392.8,415.1 1396.5,416.0 1398.3,416.4 1400.1,416.7 1403.7,417.4 1407.3,418.1 1409.5,418.4 1411.0,418.6 1414.6,419.2 1418.2,419.6 1421.8,420.0 1425.5,420.4Z" fill="#ef6e21" fill-rule="evenodd"/>
<path d="M1442.9,410.2 1447.2,410.4 1450.8,410.5 1454.5,410.5 1458.1,410.6 1461.7,410.5 1465.3,410.5 1469.0,410.4 1472.6,410.3 1476.2,410.2 1479.8,410.1 1483.5,409.9 1487.1,409.7 1490.7,409.5 1494.3,409.3 1498.0,409.0 1501.6,408.8 1505.2,408.5 1508.8,408.3 1510.4,408.1 1512.5,408.0 1516.1,407.7 1519.7,407.4 1523.3,407.1 1527.0,406.8 1530.6,406.5 1534.2,406.2 1537.8,405.8 1541.5,405.5 1545.1,405.2 1548.7,404.9 1552.3,404.6 1556.0,404.3 1558.7,404.0 1563.2,403.6 1566.8,403.3 1570.5,402.9 1574.1,402.6 1577.7,402.2 1580.2,402.0 1581.3,401.8 1585.0,401.4 1588.6,400.9 1592.2,400.4 1595.6,399.9 1599.5,399.1 1603.1,398.3 1604.7,397.9 1606.7,397.2 1610.0,395.8 1612.9,393.7 1614.0,392.2 1614.6,389.6 1614.3,387.6 1613.4,385.5 1612.1,383.5 1610.5,381.4 1608.6,379.3 1606.7,377.3 1604.6,375.2 1603.1,373.8 1600.3,371.1 1599.5,370.3 1598.2,369.1 1596.1,367.0 1594.1,365.0 1592.2,363.1 1590.1,360.8 1588.6,359.1 1586.5,356.7 1585.0,354.8 1583.3,352.6 1581.8,350.6 1580.4,348.5 1579.1,346.4 1578.0,344.4 1576.9,342.3 1576.0,340.3 1575.1,338.2 1574.4,336.2 1574.1,334.9 1573.3,332.0 1573.0,330.0 1572.7,327.9 1572.5,325.9 1572.5,323.8 1572.6,321.8 1572.8,319.7 1573.0,317.7 1573.4,315.6 1573.9,313.5 1574.5,311.5 1575.1,309.4 1575.9,307.4 1576.7,305.3 1577.6,303.3 1578.5,301.2 1579.5,299.1 1580.5,297.1 1581.3,295.6 1582.7,293.0 1583.8,290.9 1585.0,288.9 1586.1,286.8 1587.3,284.7 1588.5,282.7 1589.6,280.6 1590.8,278.6 1591.9,276.5 1593.0,274.5 1594.1,272.4 1595.2,270.4 1595.8,269.0 1597.1,266.2 1598.1,264.2 1599.0,262.1 1599.5,260.9 1600.6,258.0 1601.3,256.0 1601.9,253.9 1602.5,251.8 1603.0,249.8 1603.5,247.7 1603.8,245.7 1604.1,243.6 1604.3,241.6 1604.4,239.5 1604.4,237.4 1604.4,235.4 1604.2,233.3 1603.9,231.3 1603.6,229.2 1603.1,227.2 1602.4,225.1 1601.7,223.1 1600.8,221.0 1599.8,218.9 1598.6,216.9 1597.3,214.8 1595.8,212.8 1594.1,210.7 1592.2,208.7 1590.0,206.6 1588.6,205.4 1587.5,204.5 1585.0,202.6 1581.7,200.4 1578.1,198.4 1574.1,196.4 1570.5,194.8 1569.0,194.3 1566.8,193.4 1563.2,192.2 1559.6,191.2 1556.0,190.3 1552.3,189.6 1548.7,189.0 1545.1,188.5 1541.5,188.1 1537.8,187.8 1534.2,187.7 1530.6,187.6 1527.0,187.7 1523.3,187.9 1520.4,188.1 1516.1,188.5 1512.5,189.0 1508.8,189.6 1506.2,190.1 1505.2,190.4 1501.6,191.2 1498.0,192.1 1494.3,193.2 1491.3,194.3 1487.1,195.8 1485.9,196.3 1483.5,197.3 1481.2,198.4 1479.8,199.0 1477.1,200.4 1476.2,200.9 1473.4,202.5 1472.6,203.0 1470.0,204.5 1469.0,205.3 1467.0,206.6 1465.3,207.8 1464.2,208.7 1461.7,210.6 1459.2,212.8 1458.1,213.8 1457.0,214.8 1454.9,216.9 1453.0,218.9 1451.2,221.0 1449.5,223.1 1447.9,225.1 1447.2,226.1 1446.5,227.2 1445.1,229.2 1443.8,231.3 1442.6,233.3 1441.4,235.4 1440.3,237.4 1439.3,239.5 1438.4,241.6 1437.4,243.6 1436.6,245.7 1435.7,247.7 1435.0,249.8 1434.2,251.8 1433.5,253.9 1432.8,256.0 1432.1,258.0 1431.4,260.1 1430.8,262.1 1430.1,264.2 1429.5,266.2 1429.1,267.4 1428.1,270.4 1427.5,272.4 1426.8,274.5 1426.0,276.5 1425.5,278.1 1424.5,280.6 1423.7,282.7 1422.8,284.7 1421.8,286.8 1420.9,288.9 1419.8,290.9 1418.7,293.0 1418.2,293.8 1417.5,295.0 1416.3,297.1 1414.9,299.1 1413.5,301.2 1412.0,303.3 1411.0,304.6 1410.4,305.3 1408.8,307.4 1407.3,309.0 1405.2,311.5 1403.7,313.1 1401.4,315.6 1400.1,316.9 1399.4,317.7 1397.3,319.7 1396.5,320.6 1395.2,321.8 1393.1,323.8 1391.0,325.9 1389.2,327.6 1386.8,330.0 1385.6,331.1 1384.7,332.0 1382.6,334.1 1382.0,334.7 1380.6,336.2 1378.6,338.2 1376.7,340.3 1374.9,342.3 1373.1,344.4 1371.5,346.4 1369.9,348.5 1368.5,350.6 1367.5,352.2 1366.0,354.7 1365.0,356.7 1364.0,358.8 1363.2,360.8 1362.6,362.9 1362.1,365.0 1361.8,367.0 1361.7,369.1 1361.7,371.1 1361.9,373.2 1362.3,375.2 1362.9,377.3 1363.7,379.3 1364.7,381.4 1366.0,383.5 1367.5,385.5 1369.3,387.6 1371.1,389.3 1373.9,391.7 1374.7,392.3 1376.8,393.7 1378.3,394.7 1380.1,395.8 1382.0,396.8 1384.0,397.9 1385.6,398.6 1388.5,399.9 1392.8,401.6 1393.9,402.0 1396.5,402.8 1400.1,403.9 1403.7,404.9 1407.3,405.7 1408.9,406.1 1411.0,406.5 1414.6,407.2 1418.2,407.8 1420.5,408.1 1421.8,408.3 1425.5,408.8 1429.1,409.2 1432.7,409.5 1436.3,409.8 1440.0,410.0 1442.9,410.2Z" fill="#f98e09" fill-rule="evenodd"/>
<path d="M1431.3,393.7 1432.7,393.9 1436.3,394.4 1440.0,394.7 1443.6,395.0 1447.2,395.1 1450.8,395.2 1454.5,395.3 1458.1,395.2 1461.7,395.1 1465.3,395.0 1469.0,394.8 1472.6,394.5 1476.2,394.2 1479.8,393.8 1483.5,393.4 1487.1,392.9 1490.7,392.3 1494.3,391.7 1498.0,391.0 1501.6,390.3 1504.5,389.6 1508.8,388.5 1512.4,387.6 1516.1,386.4 1518.6,385.5 1519.7,385.1 1523.3,383.6 1527.0,381.8 1527.8,381.4 1530.6,379.7 1533.6,377.3 1535.6,375.2 1537.2,373.2 1537.8,372.0 1538.3,371.1 1539.1,369.1 1539.6,367.0 1539.9,365.0 1540.1,362.9 1540.1,360.8 1539.9,358.8 1539.8,356.7 1539.5,354.7 1539.2,352.6 1538.9,350.6 1538.6,348.5 1538.3,346.4 1538.1,344.4 1537.8,342.3 1537.7,340.3 1537.6,338.2 1537.5,336.2 1537.6,334.1 1537.8,332.0 1538.0,330.0 1538.4,327.9 1538.8,325.9 1539.4,323.8 1540.1,321.8 1541.0,319.7 1541.5,318.7 1541.9,317.7 1542.9,315.6 1544.1,313.5 1545.1,312.0 1546.7,309.4 1548.2,307.4 1548.7,306.7 1549.7,305.3 1551.3,303.3 1552.3,302.0 1552.9,301.2 1554.6,299.1 1556.0,297.6 1558.1,295.0 1559.6,293.3 1561.6,290.9 1563.2,289.1 1565.1,286.8 1566.8,284.8 1568.6,282.7 1570.3,280.6 1571.9,278.6 1573.5,276.5 1574.1,275.8 1575.1,274.5 1576.6,272.4 1577.7,270.8 1579.4,268.3 1580.7,266.2 1581.3,265.2 1582.0,264.2 1583.1,262.1 1584.2,260.1 1585.0,258.6 1586.2,256.0 1587.0,253.9 1587.8,251.8 1588.5,249.8 1589.1,247.7 1589.5,245.7 1589.9,243.6 1590.2,241.6 1590.4,239.5 1590.4,237.4 1590.4,235.4 1590.2,233.3 1589.9,231.3 1589.4,229.2 1588.8,227.2 1588.1,225.1 1587.2,223.1 1586.1,221.0 1585.0,219.1 1583.3,216.9 1581.6,214.8 1579.6,212.8 1577.7,211.0 1574.7,208.7 1571.6,206.6 1570.5,205.9 1568.0,204.5 1566.8,203.9 1563.7,202.5 1559.6,200.9 1558.2,200.4 1556.0,199.7 1552.3,198.7 1550.9,198.4 1548.7,197.9 1545.1,197.2 1541.5,196.7 1537.8,196.4 1534.2,196.2 1530.6,196.1 1527.0,196.1 1523.3,196.3 1519.7,196.6 1516.1,197.1 1512.5,197.6 1508.8,198.3 1505.2,199.2 1501.6,200.2 1498.0,201.4 1494.9,202.5 1490.7,204.2 1487.1,205.9 1485.7,206.6 1483.5,207.8 1482.0,208.7 1479.8,210.0 1478.8,210.7 1476.2,212.5 1473.1,214.8 1470.7,216.9 1469.0,218.5 1466.4,221.0 1465.3,222.2 1464.6,223.1 1462.9,225.1 1461.7,226.6 1459.8,229.2 1458.5,231.3 1457.2,233.3 1456.1,235.4 1455.0,237.4 1454.5,238.7 1453.2,241.6 1452.4,243.6 1451.6,245.7 1451.0,247.7 1450.3,249.8 1449.8,251.8 1449.3,253.9 1448.8,256.0 1448.3,258.0 1447.9,260.1 1447.6,262.1 1447.2,264.2 1446.9,266.2 1446.6,268.3 1446.3,270.4 1446.1,272.4 1445.8,274.5 1445.5,276.5 1445.2,278.6 1444.9,280.6 1444.6,282.7 1444.2,284.7 1443.8,286.8 1443.6,288.0 1442.9,290.9 1442.4,293.0 1441.8,295.0 1441.1,297.1 1440.3,299.1 1439.4,301.2 1438.5,303.3 1437.4,305.3 1436.3,307.2 1435.0,309.4 1433.5,311.5 1432.7,312.6 1432.0,313.5 1430.4,315.6 1429.1,317.1 1426.8,319.7 1425.5,321.2 1422.9,323.8 1421.8,324.9 1420.8,325.9 1418.7,327.9 1416.6,330.0 1414.6,331.9 1412.2,334.1 1411.0,335.3 1410.1,336.2 1408.0,338.2 1407.3,338.8 1405.9,340.3 1403.9,342.3 1402.1,344.4 1400.2,346.4 1398.6,348.5 1397.0,350.6 1396.5,351.4 1395.6,352.6 1394.4,354.7 1393.3,356.7 1392.8,357.8 1392.4,358.8 1391.7,360.8 1391.2,362.9 1390.8,365.0 1390.7,367.0 1390.9,369.1 1391.3,371.1 1392.0,373.2 1392.8,375.0 1394.3,377.3 1396.0,379.3 1398.2,381.4 1400.1,382.9 1400.8,383.5 1403.7,385.3 1407.3,387.1 1408.3,387.6 1411.0,388.7 1413.5,389.6 1414.6,390.0 1418.2,391.1 1420.6,391.7 1421.8,392.0 1425.5,392.8 1429.1,393.4 1431.3,393.7Z" fill="#fcb014" fill-rule="evenodd"/>
<path d="M1489.1,297.1 1490.7,297.7 1494.3,298.5 1498.0,298.7 1501.6,298.5 1505.2,298.0 1508.8,297.2 1512.5,296.1 1515.6,295.0 1519.7,293.5 1520.8,293.0 1523.3,291.9 1525.3,290.9 1527.0,290.1 1529.4,288.9 1530.6,288.3 1533.1,286.8 1534.2,286.2 1536.6,284.7 1537.8,284.0 1539.9,282.7 1541.5,281.7 1542.9,280.6 1545.1,279.1 1545.8,278.6 1548.5,276.5 1551.0,274.5 1552.3,273.4 1553.4,272.4 1555.7,270.4 1557.8,268.3 1559.6,266.4 1561.6,264.2 1563.2,262.3 1564.9,260.1 1566.3,258.0 1566.8,257.3 1567.6,256.0 1568.8,253.9 1569.9,251.8 1570.5,250.7 1570.8,249.8 1571.6,247.7 1572.3,245.7 1572.8,243.6 1573.2,241.6 1573.5,239.5 1573.5,237.4 1573.5,235.4 1573.2,233.3 1572.8,231.3 1572.1,229.2 1571.3,227.2 1570.5,225.4 1568.9,223.1 1567.4,221.0 1565.4,218.9 1563.2,217.0 1560.2,214.8 1556.7,212.8 1552.3,210.8 1548.7,209.5 1545.9,208.7 1541.5,207.7 1537.8,207.1 1534.2,206.7 1531.4,206.6 1527.0,206.6 1523.3,206.8 1519.7,207.1 1516.1,207.7 1512.5,208.4 1511.3,208.7 1508.8,209.3 1505.2,210.4 1501.6,211.7 1499.2,212.8 1498.0,213.3 1495.0,214.8 1491.4,216.9 1488.4,218.9 1487.1,219.9 1485.7,221.0 1483.5,222.9 1481.2,225.1 1479.8,226.6 1477.7,229.2 1476.2,231.2 1474.8,233.3 1473.6,235.4 1472.6,237.4 1471.7,239.5 1470.9,241.6 1470.2,243.6 1469.6,245.7 1469.1,247.7 1468.7,249.8 1468.5,251.8 1468.3,253.9 1468.2,256.0 1468.1,258.0 1468.2,260.1 1468.3,262.1 1468.5,264.2 1468.8,266.2 1469.2,268.3 1469.7,270.4 1470.2,272.4 1470.9,274.5 1471.6,276.5 1472.4,278.6 1473.3,280.6 1474.4,282.7 1475.5,284.7 1476.2,285.9 1476.8,286.8 1478.4,288.9 1479.8,290.7 1482.3,293.0 1483.5,294.0 1485.1,295.0 1487.1,296.3 1489.1,297.1Z" fill="#f7d340" fill-rule="evenodd"/>
<path d="M1509.6,262.1 1512.5,262.7 1516.1,262.9 1519.7,262.7 1523.0,262.1 1527.0,261.0 1529.5,260.1 1530.6,259.6 1533.8,258.0 1537.0,256.0 1537.8,255.4 1539.7,253.9 1541.5,252.3 1543.7,249.8 1545.1,248.0 1546.4,245.7 1547.3,243.6 1547.9,241.6 1548.2,239.5 1548.2,237.4 1547.9,235.4 1547.1,233.3 1546.0,231.3 1545.1,230.1 1544.2,229.2 1541.8,227.2 1537.9,225.1 1534.2,223.9 1530.6,223.2 1528.2,223.1 1527.0,223.0 1524.5,223.1 1523.3,223.1 1519.7,223.6 1516.1,224.5 1514.1,225.1 1512.5,225.7 1509.4,227.2 1506.1,229.2 1505.2,229.9 1503.5,231.3 1501.6,233.2 1499.8,235.4 1498.5,237.4 1498.0,238.6 1497.5,239.5 1496.8,241.6 1496.4,243.6 1496.2,245.7 1496.3,247.7 1496.6,249.8 1497.2,251.8 1498.0,253.5 1499.6,256.0 1501.5,258.0 1504.4,260.1 1505.2,260.5 1508.8,262.0Z" fill="#f2f482" fill-rule="evenodd"/>
<rect x="1128.20" y="675.50" width="812.00" height="32.90" fill="#444" stroke="#444" stroke-width="2.08"/>
<ellipse cx="1534.20" cy="691.95" rx="44.37" ry="26.32" fill="#8b0000" fill-opacity="0.93"/>
<rect x="1389.20" y="198.37" width="290.00" height="49.36" fill="#444" fill-opacity="0.8" stroke="#444" stroke-opacity="0.8" stroke-width="2.08"/>
<path d="M1388.5,239.3 1389.7,241.5 1390.9,243.6 1392.3,245.7 1393.8,247.8 1395.4,249.9 1397.0,251.9 1398.8,254.0 1400.6,256.0 1402.6,257.9 1404.6,259.9 1406.7,261.8 1408.9,263.7 1411.2,265.5 1413.6,267.3 1416.1,269.1 1418.6,270.8 1421.3,272.5 1424.0,274.2 1426.7,275.8 1429.6,277.4 1432.5,278.9 1435.5,280.4 1438.6,281.8 1441.7,283.2 1444.9,284.6 1448.1,285.9 1451.4,287.1 1454.8,288.3 1458.2,289.5 1461.7,290.6 1465.2,291.7 1468.8,292.6 1472.4,293.6 1476.0,294.5 1479.7,295.3 1483.5,296.1 1487.2,296.8 1491.0,297.5 1494.9,298.1 1498.7,298.7 1502.6,299.2 1506.5,299.6 1510.4,300.0 1514.4,300.3 1518.3,300.6 1522.3,300.8 1526.2,300.9 1530.2,301.0 1534.2,301.0 1538.2,301.0 1542.2,300.9 1546.1,300.8 1550.1,300.6 1554.0,300.3 1558.0,300.0 1561.9,299.6 1565.8,299.2 1569.7,298.7 1573.5,298.1 1577.4,297.5 1581.2,296.8 1584.9,296.1 1588.7,295.3 1592.4,294.5 1596.0,293.6 1599.6,292.6 1603.2,291.7 1606.7,290.6 1610.2,289.5 1613.6,288.3 1617.0,287.1 1620.3,285.9 1623.5,284.6 1626.7,283.2 1629.8,281.8 1632.9,280.4 1635.9,278.9 1638.8,277.4 1641.7,275.8 1644.4,274.2 1647.1,272.5 1649.8,270.8 1652.3,269.1 1654.8,267.3 1657.2,265.5 1659.5,263.7 1661.7,261.8 1663.8,259.9 1665.8,257.9 1667.8,256.0 1669.6,254.0 1671.4,251.9 1673.0,249.9 1674.6,247.8 1676.1,245.7 1677.5,243.6 1678.7,241.5 1679.9,239.3 1681.0,237.1 1682.0,235.0 1682.9,232.8 1683.6,230.5 1684.3,228.3 1684.9,226.1 1685.3,223.8 1685.7,221.6 1686.0,219.3 1686.1,217.1 1686.2,214.8 1686.1,212.6 1686.0,210.3 1685.7,208.1 1685.3,205.8 1684.9,203.6 1684.3,201.3 1683.6,199.1 1682.9,196.9 1682.0,194.7 1681.0,192.5 1679.9,190.3 1678.7,188.2 1677.5,186.0 1676.1,183.9 1674.6,181.8 1673.0,179.8 1671.4,177.7 1669.6,175.7 1667.8,173.7 1665.8,171.7 1663.8,169.8 1661.7,167.9 1659.5,166.0 1657.2,164.1 1654.8,162.3 1652.3,160.6 1649.8,158.8 1647.1,157.1 1644.4,155.5 1641.7,153.9 1638.8,152.3 1635.9,150.7 1632.9,149.3 1629.8,147.8 1626.7,146.4 1623.5,145.1 1620.3,143.8 1617.0,142.5 1613.6,141.3 1610.2,140.2 1606.7,139.1 1603.2,138.0 1599.6,137.0 1596.0,136.1 1592.4,135.2 1588.7,134.3 1584.9,133.5 1581.2,132.8 1577.4,132.2 1573.5,131.5 1569.7,131.0 1565.8,130.5 1561.9,130.0 1558.0,129.7 1554.0,129.3 1550.1,129.1 1546.1,128.9 1542.2,128.7 1538.2,128.6 1534.2,128.6 1530.2,128.6 1526.2,128.7 1522.3,128.9 1518.3,129.1 1514.4,129.3 1510.4,129.7 1506.5,130.0 1502.6,130.5 1498.7,131.0 1494.9,131.5 1491.0,132.2 1487.2,132.8 1483.5,133.5 1479.7,134.3 1476.0,135.2 1472.4,136.1 1468.8,137.0 1465.2,138.0 1461.7,139.1 1458.2,140.2 1454.8,141.3 1451.4,142.5 1448.1,143.8 1444.9,145.1 1441.7,146.4 1438.6,147.8 1435.5,149.3 1432.5,150.7 1429.6,152.3 1426.7,153.9 1424.0,155.5 1421.3,157.1 1418.6,158.8 1416.1,160.6 1413.6,162.3 1411.2,164.1 1408.9,166.0 1406.7,167.9 1404.6,169.8 1402.6,171.7 1400.6,173.7" stroke="#00ff00" stroke-opacity="0.95" stroke-width="3.6" stroke-dasharray="12.66 12.66" fill="none"/>
<path d="M1548.6,163.1 1546.3,162.9 1543.9,162.7 1541.4,162.6 1539.0,162.5 1536.6,162.5 1534.2,162.4 1531.8,162.5 1529.4,162.5 1527.0,162.6 1524.5,162.7 1522.1,162.9 1519.8,163.1 1517.4,163.3 1515.0,163.6 1512.6,163.9 1510.3,164.2 1508.0,164.6 1505.7,165.0 1503.4,165.4 1501.1,165.9 1498.9,166.4 1496.6,167.0 1494.5,167.5 1492.3,168.2 1490.1,168.8 1488.0,169.5 1486.0,170.2 1483.9,170.9 1481.9,171.7 1479.9,172.4 1478.0,173.3 1476.1,174.1 1474.2,175.0 1472.4,175.9 1470.6,176.8 1468.9,177.8 1467.2,178.8 1465.6,179.8 1464.0,180.8 1462.4,181.9 1460.9,182.9 1459.5,184.0 1458.1,185.2 1456.8,186.3 1455.5,187.5 1454.2,188.6 1453.1,189.8 1451.9,191.0 1450.9,192.3 1449.9,193.5 1448.9,194.8 1448.0,196.1 1447.2,197.3 1446.4,198.6 1445.7,199.9 1445.0,201.3 1444.4,202.6 1443.9,203.9 1443.4,205.3 1443.0,206.6 1442.7,208.0 1442.4,209.3 1442.2,210.7 1442.0,212.1 1441.9,213.5 1441.9,214.8 1441.9,216.2 1442.0,217.6 1442.2,218.9 1442.4,220.3 1442.7,221.7 1443.0,223.0 1443.4,224.4 1443.9,225.7 1444.4,227.1 1445.0,228.4 1445.7,229.7 1446.4,231.0 1447.2,232.3 1448.0,233.6 1448.9,234.9 1449.9,236.1 1450.9,237.4 1451.9,238.6 1453.1,239.8 1454.2,241.0 1455.5,242.2 1456.8,243.4 1458.1,244.5 1459.5,245.6 1460.9,246.7 1462.4,247.8 1464.0,248.8 1465.6,249.9 1467.2,250.9 1468.9,251.9 1470.6,252.8 1472.4,253.8 1474.2,254.7 1476.1,255.5 1478.0,256.4 1479.9,257.2 1481.9,258.0 1483.9,258.8 1486.0,259.5 1488.0,260.2 1490.1,260.9 1492.3,261.5 1494.5,262.1 1496.6,262.7 1498.9,263.2 1501.1,263.7 1503.4,264.2 1505.7,264.6 1508.0,265.0 1510.3,265.4 1512.6,265.8 1515.0,266.1 1517.4,266.3 1519.8,266.6 1522.1,266.8 1524.5,266.9 1527.0,267.0 1529.4,267.1 1531.8,267.2 1534.2,267.2 1536.6,267.2 1539.0,267.1 1541.4,267.0 1543.9,266.9 1546.3,266.8 1548.6,266.6 1551.0,266.3 1553.4,266.1 1555.8,265.8 1558.1,265.4 1560.4,265.0 1562.7,264.6 1565.0,264.2 1567.3,263.7 1569.5,263.2 1571.8,262.7 1573.9,262.1 1576.1,261.5 1578.3,260.9 1580.4,260.2 1582.4,259.5 1584.5,258.8 1586.5,258.0 1588.5,257.2 1590.4,256.4 1592.3,255.5 1594.2,254.7 1596.0,253.8 1597.8,252.8 1599.5,251.9 1601.2,250.9 1602.8,249.9 1604.4,248.8 1606.0,247.8 1607.5,246.7 1608.9,245.6 1610.3,244.5 1611.6,243.4 1612.9,242.2 1614.2,241.0 1615.3,239.8 1616.5,238.6 1617.5,237.4 1618.5,236.1 1619.5,234.9 1620.4,233.6 1621.2,232.3 1622.0,231.0 1622.7,229.7 1623.4,228.4 1624.0,227.1 1624.5,225.7 1625.0,224.4 1625.4,223.0 1625.7,221.7 1626.0,220.3 1626.2,218.9 1626.4,217.6 1626.5,216.2 1626.5,214.8 1626.5,213.5 1626.4,212.1 1626.2,210.7 1626.0,209.3 1625.7,208.0 1625.4,206.6" stroke="#00ff00" stroke-opacity="0.95" stroke-width="3.6" stroke-dasharray="12.66 12.66" fill="none"/>
<path d="M1244.20,708.40 V50.30" stroke="#000" stroke-opacity="0.27" stroke-width="1.5" stroke-dasharray="2.4 6.04" stroke-dashoffset="-1.5" fill="none"/>
<path d="M1389.20,708.40 V50.30" stroke="#000" stroke-opacity="0.27" stroke-width="1.5" stroke-dasharray="2.4 6.04" stroke-dashoffset="-1.5" fill="none"/>
<path d="M1534.20,708.40 V50.30" stroke="#000" stroke-opacity="0.27" stroke-width="1.5" stroke-dasharray="2.4 6.04" stroke-dashoffset="-1.5" fill="none"/>
<path d="M1679.20,708.40 V50.30" stroke="#000" stroke-opacity="0.27" stroke-width="1.5" stroke-dasharray="2.4 6.04" stroke-dashoffset="-1.5" fill="none"/>
<path d="M1824.20,708.40 V50.30" stroke="#000" stroke-opacity="0.27" stroke-width="1.5" stroke-dasharray="2.4 6.04" stroke-dashoffset="-1.5" fill="none"/>
<path d="M1099.20,626.14 H1969.20" stroke="#000" stroke-opacity="0.27" stroke-width="1.5" stroke-dasharray="2.4 6.04" stroke-dashoffset="-1.5" fill="none"/>
<path d="M1099.20,543.88 H1969.20" stroke="#000" stroke-opacity="0.27" stroke-width="1.5" stroke-dasharray="2.4 6.04" stroke-dashoffset="-1.5" fill="none"/>
<path d="M1099.20,461.61 H1969.20" stroke="#000" stroke-opacity="0.27" stroke-width="1.5" stroke-dasharray="2.4 6.04" stroke-dashoffset="-1.5" fill="none"/>
<path d="M1099.20,379.35 H1969.20" stroke="#000" stroke-opacity="0.27" stroke-width="1.5" stroke-dasharray="2.4 6.04" stroke-dashoffset="-1.5" fill="none"/>
<path d="M1099.20,297.09 H1969.20" stroke="#000" stroke-opacity="0.27" stroke-width="1.5" stroke-dasharray="2.4 6.04" stroke-dashoffset="-1.5" fill="none"/>
<path d="M1099.20,214.82 H1969.20" stroke="#000" stroke-opacity="0.27" stroke-width="1.5" stroke-dasharray="2.4 6.04" stroke-dashoffset="-1.5" fill="none"/>
<path d="M1099.20,132.56 H1969.20" stroke="#000" stroke-opacity="0.27" stroke-width="1.5" stroke-dasharray="2.4 6.04" stroke-dashoffset="-1.5" fill="none"/>
<text transform="translate(1382.2,202.3) rotate(-77.0)" text-anchor="middle" font-size="16.88" fill="#00ff00" fill-opacity="0.90" dy="5.8">100 ppm</text>
<text transform="translate(1595.8,174.7) rotate(35.0)" text-anchor="middle" font-size="16.88" fill="#00ff00" fill-opacity="0.90" dy="5.8">200 ppm</text>
<path d="M1816.7,144.4 L1687.1,207.8 M1694.1,198.6 L1687.1,207.8 L1698.7,207.9" fill="none" stroke="#000" stroke-width="3.10" stroke-linejoin="miter" stroke-linecap="butt"/>
<path d="M1296.9,455.9 L1352.8,417.4 M1347.2,427.5 L1352.8,417.4 L1341.3,419.0" fill="none" stroke="#000" stroke-width="3.10" stroke-linejoin="miter" stroke-linecap="butt"/>
<text x="1825.0" y="104.7" font-size="25.3" fill="#00ff00">Reduced</text>
<text x="1825.0" y="132.8" font-size="25.3" fill="#00ff00">NOx</text>
<text x="1248" y="481.5" text-anchor="middle" font-size="25.3" fill="#fff">Improved</text>
<text x="1246" y="509.6" text-anchor="middle" font-size="25.3" fill="#fff">Mixing</text>
<rect x="1462.2" y="499.8" width="479.5" height="111.6" fill="#fff" fill-opacity="0.9" stroke="#808080" stroke-width="1.04"/>
<text x="1471.6" y="524.3" font-size="21.08">Key Improvements:</text>
<text x="1471.6" y="548.8" font-size="21.08">- Peak Temp Reduction: 1850 K → 1650 K</text>
<text x="1471.6" y="573.3" font-size="21.08">- Max NOx Reduction: 500 ppm → 300 ppm</text>
<text x="1471.6" y="597.8" font-size="21.08">- Thermal Uniformity: +35%</text>
</g>
<path d="M1099.20,708.40 v-8.80 M1099.20,50.30 v8.80M1244.20,708.40 v-8.80 M1244.20,50.30 v8.80M1389.20,708.40 v-8.80 M1389.20,50.30 v8.80M1534.20,708.40 v-8.80 M1534.20,50.30 v8.80M1679.20,708.40 v-8.80 M1679.20,50.30 v8.80M1824.20,708.40 v-8.80 M1824.20,50.30 v8.80M1969.20,708.40 v-8.80 M1969.20,50.30 v8.80M1099.20,708.40 h8.80 M1969.20,708.40 h-8.80M1099.20,626.14 h8.80 M1969.20,626.14 h-8.80M1099.20,543.88 h8.80 M1969.20,543.88 h-8.80M1099.20,461.61 h8.80 M1969.20,461.61 h-8.80M1099.20,379.35 h8.80 M1969.20,379.35 h-8.80M1099.20,297.09 h8.80 M1969.20,297.09 h-8.80M1099.20,214.82 h8.80 M1969.20,214.82 h-8.80M1099.20,132.56 h8.80 M1969.20,132.56 h-8.80M1099.20,50.30 h8.80 M1969.20,50.30 h-8.80" stroke="#000" stroke-width="1.25"/>
<rect x="1099.20" y="50.30" width="870.00" height="658.10" fill="none" stroke="#000" stroke-width="2.08"/>
<text x="1099.20" y="736" text-anchor="middle" font-size="25.3">−1.5</text>
<text x="1244.20" y="736" text-anchor="middle" font-size="25.3">−1.0</text>
<text x="1389.20" y="736" text-anchor="middle" font-size="25.3">−0.5</text>
<text x="1534.20" y="736" text-anchor="middle" font-size="25.3">0.0</text>
<text x="1679.20" y="736" text-anchor="middle" font-size="25.3">0.5</text>
<text x="1824.20" y="736" text-anchor="middle" font-size="25.3">1.0</text>
<text x="1969.20" y="736" text-anchor="middle" font-size="25.3">1.5</text>
<text x="1533.2" y="40.0" text-anchor="middle" font-size="29.5">(b) Proposed Burner Design</text>
<text x="1534.2" y="771.4" text-anchor="middle" font-size="25.3">Radial Position (m)</text>
<rect x="791.70" y="123.90" width="424.00" height="273.30" fill="#3b4cc0"/>
<g clip-path="url(#ci)">
<path d="M791.7,397.2 793.1,397.2 794.5,397.2 795.9,397.2 797.4,397.2 798.8,397.2 800.2,397.2 801.6,397.2 803.0,397.2 804.4,397.2 805.8,397.2 807.2,397.2 808.7,397.2 810.1,397.2 811.5,397.2 812.9,397.2 814.3,397.2 815.7,397.2 817.1,397.2 818.6,397.2 820.0,397.2 821.4,397.2 822.8,397.2 824.2,397.2 825.6,397.2 827.0,397.2 828.4,397.2 829.9,397.2 831.3,397.2 832.7,397.2 834.1,397.2 835.5,397.2 836.9,397.2 838.3,397.2 839.8,397.2 841.2,397.2 842.6,397.2 844.0,397.2 845.4,397.2 846.8,397.2 848.2,397.2 849.6,397.2 851.1,397.2 852.5,397.2 853.9,397.2 855.3,397.2 856.7,397.2 858.1,397.2 859.5,397.2 861.0,397.2 862.4,397.2 863.8,397.2 865.2,397.2 866.6,397.2 868.0,397.2 869.4,397.2 870.8,397.2 872.3,397.2 873.7,397.2 875.1,397.2 876.5,397.2 877.9,397.2 879.3,397.2 880.7,397.2 882.2,397.2 883.6,397.2 885.0,397.2 886.4,397.2 887.8,397.2 889.2,397.2 890.6,397.2 892.0,397.2 893.5,397.2 894.9,397.2 896.3,397.2 897.7,397.2 899.1,397.2 900.5,397.2 901.9,397.2 903.4,397.2 904.8,397.2 906.2,397.2 907.6,397.2 909.0,397.2 910.4,397.2 911.8,397.2 913.2,397.2 914.7,397.2 916.1,397.2 917.5,397.2 918.9,397.2 920.3,397.2 921.7,397.2 923.1,397.2 924.6,397.2 926.0,397.2 927.4,397.2 928.8,397.2 930.2,397.2 931.6,397.2 933.0,397.2 934.4,397.2 935.9,397.2 937.3,397.2 938.7,397.2 940.1,397.2 941.5,397.2 942.9,397.2 944.3,397.2 945.8,397.2 947.2,397.2 948.6,397.2 950.0,397.2 951.4,397.2 952.8,397.2 954.2,397.2 955.6,397.2 957.1,397.2 958.5,397.2 959.9,397.2 961.3,397.2 962.7,397.2 964.1,397.2 965.5,397.2 967.0,397.2 968.4,397.2 969.8,397.2 971.2,397.2 972.6,397.2 974.0,397.2 975.4,397.2 976.8,397.2 978.3,397.2 979.7,397.2 981.1,397.2 982.5,397.2 983.9,397.2 985.3,397.2 986.7,397.2 988.2,397.2 989.6,397.2 991.0,397.2 992.4,397.2 993.8,397.2 995.2,397.2 996.6,397.2 998.0,397.2 999.5,397.2 1000.9,397.2 1002.3,397.2 1003.7,397.2 1005.1,397.2 1006.5,397.2 1007.9,397.2 1009.4,397.2 1010.8,397.2 1012.2,397.2 1013.6,397.2 1015.0,397.2 1016.4,397.2 1017.8,397.2 1019.2,397.2 1020.7,397.2 1022.1,397.2 1023.5,397.2 1024.9,397.2 1026.3,397.2 1027.7,397.2 1029.1,397.2 1030.6,397.2 1032.0,397.2 1033.4,397.2 1034.8,397.2 1036.2,397.2 1037.6,397.2 1039.0,397.2 1040.4,397.2 1041.9,397.2 1043.3,397.2 1044.7,397.2 1046.1,397.2 1047.5,397.2 1048.9,397.2 1050.3,397.2 1051.8,397.2 1053.2,397.2 1054.6,397.2 1056.0,397.2 1057.4,397.2 1058.8,397.2 1060.2,397.2 1061.6,397.2 1063.1,397.2 1064.5,397.2 1065.9,397.2 1067.3,397.2 1068.7,397.2 1070.1,397.2 1071.5,397.2 1073.0,397.2 1074.4,397.2 1075.8,397.2 1077.2,397.2 1078.6,397.2 1080.0,397.2 1081.4,397.2 1082.8,397.2 1084.3,397.2 1085.7,397.2 1087.1,397.2 1088.5,397.2 1089.9,397.2 1091.3,397.2 1092.7,397.2 1094.2,397.2 1095.6,397.2 1097.0,397.2 1098.4,397.2 1099.8,397.2 1101.2,397.2 1102.6,397.2 1104.0,397.2 1105.5,397.2 1106.9,397.2 1108.3,397.2 1109.7,397.2 1111.1,397.2 1112.5,397.2 1113.9,397.2 1115.4,397.2 1116.8,397.2 1118.2,397.2 1119.6,397.2 1121.0,397.2 1122.4,397.2 1123.8,397.2 1125.2,397.2 1126.7,397.2 1128.1,397.2 1129.5,397.2 1130.9,397.2 1132.3,397.2 1133.7,397.2 1135.1,397.2 1136.6,397.2 1138.0,397.2 1139.4,397.2 1140.8,397.2 1142.2,397.2 1143.6,397.2 1145.0,397.2 1146.4,397.2 1147.9,397.2 1149.3,397.2 1150.7,397.2 1152.1,397.2 1153.5,397.2 1154.9,397.2 1156.3,397.2 1157.8,397.2 1159.2,397.2 1160.6,397.2 1162.0,397.2 1163.4,397.2 1164.8,397.2 1166.2,397.2 1167.6,397.2 1169.1,397.2 1170.5,397.2 1171.9,397.2 1173.3,397.2 1174.7,397.2 1176.1,397.2 1177.5,397.2 1179.0,397.2 1180.4,397.2 1181.8,397.2 1183.2,397.2 1184.6,397.2 1186.0,397.2 1187.4,397.2 1188.8,397.2 1190.3,397.2 1191.7,397.2 1193.1,397.2 1194.5,397.2 1195.9,397.2 1197.3,397.2 1198.7,397.2 1200.2,397.2 1201.6,397.2 1203.0,397.2 1204.4,397.2 1205.8,397.2 1207.2,397.2 1208.6,397.2 1210.0,397.2 1211.5,397.2 1212.9,397.2 1214.3,397.2 1215.7,397.2 1215.7,395.8 1215.7,394.5 1215.7,393.1 1215.7,391.7 1215.7,390.4 1215.7,389.0 1215.7,387.6 1215.7,386.3 1215.7,384.9 1215.7,383.5 1215.7,382.2 1215.7,380.8 1215.7,379.4 1215.7,378.1 1215.7,376.7 1215.7,375.3 1215.7,374.0 1215.7,372.6 1215.7,371.2 1215.7,369.9 1215.7,368.5 1215.7,367.1 1215.7,365.8 1215.7,364.4 1215.7,363.0 1215.7,361.7 1215.7,360.3 1215.7,358.9 1215.7,357.6 1215.7,356.2 1215.7,354.8 1215.7,353.5 1215.7,352.1 1215.7,350.7 1215.7,349.4 1215.7,348.0 1215.7,346.6 1215.7,345.3 1215.7,343.9 1215.7,342.5 1215.7,341.2 1215.7,339.8 1215.7,338.4 1215.7,337.1 1215.7,335.7 1215.7,334.3 1215.7,333.0 1215.7,331.6 1215.7,330.2 1215.7,328.9 1215.7,327.5 1215.7,326.1 1215.7,324.8 1215.7,323.4 1215.7,322.0 1215.7,320.7 1215.7,319.3 1215.7,317.9 1215.7,316.6 1215.7,315.2 1215.7,313.8 1215.7,312.5 1215.7,311.1 1215.7,309.7 1215.7,308.4 1215.7,307.0 1215.7,305.6 1215.7,304.3 1215.7,302.9 1215.7,301.5 1215.7,300.2 1215.7,298.8 1215.7,297.4 1215.7,296.1 1215.7,294.7 1215.7,293.3 1215.7,292.0 1215.7,290.6 1215.7,289.2 1215.7,287.9 1215.7,286.5 1215.7,285.1 1215.7,283.8 1215.7,282.4 1215.7,281.0 1215.7,279.7 1215.7,278.3 1215.7,276.9 1215.7,275.6 1215.7,274.2 1215.7,272.8 1215.7,271.5 1215.7,270.1 1215.7,268.7 1215.7,267.4 1215.7,266.0 1215.7,264.6 1215.7,263.3 1215.7,261.9 1215.7,260.6 1215.7,259.2 1215.7,257.8 1215.7,256.5 1215.7,255.1 1215.7,253.7 1215.7,252.4 1215.7,251.0 1215.7,249.6 1215.7,248.3 1215.7,246.9 1215.7,245.5 1215.7,244.2 1215.7,242.8 1215.7,241.4 1215.7,240.1 1215.7,238.7 1215.7,237.3 1215.7,236.0 1215.7,234.6 1215.7,233.2 1215.7,231.9 1215.7,230.5 1215.7,229.1 1215.7,227.8 1215.7,226.4 1215.7,225.0 1215.7,223.7 1215.7,222.3 1215.7,220.9 1215.7,219.6 1215.7,218.2 1215.7,216.8 1215.7,215.5 1215.7,214.1 1215.7,212.7 1215.7,211.4 1215.7,210.0 1215.7,208.6 1215.7,207.3 1215.7,205.9 1215.7,204.5 1215.7,203.2 1215.7,201.8 1215.7,200.4 1215.7,199.1 1215.7,197.7 1215.7,196.3 1215.7,195.0 1215.7,193.6 1215.7,192.2 1215.7,190.9 1215.7,189.5 1215.7,188.1 1215.7,186.8 1215.7,185.4 1215.7,184.0 1215.7,182.7 1215.7,181.3 1215.7,179.9 1215.7,178.6 1215.7,177.2 1215.7,175.8 1215.7,174.5 1215.7,173.1 1215.7,171.7 1215.7,170.4 1215.7,169.0 1215.7,167.6 1215.7,166.3 1215.7,164.9 1215.7,163.5 1215.7,162.2 1215.7,160.8 1215.7,159.4 1215.7,158.1 1215.7,156.7 1215.7,155.3 1215.7,154.0 1215.7,152.6 1215.7,151.2 1215.7,149.9 1215.7,148.5 1215.7,147.1 1215.7,145.8 1215.7,144.4 1215.7,143.0 1215.7,141.7 1215.7,140.3 1215.7,138.9 1215.7,137.6 1215.7,136.2 1215.7,134.8 1215.7,133.5 1215.7,132.1 1215.7,130.7 1215.7,129.4 1215.7,128.0 1215.7,126.6 1215.7,125.3 1215.7,123.9 1214.3,123.9 1212.9,123.9 1211.5,123.9 1210.0,123.9 1208.6,123.9 1207.2,123.9 1205.8,123.9 1204.4,123.9 1203.0,123.9 1201.6,123.9 1200.2,123.9 1198.7,123.9 1197.3,123.9 1195.9,123.9 1194.5,123.9 1193.1,123.9 1191.7,123.9 1190.3,123.9 1188.8,123.9 1187.4,123.9 1186.0,123.9 1184.6,123.9 1183.2,123.9 1181.8,123.9 1180.4,123.9 1179.0,123.9 1177.5,123.9 1176.1,123.9 1174.7,123.9 1173.3,123.9 1171.9,123.9 1170.5,123.9 1169.1,123.9 1167.6,123.9 1166.2,123.9 1164.8,123.9 1163.4,123.9 1162.0,123.9 1160.6,123.9 1159.2,123.9 1157.8,123.9 1156.3,123.9 1154.9,123.9 1153.5,123.9 1152.1,123.9 1150.7,123.9 1149.3,123.9 1147.9,123.9 1146.4,123.9 1145.0,123.9 1143.6,123.9 1142.2,123.9 1140.8,123.9 1139.4,123.9 1138.0,123.9 1136.6,123.9 1135.1,123.9 1133.7,123.9 1132.3,123.9 1130.9,123.9 1129.5,123.9 1128.1,123.9 1126.7,123.9 1125.2,123.9 1123.8,123.9 1122.4,123.9 1121.0,123.9 1119.6,123.9 1118.2,123.9 1116.8,123.9 1115.4,123.9 1113.9,123.9 1112.5,123.9 1111.1,123.9 1109.7,123.9 1108.3,123.9 1106.9,123.9 1105.5,123.9 1104.0,123.9 1102.6,123.9 1101.2,123.9 1099.8,123.9 1098.4,123.9 1097.0,123.9 1095.6,123.9 1094.2,123.9 1092.7,123.9 1091.3,123.9 1089.9,123.9 1088.5,123.9 1087.1,123.9 1085.7,123.9 1084.3,123.9 1082.8,123.9 1081.4,123.9 1080.0,123.9 1078.6,123.9 1077.2,123.9 1075.8,123.9 1074.4,123.9 1073.0,123.9 1071.5,123.9 1070.1,123.9 1068.7,123.9 1067.3,123.9 1065.9,123.9 1064.5,123.9 1063.1,123.9 1061.6,123.9 1060.2,123.9 1058.8,123.9 1057.4,123.9 1056.0,123.9 1054.6,123.9 1053.2,123.9 1051.8,123.9 1050.3,123.9 1048.9,123.9 1047.5,123.9 1046.1,123.9 1044.7,123.9 1043.3,123.9 1041.9,123.9 1040.4,123.9 1039.0,123.9 1037.6,123.9 1036.2,123.9 1034.8,123.9 1033.4,123.9 1032.0,123.9 1030.6,123.9 1029.1,123.9 1027.7,123.9 1026.3,123.9 1024.9,123.9 1023.5,123.9 1022.1,123.9 1020.7,123.9 1019.2,123.9 1017.8,123.9 1016.4,123.9 1015.0,123.9 1013.6,123.9 1012.2,123.9 1010.8,123.9 1009.4,123.9 1007.9,123.9 1006.5,123.9 1005.1,123.9 1003.7,123.9 1002.3,123.9 1000.9,123.9 999.5,123.9 998.0,123.9 996.6,123.9 995.2,123.9 993.8,123.9 992.4,123.9 991.0,123.9 989.6,123.9 988.2,123.9 986.7,123.9 985.3,123.9 983.9,123.9 982.5,123.9 981.1,123.9 979.7,123.9 978.3,123.9 976.8,123.9 975.4,123.9 974.0,123.9 972.6,123.9 971.2,123.9 969.8,123.9 968.4,123.9 967.0,123.9 965.5,123.9 964.1,123.9 962.7,123.9 961.3,123.9 959.9,123.9 958.5,123.9 957.1,123.9 955.6,123.9 954.2,123.9 952.8,123.9 951.4,123.9 950.0,123.9 948.6,123.9 947.2,123.9 945.8,123.9 944.3,123.9 942.9,123.9 941.5,123.9 940.1,123.9 938.7,123.9 937.3,123.9 935.9,123.9 934.4,123.9 933.0,123.9 931.6,123.9 930.2,123.9 928.8,123.9 927.4,123.9 926.0,123.9 924.6,123.9 923.1,123.9 921.7,123.9 920.3,123.9 918.9,123.9 917.5,123.9 916.1,123.9 914.7,123.9 913.2,123.9 911.8,123.9 910.4,123.9 909.0,123.9 907.6,123.9 906.2,123.9 904.8,123.9 903.4,123.9 901.9,123.9 900.5,123.9 899.1,123.9 897.7,123.9 896.3,123.9 894.9,123.9 893.5,123.9 892.0,123.9 890.6,123.9 889.2,123.9 887.8,123.9 886.4,123.9 885.0,123.9 883.6,123.9 882.2,123.9 880.7,123.9 879.3,123.9 877.9,123.9 876.5,123.9 875.1,123.9 873.7,123.9 872.3,123.9 870.8,123.9 869.4,123.9 868.0,123.9 866.6,123.9 865.2,123.9 863.8,123.9 862.4,123.9 861.0,123.9 859.5,123.9 858.1,123.9 856.7,123.9 855.3,123.9 853.9,123.9 852.5,123.9 851.1,123.9 849.6,123.9 848.2,123.9 846.8,123.9 845.4,123.9 844.0,123.9 842.6,123.9 841.2,123.9 839.8,123.9 838.3,123.9 836.9,123.9 835.5,123.9 834.1,123.9 832.7,123.9 831.3,123.9 829.9,123.9 828.4,123.9 827.0,123.9 825.6,123.9 824.2,123.9 822.8,123.9 821.4,123.9 820.0,123.9 818.6,123.9 817.1,123.9 815.7,123.9 814.3,123.9 812.9,123.9 811.5,123.9 810.1,123.9 808.7,123.9 807.2,123.9 805.8,123.9 804.4,123.9 803.0,123.9 801.6,123.9 800.2,123.9 798.8,123.9 797.4,123.9 795.9,123.9 794.5,123.9 793.1,123.9 791.7,123.9 791.7,125.3 791.7,126.6 791.7,128.0 791.7,129.4 791.7,130.7 791.7,132.1 791.7,133.5 791.7,134.8 791.7,136.2 791.7,137.6 791.7,138.9 791.7,140.3 791.7,141.7 791.7,143.0 791.7,144.4 791.7,145.8 791.7,147.1 791.7,148.5 791.7,149.9 791.7,151.2 791.7,152.6 791.7,154.0 791.7,155.3 791.7,156.7 791.7,158.1 791.7,159.4 791.7,160.8 791.7,162.2 791.7,163.5 791.7,164.9 791.7,166.3 791.7,167.6 791.7,169.0 791.7,170.4 791.7,171.7 791.7,173.1 791.7,174.5 791.7,175.8 791.7,177.2 791.7,178.6 791.7,179.9 791.7,181.3 791.7,182.7 791.7,184.0 791.7,185.4 791.7,186.8 791.7,188.1 791.7,189.5 791.7,190.9 791.7,192.2 791.7,193.6 791.7,195.0 791.7,196.3 791.7,197.7 791.7,199.1 791.7,200.4 791.7,201.8 791.7,203.2 791.7,204.5 791.7,205.9 791.7,207.3 791.7,208.6 791.7,210.0 791.7,211.4 791.7,212.7 791.7,214.1 791.7,215.5 791.7,216.8 791.7,218.2 791.7,219.6 791.7,220.9 791.7,222.3 791.7,223.7 791.7,225.0 791.7,226.4 791.7,227.8 791.7,229.1 791.7,230.5 791.7,231.9 791.7,233.2 791.7,234.6 791.7,236.0 791.7,237.3 791.7,238.7 791.7,240.1 791.7,241.4 791.7,242.8 791.7,244.2 791.7,245.5 791.7,246.9 791.7,248.3 791.7,249.6 791.7,251.0 791.7,252.4 791.7,253.7 791.7,255.1 791.7,256.5 791.7,257.8 791.7,259.2 791.7,260.6 791.7,261.9 791.7,263.3 791.7,264.6 791.7,266.0 791.7,267.4 791.7,268.7 791.7,270.1 791.7,271.5 791.7,272.8 791.7,274.2 791.7,275.6 791.7,276.9 791.7,278.3 791.7,279.7 791.7,281.0 791.7,282.4 791.7,283.8 791.7,285.1 791.7,286.5 791.7,287.9 791.7,289.2 791.7,290.6 791.7,292.0 791.7,293.3 791.7,294.7 791.7,296.1 791.7,297.4 791.7,298.8 791.7,300.2 791.7,301.5 791.7,302.9 791.7,304.3 791.7,305.6 791.7,307.0 791.7,308.4 791.7,309.7 791.7,311.1 791.7,312.5 791.7,313.8 791.7,315.2 791.7,316.6 791.7,317.9 791.7,319.3 791.7,320.7 791.7,322.0 791.7,323.4 791.7,324.8 791.7,326.1 791.7,327.5 791.7,328.9 791.7,330.2 791.7,331.6 791.7,333.0 791.7,334.3 791.7,335.7 791.7,337.1 791.7,338.4 791.7,339.8 791.7,341.2 791.7,342.5 791.7,343.9 791.7,345.3 791.7,346.6 791.7,348.0 791.7,349.4 791.7,350.7 791.7,352.1 791.7,353.5 791.7,354.8 791.7,356.2 791.7,357.6 791.7,358.9 791.7,360.3 791.7,361.7 791.7,363.0 791.7,364.4 791.7,365.8 791.7,367.1 791.7,368.5 791.7,369.9 791.7,371.2 791.7,372.6 791.7,374.0 791.7,375.3 791.7,376.7 791.7,378.1 791.7,379.4 791.7,380.8 791.7,382.2 791.7,383.5 791.7,384.9 791.7,386.3 791.7,387.6 791.7,389.0 791.7,390.4 791.7,391.7 791.7,393.1 791.7,394.5 791.7,395.8 791.7,397.2ZM870.8,323.5 869.7,323.4 868.0,323.2 866.6,323.0 865.2,322.7 863.8,322.5 862.4,322.2 861.0,321.8 859.5,321.5 858.1,321.1 856.8,320.7 855.3,320.2 853.9,319.7 852.9,319.3 851.3,318.6 849.8,317.9 848.4,317.3 847.2,316.6 846.0,315.9 845.0,315.2 844.0,314.5 843.2,313.8 842.4,313.2 841.7,312.5 841.0,311.8 840.4,311.1 839.9,310.4 839.0,309.1 838.4,307.7 838.0,306.3 837.8,305.0 837.9,303.6 838.2,302.2 838.8,300.9 839.7,299.5 840.2,298.8 840.9,298.1 841.6,297.4 842.4,296.8 843.3,296.1 844.4,295.4 845.4,294.8 846.8,294.1 848.2,293.5 849.6,292.9 851.1,292.4 852.5,292.0 853.9,291.6 855.3,291.3 856.7,291.0 858.1,290.7 859.5,290.5 861.0,290.3 862.4,290.2 863.8,290.0 865.2,289.9 866.6,289.9 868.0,289.8 869.4,289.8 870.8,289.8 872.3,289.8 873.7,289.9 875.1,290.0 876.5,290.1 877.9,290.2 879.3,290.4 880.7,290.5 882.2,290.7 883.6,291.0 885.0,291.2 886.4,291.5 887.8,291.8 889.2,292.2 890.6,292.6 892.0,293.0 893.2,293.3 894.9,293.9 896.3,294.4 897.7,295.0 898.6,295.4 900.0,296.1 901.3,296.8 902.6,297.4 903.4,297.9 904.7,298.8 905.7,299.5 906.5,300.2 907.3,300.9 908.0,301.5 908.7,302.2 909.3,302.9 909.8,303.6 910.4,304.6 911.0,305.6 911.5,307.0 911.8,308.4 911.8,309.7 911.6,311.1 911.2,312.5 910.4,313.8 909.4,315.2 908.7,315.9 908.0,316.6 907.1,317.3 906.2,317.9 905.1,318.6 903.8,319.3 902.4,320.0 900.7,320.7 899.1,321.2 897.7,321.7 896.4,322.0 894.9,322.4 893.5,322.7 892.0,323.0 890.6,323.2 889.3,323.4 887.8,323.6 886.4,323.7 885.0,323.8 883.6,323.9 882.2,324.0 880.7,324.0 879.3,324.0 877.9,324.0 876.5,324.0 875.1,323.9 873.7,323.8 872.3,323.7 870.8,323.5Z" fill="#4358cb" fill-rule="evenodd"/>
<path d="M791.7,397.2 793.1,397.2 794.5,397.2 795.9,397.2 797.4,397.2 798.8,397.2 800.2,397.2 801.6,397.2 803.0,397.2 804.4,397.2 805.8,397.2 807.2,397.2 808.7,397.2 810.1,397.2 811.5,397.2 812.9,397.2 814.3,397.2 815.7,397.2 817.1,397.2 818.6,397.2 820.0,397.2 821.4,397.2 822.8,397.2 824.2,397.2 825.6,397.2 827.0,397.2 828.4,397.2 829.9,397.2 831.3,397.2 832.7,397.2 834.1,397.2 835.5,397.2 836.9,397.2 838.3,397.2 839.8,397.2 841.2,397.2 842.6,397.2 844.0,397.2 845.4,397.2 846.8,397.2 848.2,397.2 849.6,397.2 851.1,397.2 852.5,397.2 853.9,397.2 855.3,397.2 856.7,397.2 858.1,397.2 859.5,397.2 861.0,397.2 862.4,397.2 863.8,397.2 865.2,397.2 866.6,397.2 868.0,397.2 869.4,397.2 870.8,397.2 872.3,397.2 873.7,397.2 875.1,397.2 876.5,397.2 877.9,397.2 879.3,397.2 880.7,397.2 882.2,397.2 883.6,397.2 885.0,397.2 886.4,397.2 887.8,397.2 889.2,397.2 890.6,397.2 892.0,397.2 893.5,397.2 894.9,397.2 896.3,397.2 897.7,397.2 899.1,397.2 900.5,397.2 901.9,397.2 903.4,397.2 904.8,397.2 906.2,397.2 907.6,397.2 909.0,397.2 910.4,397.2 911.8,397.2 913.2,397.2 914.7,397.2 916.1,397.2 917.5,397.2 918.9,397.2 920.3,397.2 921.7,397.2 923.1,397.2 924.6,397.2 926.0,397.2 927.4,397.2 928.8,397.2 930.2,397.2 931.6,397.2 933.0,397.2 934.4,397.2 935.9,397.2 937.3,397.2 938.7,397.2 940.1,397.2 941.5,397.2 942.9,397.2 944.3,397.2 945.8,397.2 947.2,397.2 948.6,397.2 950.0,397.2 951.4,397.2 952.8,397.2 954.2,397.2 955.6,397.2 957.1,397.2 958.5,397.2 959.9,397.2 961.3,397.2 962.7,397.2 964.1,397.2 965.5,397.2 967.0,397.2 968.4,397.2 969.8,397.2 971.2,397.2 972.6,397.2 974.0,397.2 975.4,397.2 976.8,397.2 978.3,397.2 979.7,397.2 981.1,397.2 982.5,397.2 983.9,397.2 985.3,397.2 986.7,397.2 988.2,397.2 989.6,397.2 991.0,397.2 992.4,397.2 993.8,397.2 995.2,397.2 996.6,397.2 998.0,397.2 999.5,397.2 1000.9,397.2 1002.3,397.2 1003.7,397.2 1005.1,397.2 1006.5,397.2 1007.9,397.2 1009.4,397.2 1010.8,397.2 1012.2,397.2 1013.6,397.2 1015.0,397.2 1016.4,397.2 1017.8,397.2 1019.2,397.2 1020.7,397.2 1022.1,397.2 1023.5,397.2 1024.9,397.2 1026.3,397.2 1027.7,397.2 1029.1,397.2 1030.6,397.2 1032.0,397.2 1033.4,397.2 1034.8,397.2 1036.2,397.2 1037.6,397.2 1039.0,397.2 1040.4,397.2 1041.9,397.2 1043.3,397.2 1044.7,397.2 1046.1,397.2 1047.5,397.2 1048.9,397.2 1050.3,397.2 1051.8,397.2 1053.2,397.2 1054.6,397.2 1056.0,397.2 1057.4,397.2 1058.8,397.2 1060.2,397.2 1061.6,397.2 1063.1,397.2 1064.5,397.2 1065.9,397.2 1067.3,397.2 1068.7,397.2 1070.1,397.2 1071.5,397.2 1073.0,397.2 1074.4,397.2 1075.8,397.2 1077.2,397.2 1078.6,397.2 1080.0,397.2 1081.4,397.2 1082.8,397.2 1084.3,397.2 1085.7,397.2 1087.1,397.2 1088.5,397.2 1089.9,397.2 1091.3,397.2 1092.7,397.2 1094.2,397.2 1095.6,397.2 1097.0,397.2 1098.4,397.2 1099.8,397.2 1101.2,397.2 1102.6,397.2 1104.0,397.2 1105.5,397.2 1106.9,397.2 1108.3,397.2 1109.7,397.2 1111.1,397.2 1112.5,397.2 1113.9,397.2 1115.4,397.2 1116.8,397.2 1118.2,397.2 1119.6,397.2 1121.0,397.2 1122.4,397.2 1123.8,397.2 1125.2,397.2 1126.7,397.2 1128.1,397.2 1129.5,397.2 1130.9,397.2 1132.3,397.2 1133.7,397.2 1135.1,397.2 1136.6,397.2 1138.0,397.2 1139.4,397.2 1140.8,397.2 1142.2,397.2 1143.6,397.2 1145.0,397.2 1146.4,397.2 1147.9,397.2 1149.3,397.2 1150.7,397.2 1152.1,397.2 1153.5,397.2 1154.9,397.2 1156.3,397.2 1157.8,397.2 1159.2,397.2 1160.6,397.2 1162.0,397.2 1163.4,397.2 1164.8,397.2 1166.2,397.2 1167.6,397.2 1169.1,397.2 1170.5,397.2 1171.9,397.2 1173.3,397.2 1174.7,397.2 1176.1,397.2 1177.5,397.2 1179.0,397.2 1180.4,397.2 1181.8,397.2 1183.2,397.2 1184.6,397.2 1186.0,397.2 1187.4,397.2 1188.8,397.2 1190.3,397.2 1191.7,397.2 1193.1,397.2 1194.5,397.2 1195.9,397.2 1197.3,397.2 1198.7,397.2 1200.2,397.2 1201.6,397.2 1203.0,397.2 1204.4,397.2 1205.8,397.2 1207.2,397.2 1208.6,397.2 1210.0,397.2 1211.5,397.2 1212.9,397.2 1214.3,397.2 1215.7,397.2 1215.7,395.8 1215.7,394.5 1215.7,393.1 1215.7,391.7 1215.7,390.4 1215.7,389.0 1215.7,387.6 1215.7,386.3 1215.7,384.9 1215.7,383.5 1215.7,382.2 1215.7,380.8 1215.7,379.4 1215.7,378.1 1215.7,376.7 1215.7,375.3 1215.7,374.0 1215.7,372.6 1215.7,371.2 1215.7,369.9 1215.7,368.5 1215.7,367.1 1215.7,365.8 1215.7,364.4 1215.7,363.0 1215.7,361.7 1215.7,360.3 1215.7,358.9 1215.7,357.6 1215.7,356.2 1215.7,354.8 1215.7,353.5 1215.7,352.1 1215.7,350.7 1215.7,349.4 1215.7,348.0 1215.7,346.6 1215.7,345.3 1215.7,343.9 1215.7,342.5 1215.7,341.2 1215.7,339.8 1215.7,338.4 1215.7,337.1 1215.7,335.7 1215.7,334.3 1215.7,333.0 1215.7,331.6 1215.7,330.2 1215.7,328.9 1215.7,327.5 1215.7,326.1 1215.7,324.8 1215.7,323.4 1215.7,322.0 1215.7,320.7 1215.7,319.3 1215.7,317.9 1215.7,316.6 1215.7,315.2 1215.7,313.8 1215.7,312.5 1215.7,311.1 1215.7,309.7 1215.7,308.4 1215.7,307.0 1215.7,305.6 1215.7,304.3 1215.7,302.9 1215.7,301.5 1215.7,300.2 1215.7,298.8 1215.7,297.4 1215.7,296.1 1215.7,294.7 1215.7,293.3 1215.7,292.0 1215.7,290.6 1215.7,289.2 1215.7,287.9 1215.7,286.5 1215.7,285.1 1215.7,283.8 1215.7,282.4 1215.7,281.0 1215.7,279.7 1215.7,278.3 1215.7,276.9 1215.7,275.6 1215.7,274.2 1215.7,272.8 1215.7,271.5 1215.7,270.1 1215.7,268.7 1215.7,267.4 1215.7,266.0 1215.7,264.6 1215.7,263.3 1215.7,261.9 1215.7,260.6 1215.7,259.2 1215.7,257.8 1215.7,256.5 1215.7,255.1 1215.7,253.7 1215.7,252.4 1215.7,251.0 1215.7,249.6 1215.7,248.3 1215.7,246.9 1215.7,245.5 1215.7,244.2 1215.7,242.8 1215.7,241.4 1215.7,240.1 1215.7,238.7 1215.7,237.3 1215.7,236.0 1215.7,234.6 1215.7,233.2 1215.7,231.9 1215.7,230.5 1215.7,229.1 1215.7,227.8 1215.7,226.4 1215.7,225.0 1215.7,223.7 1215.7,222.3 1215.7,220.9 1215.7,219.6 1215.7,218.2 1215.7,216.8 1215.7,215.5 1215.7,214.1 1215.7,212.7 1215.7,211.4 1215.7,210.0 1215.7,208.6 1215.7,207.3 1215.7,205.9 1215.7,204.5 1215.7,203.2 1215.7,201.8 1215.7,200.4 1215.7,199.1 1215.7,197.7 1215.7,196.3 1215.7,195.0 1215.7,193.6 1215.7,192.2 1215.7,190.9 1215.7,189.5 1215.7,188.1 1215.7,186.8 1215.7,185.4 1215.7,184.0 1215.7,182.7 1215.7,181.3 1215.7,179.9 1215.7,178.6 1215.7,177.2 1215.7,175.8 1215.7,174.5 1215.7,173.1 1215.7,171.7 1215.7,170.4 1215.7,169.0 1215.7,167.6 1215.7,166.3 1215.7,164.9 1215.7,163.5 1215.7,162.2 1215.7,160.8 1215.7,159.4 1215.7,158.1 1215.7,156.7 1215.7,155.3 1215.7,154.0 1215.7,152.6 1215.7,151.2 1215.7,149.9 1215.7,148.5 1215.7,147.1 1215.7,145.8 1215.7,144.4 1215.7,143.0 1215.7,141.7 1215.7,140.3 1215.7,138.9 1215.7,137.6 1215.7,136.2 1215.7,134.8 1215.7,133.5 1215.7,132.1 1215.7,130.7 1215.7,129.4 1215.7,128.0 1215.7,126.6 1215.7,125.3 1215.7,123.9 1214.3,123.9 1212.9,123.9 1211.5,123.9 1210.0,123.9 1208.6,123.9 1207.2,123.9 1205.8,123.9 1204.4,123.9 1203.0,123.9 1201.6,123.9 1200.2,123.9 1198.7,123.9 1197.3,123.9 1195.9,123.9 1194.5,123.9 1193.1,123.9 1191.7,123.9 1190.3,123.9 1188.8,123.9 1187.4,123.9 1186.0,123.9 1184.6,123.9 1183.2,123.9 1181.8,123.9 1180.4,123.9 1179.0,123.9 1177.5,123.9 1176.1,123.9 1174.7,123.9 1173.3,123.9 1171.9,123.9 1170.5,123.9 1169.1,123.9 1167.6,123.9 1166.2,123.9 1164.8,123.9 1163.4,123.9 1162.0,123.9 1160.6,123.9 1159.2,123.9 1157.8,123.9 1156.3,123.9 1154.9,123.9 1153.5,123.9 1152.1,123.9 1150.7,123.9 1149.3,123.9 1147.9,123.9 1146.4,123.9 1145.0,123.9 1143.6,123.9 1142.2,123.9 1140.8,123.9 1139.4,123.9 1138.0,123.9 1136.6,123.9 1135.1,123.9 1133.7,123.9 1132.3,123.9 1130.9,123.9 1129.5,123.9 1128.1,123.9 1126.7,123.9 1125.2,123.9 1123.8,123.9 1122.4,123.9 1121.0,123.9 1119.6,123.9 1118.2,123.9 1116.8,123.9 1115.4,123.9 1113.9,123.9 1112.5,123.9 1111.1,123.9 1109.7,123.9 1108.3,123.9 1106.9,123.9 1105.5,123.9 1104.0,123.9 1102.6,123.9 1101.2,123.9 1099.8,123.9 1098.4,123.9 1097.0,123.9 1095.6,123.9 1094.2,123.9 1092.7,123.9 1091.3,123.9 1089.9,123.9 1088.5,123.9 1087.1,123.9 1085.7,123.9 1084.3,123.9 1082.8,123.9 1081.4,123.9 1080.0,123.9 1078.6,123.9 1077.2,123.9 1075.8,123.9 1074.4,123.9 1073.0,123.9 1071.5,123.9 1070.1,123.9 1068.7,123.9 1067.3,123.9 1065.9,123.9 1064.5,123.9 1063.1,123.9 1061.6,123.9 1060.2,123.9 1058.8,123.9 1057.4,123.9 1056.0,123.9 1054.6,123.9 1053.2,123.9 1051.8,123.9 1050.3,123.9 1048.9,123.9 1047.5,123.9 1046.1,123.9 1044.7,123.9 1043.3,123.9 1041.9,123.9 1040.4,123.9 1039.0,123.9 1037.6,123.9 1036.2,123.9 1034.8,123.9 1033.4,123.9 1032.0,123.9 1030.6,123.9 1029.1,123.9 1027.7,123.9 1026.3,123.9 1024.9,123.9 1023.5,123.9 1022.1,123.9 1020.7,123.9 1019.2,123.9 1017.8,123.9 1016.4,123.9 1015.0,123.9 1013.6,123.9 1012.2,123.9 1010.8,123.9 1009.4,123.9 1007.9,123.9 1006.5,123.9 1005.1,123.9 1003.7,123.9 1002.3,123.9 1000.9,123.9 999.5,123.9 998.0,123.9 996.6,123.9 995.2,123.9 993.8,123.9 992.4,123.9 991.0,123.9 989.6,123.9 988.2,123.9 986.7,123.9 985.3,123.9 983.9,123.9 982.5,123.9 981.1,123.9 979.7,123.9 978.3,123.9 976.8,123.9 975.4,123.9 974.0,123.9 972.6,123.9 971.2,123.9 969.8,123.9 968.4,123.9 967.0,123.9 965.5,123.9 964.1,123.9 962.7,123.9 961.3,123.9 959.9,123.9 958.5,123.9 957.1,123.9 955.6,123.9 954.2,123.9 952.8,123.9 951.4,123.9 950.0,123.9 948.6,123.9 947.2,123.9 945.8,123.9 944.3,123.9 942.9,123.9 941.5,123.9 940.1,123.9 938.7,123.9 937.3,123.9 935.9,123.9 934.4,123.9 933.0,123.9 931.6,123.9 930.2,123.9 928.8,123.9 927.4,123.9 926.0,123.9 924.6,123.9 923.1,123.9 921.7,123.9 920.3,123.9 918.9,123.9 917.5,123.9 916.1,123.9 914.7,123.9 913.2,123.9 911.8,123.9 910.4,123.9 909.0,123.9 907.6,123.9 906.2,123.9 904.8,123.9 903.4,123.9 901.9,123.9 900.5,123.9 899.1,123.9 897.7,123.9 896.3,123.9 894.9,123.9 893.5,123.9 892.0,123.9 890.6,123.9 889.2,123.9 887.8,123.9 886.4,123.9 885.0,123.9 883.6,123.9 882.2,123.9 880.7,123.9 879.3,123.9 877.9,123.9 876.5,123.9 875.1,123.9 873.7,123.9 872.3,123.9 870.8,123.9 869.4,123.9 868.0,123.9 866.6,123.9 865.2,123.9 863.8,123.9 862.4,123.9 861.0,123.9 859.5,123.9 858.1,123.9 856.7,123.9 855.3,123.9 853.9,123.9 852.5,123.9 851.1,123.9 849.6,123.9 848.2,123.9 846.8,123.9 845.4,123.9 844.0,123.9 842.6,123.9 841.2,123.9 839.8,123.9 838.3,123.9 836.9,123.9 835.5,123.9 834.1,123.9 832.7,123.9 831.3,123.9 829.9,123.9 828.4,123.9 827.0,123.9 825.6,123.9 824.2,123.9 822.8,123.9 821.4,123.9 820.0,123.9 818.6,123.9 817.1,123.9 815.7,123.9 814.3,123.9 812.9,123.9 811.5,123.9 810.1,123.9 808.7,123.9 807.2,123.9 805.8,123.9 804.4,123.9 803.0,123.9 801.6,123.9 800.2,123.9 798.8,123.9 797.4,123.9 795.9,123.9 794.5,123.9 793.1,123.9 791.7,123.9 791.7,125.3 791.7,126.6 791.7,128.0 791.7,129.4 791.7,130.7 791.7,132.1 791.7,133.5 791.7,134.8 791.7,136.2 791.7,137.6 791.7,138.9 791.7,140.3 791.7,141.7 791.7,143.0 791.7,144.4 791.7,145.8 791.7,147.1 791.7,148.5 791.7,149.9 791.7,151.2 791.7,152.6 791.7,154.0 791.7,155.3 791.7,156.7 791.7,158.1 791.7,159.4 791.7,160.8 791.7,162.2 791.7,163.5 791.7,164.9 791.7,166.3 791.7,167.6 791.7,169.0 791.7,170.4 791.7,171.7 791.7,173.1 791.7,174.5 791.7,175.8 791.7,177.2 791.7,178.6 791.7,179.9 791.7,181.3 791.7,182.7 791.7,184.0 791.7,185.4 791.7,186.8 791.7,188.1 791.7,189.5 791.7,190.9 791.7,192.2 791.7,193.6 791.7,195.0 791.7,196.3 791.7,197.7 791.7,199.1 791.7,200.4 791.7,201.8 791.7,203.2 791.7,204.5 791.7,205.9 791.7,207.3 791.7,208.6 791.7,210.0 791.7,211.4 791.7,212.7 791.7,214.1 791.7,215.5 791.7,216.8 791.7,218.2 791.7,219.6 791.7,220.9 791.7,222.3 791.7,223.7 791.7,225.0 791.7,226.4 791.7,227.8 791.7,229.1 791.7,230.5 791.7,231.9 791.7,233.2 791.7,234.6 791.7,236.0 791.7,237.3 791.7,238.7 791.7,240.1 791.7,241.4 791.7,242.8 791.7,244.2 791.7,245.5 791.7,246.9 791.7,248.3 791.7,249.6 791.7,251.0 791.7,252.4 791.7,253.7 791.7,255.1 791.7,256.5 791.7,257.8 791.7,259.2 791.7,260.6 791.7,261.9 791.7,263.3 791.7,264.6 791.7,266.0 791.7,267.4 791.7,268.7 791.7,270.1 791.7,271.5 791.7,272.8 791.7,274.2 791.7,275.6 791.7,276.9 791.7,278.3 791.7,279.7 791.7,281.0 791.7,282.4 791.7,283.8 791.7,285.1 791.7,286.5 791.7,287.9 791.7,289.2 791.7,290.6 791.7,292.0 791.7,293.3 791.7,294.7 791.7,296.1 791.7,297.4 791.7,298.8 791.7,300.2 791.7,301.5 791.7,302.9 791.7,304.3 791.7,305.6 791.7,307.0 791.7,308.4 791.7,309.7 791.7,311.1 791.7,312.5 791.7,313.8 791.7,315.2 791.7,316.6 791.7,317.9 791.7,319.3 791.7,320.7 791.7,322.0 791.7,323.4 791.7,324.8 791.7,326.1 791.7,327.5 791.7,328.9 791.7,330.2 791.7,331.6 791.7,333.0 791.7,334.3 791.7,335.7 791.7,337.1 791.7,338.4 791.7,339.8 791.7,341.2 791.7,342.5 791.7,343.9 791.7,345.3 791.7,346.6 791.7,348.0 791.7,349.4 791.7,350.7 791.7,352.1 791.7,353.5 791.7,354.8 791.7,356.2 791.7,357.6 791.7,358.9 791.7,360.3 791.7,361.7 791.7,363.0 791.7,364.4 791.7,365.8 791.7,367.1 791.7,368.5 791.7,369.9 791.7,371.2 791.7,372.6 791.7,374.0 791.7,375.3 791.7,376.7 791.7,378.1 791.7,379.4 791.7,380.8 791.7,382.2 791.7,383.5 791.7,384.9 791.7,386.3 791.7,387.6 791.7,389.0 791.7,390.4 791.7,391.7 791.7,393.1 791.7,394.5 791.7,395.8 791.7,397.2ZM872.3,332.3 870.8,332.2 869.4,332.1 868.0,332.0 866.6,331.8 865.2,331.6 863.8,331.4 862.4,331.2 861.0,331.0 859.5,330.8 858.1,330.5 856.8,330.2 855.3,329.9 853.9,329.6 852.5,329.3 851.1,328.9 849.6,328.5 848.6,328.2 846.8,327.6 845.4,327.2 844.4,326.8 842.6,326.2 841.2,325.6 839.8,325.0 838.3,324.4 836.9,323.7 835.5,323.0 834.1,322.2 832.7,321.4 831.6,320.7 830.6,320.0 829.9,319.5 828.7,318.6 827.9,317.9 827.1,317.3 826.3,316.6 825.7,315.9 825.0,315.2 824.4,314.5 823.9,313.8 822.9,312.5 822.1,311.1 821.5,309.7 821.1,308.4 820.8,307.0 820.7,305.6 820.7,304.3 821.0,302.9 821.4,301.5 822.0,300.2 822.8,298.8 823.8,297.4 824.4,296.8 825.1,296.1 825.8,295.4 826.6,294.7 827.5,294.0 828.4,293.3 829.5,292.7 830.7,292.0 831.9,291.3 833.3,290.6 834.9,289.9 836.6,289.2 838.3,288.6 839.8,288.2 840.7,287.9 842.6,287.4 844.0,287.0 845.4,286.7 846.8,286.4 848.2,286.1 849.6,285.9 851.1,285.7 852.5,285.5 853.9,285.3 855.3,285.2 856.7,285.0 858.1,284.9 859.5,284.9 861.0,284.8 862.4,284.7 863.8,284.7 865.2,284.7 866.6,284.7 868.0,284.7 869.4,284.8 870.8,284.8 872.3,284.9 873.7,285.0 875.1,285.1 876.5,285.3 877.9,285.4 879.3,285.6 880.7,285.8 882.2,286.0 883.6,286.2 885.0,286.4 886.4,286.7 887.8,287.0 888.8,287.2 890.6,287.6 891.8,287.9 893.5,288.3 894.9,288.7 896.3,289.1 897.7,289.6 898.8,289.9 900.5,290.5 901.9,291.1 903.4,291.6 904.8,292.2 905.7,292.7 907.2,293.3 908.6,294.0 909.8,294.7 911.0,295.4 911.8,295.9 913.2,296.8 914.2,297.4 915.2,298.1 916.1,298.8 916.9,299.5 917.7,300.2 918.4,300.9 919.1,301.5 919.7,302.2 920.3,302.9 920.9,303.6 921.7,304.8 922.3,305.6 923.0,307.0 923.5,308.4 923.9,309.7 924.2,311.1 924.2,312.5 924.1,313.8 923.8,315.2 923.3,316.6 922.7,317.9 921.8,319.3 921.3,320.0 920.7,320.7 920.0,321.4 919.3,322.0 918.5,322.7 917.6,323.4 916.6,324.1 915.6,324.8 914.7,325.3 913.2,326.1 911.8,326.7 910.4,327.4 909.0,327.9 907.6,328.4 906.3,328.9 904.8,329.3 903.4,329.7 901.9,330.1 900.5,330.4 899.1,330.7 897.7,331.0 896.3,331.3 894.9,331.5 893.5,331.7 892.0,331.9 890.6,332.0 889.2,332.1 887.8,332.3 886.4,332.4 885.0,332.4 883.6,332.5 882.2,332.5 880.7,332.6 879.3,332.6 877.9,332.5 876.5,332.5 875.1,332.5 873.7,332.4 872.3,332.3Z" fill="#82a6fb" fill-rule="evenodd"/>
<path d="M791.7,397.2 793.1,397.2 794.5,397.2 795.9,397.2 797.4,397.2 798.8,397.2 800.2,397.2 801.6,397.2 803.0,397.2 804.4,397.2 805.8,397.2 807.2,397.2 808.7,397.2 810.1,397.2 811.5,397.2 812.9,397.2 814.3,397.2 815.7,397.2 817.1,397.2 818.6,397.2 820.0,397.2 821.4,397.2 822.8,397.2 824.2,397.2 825.6,397.2 827.0,397.2 828.4,397.2 829.9,397.2 831.3,397.2 832.7,397.2 834.1,397.2 835.5,397.2 836.9,397.2 838.3,397.2 839.8,397.2 841.2,397.2 842.6,397.2 844.0,397.2 845.4,397.2 846.8,397.2 848.2,397.2 849.6,397.2 851.1,397.2 852.5,397.2 853.9,397.2 855.3,397.2 856.7,397.2 858.1,397.2 859.5,397.2 861.0,397.2 862.4,397.2 863.8,397.2 865.2,397.2 866.6,397.2 868.0,397.2 869.4,397.2 870.8,397.2 872.3,397.2 873.7,397.2 875.1,397.2 876.5,397.2 877.9,397.2 879.3,397.2 880.7,397.2 882.2,397.2 883.6,397.2 885.0,397.2 886.4,397.2 887.8,397.2 889.2,397.2 890.6,397.2 892.0,397.2 893.5,397.2 894.9,397.2 896.3,397.2 897.7,397.2 899.1,397.2 900.5,397.2 901.9,397.2 903.4,397.2 904.8,397.2 906.2,397.2 907.6,397.2 909.0,397.2 910.4,397.2 911.8,397.2 913.2,397.2 914.7,397.2 916.1,397.2 917.5,397.2 918.9,397.2 920.3,397.2 921.7,397.2 923.1,397.2 924.6,397.2 926.0,397.2 927.4,397.2 928.8,397.2 930.2,397.2 931.6,397.2 933.0,397.2 934.4,397.2 935.9,397.2 937.3,397.2 938.7,397.2 940.1,397.2 941.5,397.2 942.9,397.2 944.3,397.2 945.8,397.2 947.2,397.2 948.6,397.2 950.0,397.2 951.4,397.2 952.8,397.2 954.2,397.2 955.6,397.2 957.1,397.2 958.5,397.2 959.9,397.2 961.3,397.2 962.7,397.2 964.1,397.2 965.5,397.2 967.0,397.2 968.4,397.2 969.8,397.2 971.2,397.2 972.6,397.2 974.0,397.2 975.4,397.2 976.8,397.2 978.3,397.2 979.7,397.2 981.1,397.2 982.5,397.2 983.9,397.2 985.3,397.2 986.7,397.2 988.2,397.2 989.6,397.2 991.0,397.2 992.4,397.2 993.8,397.2 995.2,397.2 996.6,397.2 998.0,397.2 999.5,397.2 1000.9,397.2 1002.3,397.2 1003.7,397.2 1005.1,397.2 1006.5,397.2 1007.9,397.2 1009.4,397.2 1010.8,397.2 1012.2,397.2 1013.6,397.2 1015.0,397.2 1016.4,397.2 1017.8,397.2 1019.2,397.2 1020.7,397.2 1022.1,397.2 1023.5,397.2 1024.9,397.2 1026.3,397.2 1027.7,397.2 1029.1,397.2 1030.6,397.2 1032.0,397.2 1033.4,397.2 1034.8,397.2 1036.2,397.2 1037.6,397.2 1039.0,397.2 1040.4,397.2 1041.9,397.2 1043.3,397.2 1044.7,397.2 1046.1,397.2 1047.5,397.2 1048.9,397.2 1050.3,397.2 1051.8,397.2 1053.2,397.2 1054.6,397.2 1056.0,397.2 1057.4,397.2 1058.8,397.2 1060.2,397.2 1061.6,397.2 1063.1,397.2 1064.5,397.2 1065.9,397.2 1067.3,397.2 1068.7,397.2 1070.1,397.2 1071.5,397.2 1073.0,397.2 1074.4,397.2 1075.8,397.2 1077.2,397.2 1078.6,397.2 1080.0,397.2 1081.4,397.2 1082.8,397.2 1084.3,397.2 1085.7,397.2 1087.1,397.2 1088.5,397.2 1089.9,397.2 1091.3,397.2 1092.7,397.2 1094.2,397.2 1095.6,397.2 1097.0,397.2 1098.4,397.2 1099.8,397.2 1101.2,397.2 1102.6,397.2 1104.0,397.2 1105.5,397.2 1106.9,397.2 1108.3,397.2 1109.7,397.2 1111.1,397.2 1112.5,397.2 1113.9,397.2 1115.4,397.2 1116.8,397.2 1118.2,397.2 1119.6,397.2 1121.0,397.2 1122.4,397.2 1123.8,397.2 1125.2,397.2 1126.7,397.2 1128.1,397.2 1129.5,397.2 1130.9,397.2 1132.3,397.2 1133.7,397.2 1135.1,397.2 1136.6,397.2 1138.0,397.2 1139.4,397.2 1140.8,397.2 1142.2,397.2 1143.6,397.2 1145.0,397.2 1146.4,397.2 1147.9,397.2 1149.3,397.2 1150.7,397.2 1152.1,397.2 1153.5,397.2 1154.9,397.2 1156.3,397.2 1157.8,397.2 1159.2,397.2 1160.6,397.2 1162.0,397.2 1163.4,397.2 1164.8,397.2 1166.2,397.2 1167.6,397.2 1169.1,397.2 1170.5,397.2 1171.9,397.2 1173.3,397.2 1174.7,397.2 1176.1,397.2 1177.5,397.2 1179.0,397.2 1180.4,397.2 1181.8,397.2 1183.2,397.2 1184.6,397.2 1186.0,397.2 1187.4,397.2 1188.8,397.2 1190.3,397.2 1191.7,397.2 1193.1,397.2 1194.5,397.2 1195.9,397.2 1197.3,397.2 1198.7,397.2 1200.2,397.2 1201.6,397.2 1203.0,397.2 1204.4,397.2 1205.8,397.2 1207.2,397.2 1208.6,397.2 1210.0,397.2 1211.5,397.2 1212.9,397.2 1214.3,397.2 1215.7,397.2 1215.7,395.8 1215.7,394.5 1215.7,393.1 1215.7,391.7 1215.7,390.4 1215.7,389.0 1215.7,387.6 1215.7,386.3 1215.7,384.9 1215.7,383.5 1215.7,382.2 1215.7,380.8 1215.7,379.4 1215.7,378.1 1215.7,376.7 1215.7,375.3 1215.7,374.0 1215.7,372.6 1215.7,371.2 1215.7,369.9 1215.7,368.5 1215.7,367.1 1215.7,365.8 1215.7,364.4 1215.7,363.0 1215.7,361.7 1215.7,360.3 1215.7,358.9 1215.7,357.6 1215.7,356.2 1215.7,354.8 1215.7,353.5 1215.7,352.1 1215.7,350.7 1215.7,349.4 1215.7,348.0 1215.7,346.6 1215.7,345.3 1215.7,343.9 1215.7,342.5 1215.7,341.2 1215.7,339.8 1215.7,338.4 1215.7,337.1 1215.7,335.7 1215.7,334.3 1215.7,333.0 1215.7,331.6 1215.7,330.2 1215.7,328.9 1215.7,327.5 1215.7,326.1 1215.7,324.8 1215.7,323.4 1215.7,322.0 1215.7,320.7 1215.7,319.3 1215.7,317.9 1215.7,316.6 1215.7,315.2 1215.7,313.8 1215.7,312.5 1215.7,311.1 1215.7,309.7 1215.7,308.4 1215.7,307.0 1215.7,305.6 1215.7,304.3 1215.7,302.9 1215.7,301.5 1215.7,300.2 1215.7,298.8 1215.7,297.4 1215.7,296.1 1215.7,294.7 1215.7,293.3 1215.7,292.0 1215.7,290.6 1215.7,289.2 1215.7,287.9 1215.7,286.5 1215.7,285.1 1215.7,283.8 1215.7,282.4 1215.7,281.0 1215.7,279.7 1215.7,278.3 1215.7,276.9 1215.7,275.6 1215.7,274.2 1215.7,272.8 1215.7,271.5 1215.7,270.1 1215.7,268.7 1215.7,267.4 1215.7,266.0 1215.7,264.6 1215.7,263.3 1215.7,261.9 1215.7,260.6 1215.7,259.2 1215.7,257.8 1215.7,256.5 1215.7,255.1 1215.7,253.7 1215.7,252.4 1215.7,251.0 1215.7,249.6 1215.7,248.3 1215.7,246.9 1215.7,245.5 1215.7,244.2 1215.7,242.8 1215.7,241.4 1215.7,240.1 1215.7,238.7 1215.7,237.3 1215.7,236.0 1215.7,234.6 1215.7,233.2 1215.7,231.9 1215.7,230.5 1215.7,229.1 1215.7,227.8 1215.7,226.4 1215.7,225.0 1215.7,223.7 1215.7,222.3 1215.7,220.9 1215.7,219.6 1215.7,218.2 1215.7,216.8 1215.7,215.5 1215.7,214.1 1215.7,212.7 1215.7,211.4 1215.7,210.0 1215.7,208.6 1215.7,207.3 1215.7,205.9 1215.7,204.5 1215.7,203.2 1215.7,201.8 1215.7,200.4 1215.7,199.1 1215.7,197.7 1215.7,196.3 1215.7,195.0 1215.7,193.6 1215.7,192.2 1215.7,190.9 1215.7,189.5 1215.7,188.1 1215.7,186.8 1215.7,185.4 1215.7,184.0 1215.7,182.7 1215.7,181.3 1215.7,179.9 1215.7,178.6 1215.7,177.2 1215.7,175.8 1215.7,174.5 1215.7,173.1 1215.7,171.7 1215.7,170.4 1215.7,169.0 1215.7,167.6 1215.7,166.3 1215.7,164.9 1215.7,163.5 1215.7,162.2 1215.7,160.8 1215.7,159.4 1215.7,158.1 1215.7,156.7 1215.7,155.3 1215.7,154.0 1215.7,152.6 1215.7,151.2 1215.7,149.9 1215.7,148.5 1215.7,147.1 1215.7,145.8 1215.7,144.4 1215.7,143.0 1215.7,141.7 1215.7,140.3 1215.7,138.9 1215.7,137.6 1215.7,136.2 1215.7,134.8 1215.7,133.5 1215.7,132.1 1215.7,130.7 1215.7,129.4 1215.7,128.0 1215.7,126.6 1215.7,125.3 1215.7,123.9 1214.3,123.9 1212.9,123.9 1211.5,123.9 1210.0,123.9 1208.6,123.9 1207.2,123.9 1205.8,123.9 1204.4,123.9 1203.0,123.9 1201.6,123.9 1200.2,123.9 1198.7,123.9 1197.3,123.9 1195.9,123.9 1194.5,123.9 1193.1,123.9 1191.7,123.9 1190.3,123.9 1188.8,123.9 1187.4,123.9 1186.0,123.9 1184.6,123.9 1183.2,123.9 1181.8,123.9 1180.4,123.9 1179.0,123.9 1177.5,123.9 1176.1,123.9 1174.7,123.9 1173.3,123.9 1171.9,123.9 1170.5,123.9 1169.1,123.9 1167.6,123.9 1166.2,123.9 1164.8,123.9 1163.4,123.9 1162.0,123.9 1160.6,123.9 1159.2,123.9 1157.8,123.9 1156.3,123.9 1154.9,123.9 1153.5,123.9 1152.1,123.9 1150.7,123.9 1149.3,123.9 1147.9,123.9 1146.4,123.9 1145.0,123.9 1143.6,123.9 1142.2,123.9 1140.8,123.9 1139.4,123.9 1138.0,123.9 1136.6,123.9 1135.1,123.9 1133.7,123.9 1132.3,123.9 1130.9,123.9 1129.5,123.9 1128.1,123.9 1126.7,123.9 1125.2,123.9 1123.8,123.9 1122.4,123.9 1121.0,123.9 1119.6,123.9 1118.2,123.9 1116.8,123.9 1115.4,123.9 1113.9,123.9 1112.5,123.9 1111.1,123.9 1109.7,123.9 1108.3,123.9 1106.9,123.9 1105.5,123.9 1104.0,123.9 1102.6,123.9 1101.2,123.9 1099.8,123.9 1098.4,123.9 1097.0,123.9 1095.6,123.9 1094.2,123.9 1092.7,123.9 1091.3,123.9 1089.9,123.9 1088.5,123.9 1087.1,123.9 1085.7,123.9 1084.3,123.9 1082.8,123.9 1081.4,123.9 1080.0,123.9 1078.6,123.9 1077.2,123.9 1075.8,123.9 1074.4,123.9 1073.0,123.9 1071.5,123.9 1070.1,123.9 1068.7,123.9 1067.3,123.9 1065.9,123.9 1064.5,123.9 1063.1,123.9 1061.6,123.9 1060.2,123.9 1058.8,123.9 1057.4,123.9 1056.0,123.9 1054.6,123.9 1053.2,123.9 1051.8,123.9 1050.3,123.9 1048.9,123.9 1047.5,123.9 1046.1,123.9 1044.7,123.9 1043.3,123.9 1041.9,123.9 1040.4,123.9 1039.0,123.9 1037.6,123.9 1036.2,123.9 1034.8,123.9 1033.4,123.9 1032.0,123.9 1030.6,123.9 1029.1,123.9 1027.7,123.9 1026.3,123.9 1024.9,123.9 1023.5,123.9 1022.1,123.9 1020.7,123.9 1019.2,123.9 1017.8,123.9 1016.4,123.9 1015.0,123.9 1013.6,123.9 1012.2,123.9 1010.8,123.9 1009.4,123.9 1007.9,123.9 1006.5,123.9 1005.1,123.9 1003.7,123.9 1002.3,123.9 1000.9,123.9 999.5,123.9 998.0,123.9 996.6,123.9 995.2,123.9 993.8,123.9 992.4,123.9 991.0,123.9 989.6,123.9 988.2,123.9 986.7,123.9 985.3,123.9 983.9,123.9 982.5,123.9 981.1,123.9 979.7,123.9 978.3,123.9 976.8,123.9 975.4,123.9 974.0,123.9 972.6,123.9 971.2,123.9 969.8,123.9 968.4,123.9 967.0,123.9 965.5,123.9 964.1,123.9 962.7,123.9 961.3,123.9 959.9,123.9 958.5,123.9 957.1,123.9 955.6,123.9 954.2,123.9 952.8,123.9 951.4,123.9 950.0,123.9 948.6,123.9 947.2,123.9 945.8,123.9 944.3,123.9 942.9,123.9 941.5,123.9 940.1,123.9 938.7,123.9 937.3,123.9 935.9,123.9 934.4,123.9 933.0,123.9 931.6,123.9 930.2,123.9 928.8,123.9 927.4,123.9 926.0,123.9 924.6,123.9 923.1,123.9 921.7,123.9 920.3,123.9 918.9,123.9 917.5,123.9 916.1,123.9 914.7,123.9 913.2,123.9 911.8,123.9 910.4,123.9 909.0,123.9 907.6,123.9 906.2,123.9 904.8,123.9 903.4,123.9 901.9,123.9 900.5,123.9 899.1,123.9 897.7,123.9 896.3,123.9 894.9,123.9 893.5,123.9 892.0,123.9 890.6,123.9 889.2,123.9 887.8,123.9 886.4,123.9 885.0,123.9 883.6,123.9 882.2,123.9 880.7,123.9 879.3,123.9 877.9,123.9 876.5,123.9 875.1,123.9 873.7,123.9 872.3,123.9 870.8,123.9 869.4,123.9 868.0,123.9 866.6,123.9 865.2,123.9 863.8,123.9 862.4,123.9 861.0,123.9 859.5,123.9 858.1,123.9 856.7,123.9 855.3,123.9 853.9,123.9 852.5,123.9 851.1,123.9 849.6,123.9 848.2,123.9 846.8,123.9 845.4,123.9 844.0,123.9 842.6,123.9 841.2,123.9 839.8,123.9 838.3,123.9 836.9,123.9 835.5,123.9 834.1,123.9 832.7,123.9 831.3,123.9 829.9,123.9 828.4,123.9 827.0,123.9 825.6,123.9 824.2,123.9 822.8,123.9 821.4,123.9 820.0,123.9 818.6,123.9 817.1,123.9 815.7,123.9 814.3,123.9 812.9,123.9 811.5,123.9 810.1,123.9 808.7,123.9 807.2,123.9 805.8,123.9 804.4,123.9 803.0,123.9 801.6,123.9 800.2,123.9 798.8,123.9 797.4,123.9 795.9,123.9 794.5,123.9 793.1,123.9 791.7,123.9 791.7,125.3 791.7,126.6 791.7,128.0 791.7,129.4 791.7,130.7 791.7,132.1 791.7,133.5 791.7,134.8 791.7,136.2 791.7,137.6 791.7,138.9 791.7,140.3 791.7,141.7 791.7,143.0 791.7,144.4 791.7,145.8 791.7,147.1 791.7,148.5 791.7,149.9 791.7,151.2 791.7,152.6 791.7,154.0 791.7,155.3 791.7,156.7 791.7,158.1 791.7,159.4 791.7,160.8 791.7,162.2 791.7,163.5 791.7,164.9 791.7,166.3 791.7,167.6 791.7,169.0 791.7,170.4 791.7,171.7 791.7,173.1 791.7,174.5 791.7,175.8 791.7,177.2 791.7,178.6 791.7,179.9 791.7,181.3 791.7,182.7 791.7,184.0 791.7,185.4 791.7,186.8 791.7,188.1 791.7,189.5 791.7,190.9 791.7,192.2 791.7,193.6 791.7,195.0 791.7,196.3 791.7,197.7 791.7,199.1 791.7,200.4 791.7,201.8 791.7,203.2 791.7,204.5 791.7,205.9 791.7,207.3 791.7,208.6 791.7,210.0 791.7,211.4 791.7,212.7 791.7,214.1 791.7,215.5 791.7,216.8 791.7,218.2 791.7,219.6 791.7,220.9 791.7,222.3 791.7,223.7 791.7,225.0 791.7,226.4 791.7,227.8 791.7,229.1 791.7,230.5 791.7,231.9 791.7,233.2 791.7,234.6 791.7,236.0 791.7,237.3 791.7,238.7 791.7,240.1 791.7,241.4 791.7,242.8 791.7,244.2 791.7,245.5 791.7,246.9 791.7,248.3 791.7,249.6 791.7,251.0 791.7,252.4 791.7,253.7 791.7,255.1 791.7,256.5 791.7,257.8 791.7,259.2 791.7,260.6 791.7,261.9 791.7,263.3 791.7,264.6 791.7,266.0 791.7,267.4 791.7,268.7 791.7,270.1 791.7,271.5 791.7,272.8 791.7,274.2 791.7,275.6 791.7,276.9 791.7,278.3 791.7,279.7 791.7,281.0 791.7,282.4 791.7,283.8 791.7,285.1 791.7,286.5 791.7,287.9 791.7,289.2 791.7,290.6 791.7,292.0 791.7,293.3 791.7,294.7 791.7,296.1 791.7,297.4 791.7,298.8 791.7,300.2 791.7,301.5 791.7,302.9 791.7,304.3 791.7,305.6 791.7,307.0 791.7,308.4 791.7,309.7 791.7,311.1 791.7,312.5 791.7,313.8 791.7,315.2 791.7,316.6 791.7,317.9 791.7,319.3 791.7,320.7 791.7,322.0 791.7,323.4 791.7,324.8 791.7,326.1 791.7,327.5 791.7,328.9 791.7,330.2 791.7,331.6 791.7,333.0 791.7,334.3 791.7,335.7 791.7,337.1 791.7,338.4 791.7,339.8 791.7,341.2 791.7,342.5 791.7,343.9 791.7,345.3 791.7,346.6 791.7,348.0 791.7,349.4 791.7,350.7 791.7,352.1 791.7,353.5 791.7,354.8 791.7,356.2 791.7,357.6 791.7,358.9 791.7,360.3 791.7,361.7 791.7,363.0 791.7,364.4 791.7,365.8 791.7,367.1 791.7,368.5 791.7,369.9 791.7,371.2 791.7,372.6 791.7,374.0 791.7,375.3 791.7,376.7 791.7,378.1 791.7,379.4 791.7,380.8 791.7,382.2 791.7,383.5 791.7,384.9 791.7,386.3 791.7,387.6 791.7,389.0 791.7,390.4 791.7,391.7 791.7,393.1 791.7,394.5 791.7,395.8 791.7,397.2ZM866.6,342.6 865.2,342.5 863.8,342.4 862.4,342.2 861.0,342.1 859.5,341.9 858.1,341.7 856.7,341.5 855.3,341.3 853.9,341.1 852.5,340.8 851.1,340.6 849.6,340.3 848.2,340.0 846.8,339.7 845.4,339.4 844.3,339.1 842.6,338.7 841.5,338.4 839.8,338.0 838.3,337.6 836.9,337.2 835.5,336.7 834.5,336.4 832.7,335.8 831.3,335.3 829.9,334.8 828.8,334.3 827.0,333.7 825.6,333.1 824.2,332.4 822.8,331.8 821.4,331.1 820.0,330.4 818.6,329.6 817.3,328.9 816.1,328.2 815.0,327.5 814.0,326.8 813.0,326.1 812.0,325.5 811.1,324.8 810.3,324.1 809.4,323.4 808.7,322.7 807.9,322.0 807.2,321.4 806.5,320.7 805.9,320.0 805.3,319.3 804.7,318.6 804.2,317.9 803.3,316.6 802.4,315.2 801.8,313.8 801.2,312.5 800.8,311.1 800.4,309.7 800.3,308.4 800.2,307.0 800.3,305.6 800.5,304.3 800.9,302.9 801.4,301.5 802.0,300.2 802.8,298.8 803.8,297.4 804.4,296.8 805.0,296.1 805.6,295.4 806.3,294.7 807.1,294.0 807.9,293.3 808.7,292.7 809.7,292.0 810.7,291.3 811.5,290.8 812.9,289.9 814.2,289.2 815.5,288.6 816.9,287.9 818.5,287.2 820.0,286.6 821.4,286.1 822.8,285.6 824.0,285.1 825.6,284.6 827.0,284.2 828.4,283.8 829.9,283.5 831.3,283.1 832.7,282.8 834.1,282.5 835.5,282.2 836.9,282.0 838.3,281.8 839.8,281.5 841.2,281.3 842.6,281.2 844.0,281.0 845.4,280.8 846.8,280.7 848.2,280.6 849.6,280.5 851.1,280.4 852.5,280.3 853.9,280.3 855.3,280.2 856.7,280.2 858.1,280.2 859.5,280.2 861.0,280.2 862.4,280.2 863.8,280.2 865.2,280.3 866.6,280.3 868.0,280.4 869.4,280.5 870.8,280.6 872.3,280.7 873.7,280.9 875.1,281.0 876.5,281.2 877.9,281.3 879.3,281.5 880.7,281.7 882.2,281.9 883.6,282.2 885.0,282.4 886.4,282.7 887.8,282.9 889.2,283.2 890.6,283.5 891.7,283.8 893.5,284.2 894.5,284.5 896.3,284.9 897.7,285.3 899.1,285.7 900.5,286.2 901.6,286.5 903.4,287.1 904.8,287.6 906.2,288.1 907.3,288.6 909.0,289.2 910.4,289.8 911.8,290.5 913.2,291.1 914.7,291.8 916.1,292.6 917.5,293.3 918.7,294.0 919.8,294.7 920.9,295.4 921.7,295.9 922.9,296.8 923.9,297.4 924.8,298.1 925.6,298.8 926.4,299.5 927.2,300.2 928.0,300.9 928.7,301.5 929.3,302.2 930.0,302.9 930.6,303.6 931.1,304.3 931.7,305.0 932.6,306.3 933.5,307.7 934.2,309.1 934.9,310.4 935.4,311.8 935.7,313.2 936.0,314.5 936.2,315.9 936.2,317.3 936.1,318.6 935.9,320.0 935.5,321.4 935.0,322.7 934.4,323.9 934.0,324.8 933.1,326.1 932.0,327.5 931.4,328.2 930.7,328.9 930.0,329.6 929.2,330.2 928.4,330.9 927.5,331.6 926.5,332.3 925.5,333.0 924.6,333.5 923.1,334.3 921.8,335.0 920.4,335.7 918.9,336.4 917.5,336.9 916.1,337.5 914.7,338.0 913.2,338.4 911.8,338.9 910.4,339.3 909.0,339.7 907.6,340.0 906.2,340.3 904.8,340.6 903.4,340.9 902.0,341.2 900.5,341.4 899.1,341.7 897.7,341.9 896.3,342.0 894.9,342.2 893.5,342.4 892.0,342.5 890.6,342.6 889.2,342.7 887.8,342.8 886.4,342.9 885.0,343.0 883.6,343.0 882.2,343.1 880.7,343.1 879.3,343.1 877.9,343.1 876.5,343.1 875.1,343.1 873.7,343.0 872.3,343.0 870.8,342.9 869.4,342.8 868.0,342.7 866.6,342.6Z" fill="#c1d4f4" fill-rule="evenodd"/>
<path d="M791.7,397.2 793.1,397.2 794.5,397.2 795.9,397.2 797.4,397.2 798.8,397.2 800.2,397.2 801.6,397.2 803.0,397.2 804.4,397.2 805.8,397.2 807.2,397.2 808.7,397.2 810.1,397.2 811.5,397.2 812.9,397.2 814.3,397.2 815.7,397.2 817.1,397.2 818.6,397.2 820.0,397.2 821.4,397.2 822.8,397.2 824.2,397.2 825.6,397.2 827.0,397.2 828.4,397.2 829.9,397.2 831.3,397.2 832.7,397.2 834.1,397.2 835.5,397.2 836.9,397.2 838.3,397.2 839.8,397.2 841.2,397.2 842.6,397.2 844.0,397.2 845.4,397.2 846.8,397.2 848.2,397.2 849.6,397.2 851.1,397.2 852.5,397.2 853.9,397.2 855.3,397.2 856.7,397.2 858.1,397.2 859.5,397.2 861.0,397.2 862.4,397.2 863.8,397.2 865.2,397.2 866.6,397.2 868.0,397.2 869.4,397.2 870.8,397.2 872.3,397.2 873.7,397.2 875.1,397.2 876.5,397.2 877.9,397.2 879.3,397.2 880.7,397.2 882.2,397.2 883.6,397.2 885.0,397.2 886.4,397.2 887.8,397.2 889.2,397.2 890.6,397.2 892.0,397.2 893.5,397.2 894.9,397.2 896.3,397.2 897.7,397.2 899.1,397.2 900.5,397.2 901.9,397.2 903.4,397.2 904.8,397.2 906.2,397.2 907.6,397.2 909.0,397.2 910.4,397.2 911.8,397.2 913.2,397.2 914.7,397.2 916.1,397.2 917.5,397.2 918.9,397.2 920.3,397.2 921.7,397.2 923.1,397.2 924.6,397.2 926.0,397.2 927.4,397.2 928.8,397.2 930.2,397.2 931.6,397.2 933.0,397.2 934.4,397.2 935.9,397.2 937.3,397.2 938.7,397.2 940.1,397.2 941.5,397.2 942.9,397.2 944.3,397.2 945.8,397.2 947.2,397.2 948.6,397.2 950.0,397.2 951.4,397.2 952.8,397.2 954.2,397.2 955.6,397.2 957.1,397.2 958.5,397.2 959.9,397.2 961.3,397.2 962.7,397.2 964.1,397.2 965.5,397.2 967.0,397.2 968.4,397.2 969.8,397.2 971.2,397.2 972.6,397.2 974.0,397.2 975.4,397.2 976.8,397.2 978.3,397.2 979.7,397.2 981.1,397.2 982.5,397.2 983.9,397.2 985.3,397.2 986.7,397.2 988.2,397.2 989.6,397.2 991.0,397.2 992.4,397.2 993.8,397.2 995.2,397.2 996.6,397.2 998.0,397.2 999.5,397.2 1000.9,397.2 1002.3,397.2 1003.7,397.2 1005.1,397.2 1006.5,397.2 1007.9,397.2 1009.4,397.2 1010.8,397.2 1012.2,397.2 1013.6,397.2 1015.0,397.2 1016.4,397.2 1017.8,397.2 1019.2,397.2 1020.7,397.2 1022.1,397.2 1023.5,397.2 1024.9,397.2 1026.3,397.2 1027.7,397.2 1029.1,397.2 1030.6,397.2 1032.0,397.2 1033.4,397.2 1034.8,397.2 1036.2,397.2 1037.6,397.2 1039.0,397.2 1040.4,397.2 1041.9,397.2 1043.3,397.2 1044.7,397.2 1046.1,397.2 1047.5,397.2 1048.9,397.2 1050.3,397.2 1051.8,397.2 1053.2,397.2 1054.6,397.2 1056.0,397.2 1057.4,397.2 1058.8,397.2 1060.2,397.2 1061.6,397.2 1063.1,397.2 1064.5,397.2 1065.9,397.2 1067.3,397.2 1068.7,397.2 1070.1,397.2 1071.5,397.2 1073.0,397.2 1074.4,397.2 1075.8,397.2 1077.2,397.2 1078.6,397.2 1080.0,397.2 1081.4,397.2 1082.8,397.2 1084.3,397.2 1085.7,397.2 1087.1,397.2 1088.5,397.2 1089.9,397.2 1091.3,397.2 1092.7,397.2 1094.2,397.2 1095.6,397.2 1097.0,397.2 1098.4,397.2 1099.8,397.2 1101.2,397.2 1102.6,397.2 1104.0,397.2 1105.5,397.2 1106.9,397.2 1108.3,397.2 1109.7,397.2 1111.1,397.2 1112.5,397.2 1113.9,397.2 1115.4,397.2 1116.8,397.2 1118.2,397.2 1119.6,397.2 1121.0,397.2 1122.4,397.2 1123.8,397.2 1125.2,397.2 1126.7,397.2 1128.1,397.2 1129.5,397.2 1130.9,397.2 1132.3,397.2 1133.7,397.2 1135.1,397.2 1136.6,397.2 1138.0,397.2 1139.4,397.2 1140.8,397.2 1142.2,397.2 1143.6,397.2 1145.0,397.2 1146.4,397.2 1147.9,397.2 1149.3,397.2 1150.7,397.2 1152.1,397.2 1153.5,397.2 1154.9,397.2 1156.3,397.2 1157.8,397.2 1159.2,397.2 1160.6,397.2 1162.0,397.2 1163.4,397.2 1164.8,397.2 1166.2,397.2 1167.6,397.2 1169.1,397.2 1170.5,397.2 1171.9,397.2 1173.3,397.2 1174.7,397.2 1176.1,397.2 1177.5,397.2 1179.0,397.2 1180.4,397.2 1181.8,397.2 1183.2,397.2 1184.6,397.2 1186.0,397.2 1187.4,397.2 1188.8,397.2 1190.3,397.2 1191.7,397.2 1193.1,397.2 1194.5,397.2 1195.9,397.2 1197.3,397.2 1198.7,397.2 1200.2,397.2 1201.6,397.2 1203.0,397.2 1204.4,397.2 1205.8,397.2 1207.2,397.2 1208.6,397.2 1210.0,397.2 1211.5,397.2 1212.9,397.2 1214.3,397.2 1215.7,397.2 1215.7,395.8 1215.7,394.5 1215.7,393.1 1215.7,391.7 1215.7,390.4 1215.7,389.0 1215.7,387.6 1215.7,386.3 1215.7,384.9 1215.7,383.5 1215.7,382.2 1215.7,380.8 1215.7,379.4 1215.7,378.1 1215.7,376.7 1215.7,375.3 1215.7,374.0 1215.7,372.6 1215.7,371.2 1215.7,369.9 1215.7,368.5 1215.7,367.1 1215.7,365.8 1215.7,364.4 1215.7,363.0 1215.7,361.7 1215.7,360.3 1215.7,358.9 1215.7,357.6 1215.7,356.2 1215.7,354.8 1215.7,353.5 1215.7,352.1 1215.7,350.7 1215.7,349.4 1215.7,348.0 1215.7,346.6 1215.7,345.3 1215.7,343.9 1215.7,342.5 1215.7,341.2 1215.7,339.8 1215.7,338.4 1215.7,337.1 1215.7,335.7 1215.7,334.3 1215.7,333.0 1215.7,331.6 1215.7,330.2 1215.7,328.9 1215.7,327.5 1215.7,326.1 1215.7,324.8 1215.7,323.4 1215.7,322.0 1215.7,320.7 1215.7,319.3 1215.7,317.9 1215.7,316.6 1215.7,315.2 1215.7,313.8 1215.7,312.5 1215.7,311.1 1215.7,309.7 1215.7,308.4 1215.7,307.0 1215.7,305.6 1215.7,304.3 1215.7,302.9 1215.7,301.5 1215.7,300.2 1215.7,298.8 1215.7,297.4 1215.7,296.1 1215.7,294.7 1215.7,293.3 1215.7,292.0 1215.7,290.6 1215.7,289.2 1215.7,287.9 1215.7,286.5 1215.7,285.1 1215.7,283.8 1215.7,282.4 1215.7,281.0 1215.7,279.7 1215.7,278.3 1215.7,276.9 1215.7,275.6 1215.7,274.2 1215.7,272.8 1215.7,271.5 1215.7,270.1 1215.7,268.7 1215.7,267.4 1215.7,266.0 1215.7,264.6 1215.7,263.3 1215.7,261.9 1215.7,260.6 1215.7,259.2 1215.7,257.8 1215.7,256.5 1215.7,255.1 1215.7,253.7 1215.7,252.4 1215.7,251.0 1215.7,249.6 1215.7,248.3 1215.7,246.9 1215.7,245.5 1215.7,244.2 1215.7,242.8 1215.7,241.4 1215.7,240.1 1215.7,238.7 1215.7,237.3 1215.7,236.0 1215.7,234.6 1215.7,233.2 1215.7,231.9 1215.7,230.5 1215.7,229.1 1215.7,227.8 1215.7,226.4 1215.7,225.0 1215.7,223.7 1215.7,222.3 1215.7,220.9 1215.7,219.6 1215.7,218.2 1215.7,216.8 1215.7,215.5 1215.7,214.1 1215.7,212.7 1215.7,211.4 1215.7,210.0 1215.7,208.6 1215.7,207.3 1215.7,205.9 1215.7,204.5 1215.7,203.2 1215.7,201.8 1215.7,200.4 1215.7,199.1 1215.7,197.7 1215.7,196.3 1215.7,195.0 1215.7,193.6 1215.7,192.2 1215.7,190.9 1215.7,189.5 1215.7,188.1 1215.7,186.8 1215.7,185.4 1215.7,184.0 1215.7,182.7 1215.7,181.3 1215.7,179.9 1215.7,178.6 1215.7,177.2 1215.7,175.8 1215.7,174.5 1215.7,173.1 1215.7,171.7 1215.7,170.4 1215.7,169.0 1215.7,167.6 1215.7,166.3 1215.7,164.9 1215.7,163.5 1215.7,162.2 1215.7,160.8 1215.7,159.4 1215.7,158.1 1215.7,156.7 1215.7,155.3 1215.7,154.0 1215.7,152.6 1215.7,151.2 1215.7,149.9 1215.7,148.5 1215.7,147.1 1215.7,145.8 1215.7,144.4 1215.7,143.0 1215.7,141.7 1215.7,140.3 1215.7,138.9 1215.7,137.6 1215.7,136.2 1215.7,134.8 1215.7,133.5 1215.7,132.1 1215.7,130.7 1215.7,129.4 1215.7,128.0 1215.7,126.6 1215.7,125.3 1215.7,123.9 1214.3,123.9 1212.9,123.9 1211.5,123.9 1210.0,123.9 1208.6,123.9 1207.2,123.9 1205.8,123.9 1204.4,123.9 1203.0,123.9 1201.6,123.9 1200.2,123.9 1198.7,123.9 1197.3,123.9 1195.9,123.9 1194.5,123.9 1193.1,123.9 1191.7,123.9 1190.3,123.9 1188.8,123.9 1187.4,123.9 1186.0,123.9 1184.6,123.9 1183.2,123.9 1181.8,123.9 1180.4,123.9 1179.0,123.9 1177.5,123.9 1176.1,123.9 1174.7,123.9 1173.3,123.9 1171.9,123.9 1170.5,123.9 1169.1,123.9 1167.6,123.9 1166.2,123.9 1164.8,123.9 1163.4,123.9 1162.0,123.9 1160.6,123.9 1159.2,123.9 1157.8,123.9 1156.3,123.9 1154.9,123.9 1153.5,123.9 1152.1,123.9 1150.7,123.9 1149.3,123.9 1147.9,123.9 1146.4,123.9 1145.0,123.9 1143.6,123.9 1142.2,123.9 1140.8,123.9 1139.4,123.9 1138.0,123.9 1136.6,123.9 1135.1,123.9 1133.7,123.9 1132.3,123.9 1130.9,123.9 1129.5,123.9 1128.1,123.9 1126.7,123.9 1125.2,123.9 1123.8,123.9 1122.4,123.9 1121.0,123.9 1119.6,123.9 1118.2,123.9 1116.8,123.9 1115.4,123.9 1113.9,123.9 1112.5,123.9 1111.1,123.9 1109.7,123.9 1108.3,123.9 1106.9,123.9 1105.5,123.9 1104.0,123.9 1102.6,123.9 1101.2,123.9 1099.8,123.9 1098.4,123.9 1097.0,123.9 1095.6,123.9 1094.2,123.9 1092.7,123.9 1091.3,123.9 1089.9,123.9 1088.5,123.9 1087.1,123.9 1085.7,123.9 1084.3,123.9 1082.8,123.9 1081.4,123.9 1080.0,123.9 1078.6,123.9 1077.2,123.9 1075.8,123.9 1074.4,123.9 1073.0,123.9 1071.5,123.9 1070.1,123.9 1068.7,123.9 1067.3,123.9 1065.9,123.9 1064.5,123.9 1063.1,123.9 1061.6,123.9 1060.2,123.9 1058.8,123.9 1057.4,123.9 1056.0,123.9 1054.6,123.9 1053.2,123.9 1051.8,123.9 1050.3,123.9 1048.9,123.9 1047.5,123.9 1046.1,123.9 1044.7,123.9 1043.3,123.9 1041.9,123.9 1040.4,123.9 1039.0,123.9 1037.6,123.9 1036.2,123.9 1034.8,123.9 1033.4,123.9 1032.0,123.9 1030.6,123.9 1029.1,123.9 1027.7,123.9 1026.3,123.9 1024.9,123.9 1023.5,123.9 1022.1,123.9 1020.7,123.9 1019.2,123.9 1017.8,123.9 1016.4,123.9 1015.0,123.9 1013.6,123.9 1012.2,123.9 1010.8,123.9 1009.4,123.9 1007.9,123.9 1006.5,123.9 1005.1,123.9 1003.7,123.9 1002.3,123.9 1000.9,123.9 999.5,123.9 998.0,123.9 996.6,123.9 995.2,123.9 993.8,123.9 992.4,123.9 991.0,123.9 989.6,123.9 988.2,123.9 986.7,123.9 985.3,123.9 983.9,123.9 982.5,123.9 981.1,123.9 979.7,123.9 978.3,123.9 976.8,123.9 975.4,123.9 974.0,123.9 972.6,123.9 971.2,123.9 969.8,123.9 968.4,123.9 967.0,123.9 965.5,123.9 964.1,123.9 962.7,123.9 961.3,123.9 959.9,123.9 958.5,123.9 957.1,123.9 955.6,123.9 954.2,123.9 952.8,123.9 951.4,123.9 950.0,123.9 948.6,123.9 947.2,123.9 945.8,123.9 944.3,123.9 942.9,123.9 941.5,123.9 940.1,123.9 938.7,123.9 937.3,123.9 935.9,123.9 934.4,123.9 933.0,123.9 931.6,123.9 930.2,123.9 928.8,123.9 927.4,123.9 926.0,123.9 924.6,123.9 923.1,123.9 921.7,123.9 920.3,123.9 918.9,123.9 917.5,123.9 916.1,123.9 914.7,123.9 913.2,123.9 911.8,123.9 910.4,123.9 909.0,123.9 907.6,123.9 906.2,123.9 904.8,123.9 903.4,123.9 901.9,123.9 900.5,123.9 899.1,123.9 897.7,123.9 896.3,123.9 894.9,123.9 893.5,123.9 892.0,123.9 890.6,123.9 889.2,123.9 887.8,123.9 886.4,123.9 885.0,123.9 883.6,123.9 882.2,123.9 880.7,123.9 879.3,123.9 877.9,123.9 876.5,123.9 875.1,123.9 873.7,123.9 872.3,123.9 870.8,123.9 869.4,123.9 868.0,123.9 866.6,123.9 865.2,123.9 863.8,123.9 862.4,123.9 861.0,123.9 859.5,123.9 858.1,123.9 856.7,123.9 855.3,123.9 853.9,123.9 852.5,123.9 851.1,123.9 849.6,123.9 848.2,123.9 846.8,123.9 845.4,123.9 844.0,123.9 842.6,123.9 841.2,123.9 839.8,123.9 838.3,123.9 836.9,123.9 835.5,123.9 834.1,123.9 832.7,123.9 831.3,123.9 829.9,123.9 828.4,123.9 827.0,123.9 825.6,123.9 824.2,123.9 822.8,123.9 821.4,123.9 820.0,123.9 818.6,123.9 817.1,123.9 815.7,123.9 814.3,123.9 812.9,123.9 811.5,123.9 810.1,123.9 808.7,123.9 807.2,123.9 805.8,123.9 804.4,123.9 803.0,123.9 801.6,123.9 800.2,123.9 798.8,123.9 797.4,123.9 795.9,123.9 794.5,123.9 793.1,123.9 791.7,123.9 791.7,125.3 791.7,126.6 791.7,128.0 791.7,129.4 791.7,130.7 791.7,132.1 791.7,133.5 791.7,134.8 791.7,136.2 791.7,137.6 791.7,138.9 791.7,140.3 791.7,141.7 791.7,143.0 791.7,144.4 791.7,145.8 791.7,147.1 791.7,148.5 791.7,149.9 791.7,151.2 791.7,152.6 791.7,154.0 791.7,155.3 791.7,156.7 791.7,158.1 791.7,159.4 791.7,160.8 791.7,162.2 791.7,163.5 791.7,164.9 791.7,166.3 791.7,167.6 791.7,169.0 791.7,170.4 791.7,171.7 791.7,173.1 791.7,174.5 791.7,175.8 791.7,177.2 791.7,178.6 791.7,179.9 791.7,181.3 791.7,182.7 791.7,184.0 791.7,185.4 791.7,186.8 791.7,188.1 791.7,189.5 791.7,190.9 791.7,192.2 791.7,193.6 791.7,195.0 791.7,196.3 791.7,197.7 791.7,199.1 791.7,200.4 791.7,201.8 791.7,203.2 791.7,204.5 791.7,205.9 791.7,207.3 791.7,208.6 791.7,210.0 791.7,211.4 791.7,212.7 791.7,214.1 791.7,215.5 791.7,216.8 791.7,218.2 791.7,219.6 791.7,220.9 791.7,222.3 791.7,223.7 791.7,225.0 791.7,226.4 791.7,227.8 791.7,229.1 791.7,230.5 791.7,231.9 791.7,233.2 791.7,234.6 791.7,236.0 791.7,237.3 791.7,238.7 791.7,240.1 791.7,241.4 791.7,242.8 791.7,244.2 791.7,245.5 791.7,246.9 791.7,248.3 791.7,249.6 791.7,251.0 791.7,252.4 791.7,253.7 791.7,255.1 791.7,256.5 791.7,257.8 791.7,259.2 791.7,260.6 791.7,261.9 791.7,263.3 791.7,264.6 791.7,266.0 791.7,267.4 791.7,268.7 791.7,270.1 791.7,271.5 791.7,272.8 791.7,274.2 791.7,275.6 791.7,276.9 791.7,278.3 791.7,279.7 791.7,281.0 791.7,282.4 791.7,283.8 793.1,283.7 794.5,283.2 795.9,282.8 797.4,282.4 798.8,282.0 799.9,281.7 801.6,281.3 803.0,280.9 804.4,280.6 805.4,280.4 807.2,280.0 808.6,279.7 810.1,279.4 811.5,279.1 812.9,278.8 814.3,278.6 815.7,278.3 817.1,278.1 818.6,277.9 820.0,277.7 821.4,277.5 822.8,277.3 824.2,277.1 825.5,276.9 827.0,276.8 828.4,276.6 829.9,276.5 831.3,276.4 832.4,276.3 834.1,276.1 835.5,276.0 836.9,275.9 838.3,275.9 839.8,275.8 841.2,275.7 842.6,275.7 844.0,275.6 845.4,275.6 846.8,275.6 848.2,275.6 849.6,275.6 851.1,275.6 852.5,275.6 853.9,275.6 855.3,275.7 856.7,275.7 858.1,275.8 859.5,275.8 861.0,275.9 862.4,276.0 863.8,276.1 865.2,276.2 866.6,276.3 868.0,276.4 869.4,276.6 870.8,276.7 872.3,276.9 873.7,277.0 875.1,277.2 876.5,277.4 877.9,277.6 879.3,277.8 880.7,278.0 882.2,278.2 883.6,278.5 885.0,278.7 886.4,279.0 887.8,279.3 889.2,279.6 890.6,279.9 892.0,280.2 893.5,280.5 894.9,280.9 896.3,281.2 897.7,281.6 899.1,282.0 900.5,282.4 901.9,282.8 902.9,283.1 904.8,283.7 906.2,284.1 907.1,284.5 909.0,285.1 910.4,285.6 911.8,286.2 913.2,286.8 914.3,287.2 915.9,287.9 917.4,288.6 918.9,289.2 920.3,289.9 921.7,290.6 923.0,291.3 924.2,292.0 925.4,292.7 926.6,293.3 927.4,293.8 928.8,294.7 929.8,295.4 930.8,296.1 931.6,296.6 932.7,297.4 933.6,298.1 934.4,298.8 935.3,299.5 936.1,300.2 936.9,300.9 937.7,301.5 938.4,302.2 939.1,302.9 939.8,303.6 940.4,304.3 941.1,305.0 941.7,305.6 942.2,306.3 942.8,307.0 943.3,307.7 943.9,308.4 944.8,309.7 945.7,311.1 946.6,312.5 947.2,313.6 947.7,314.5 948.3,315.9 948.9,317.3 949.4,318.6 949.9,320.0 950.2,321.4 950.6,322.7 950.8,324.1 951.0,325.5 951.2,326.8 951.3,328.2 951.3,329.6 951.2,330.9 951.2,332.3 951.0,333.7 950.8,335.0 950.5,336.4 950.2,337.8 949.8,339.1 949.3,340.5 948.8,341.9 948.2,343.2 947.5,344.6 946.8,346.0 946.0,347.3 945.1,348.7 944.3,349.8 943.6,350.7 943.1,351.4 942.5,352.1 942.0,352.8 941.4,353.5 940.7,354.2 940.1,354.8 939.4,355.5 938.7,356.2 938.0,356.9 937.3,357.6 936.5,358.3 935.7,358.9 934.9,359.6 934.0,360.3 933.1,361.0 932.2,361.7 931.2,362.4 930.2,363.0 929.2,363.7 928.1,364.4 927.4,364.9 926.0,365.7 924.7,366.5 923.4,367.1 922.2,367.8 920.8,368.5 919.4,369.2 918.0,369.9 916.4,370.6 914.9,371.2 913.2,371.9 911.8,372.5 910.4,373.0 909.0,373.5 907.7,374.0 906.2,374.5 904.8,375.0 903.6,375.3 901.9,375.8 900.5,376.3 899.1,376.7 897.7,377.0 896.4,377.4 894.9,377.8 893.6,378.1 892.0,378.4 890.6,378.7 889.2,379.0 887.8,379.3 886.4,379.6 885.0,379.9 883.6,380.1 882.2,380.4 880.7,380.6 879.3,380.8 877.9,381.0 876.5,381.2 875.1,381.4 873.7,381.5 872.3,381.7 870.8,381.9 869.4,382.0 868.0,382.1 866.6,382.3 865.2,382.4 863.8,382.5 862.4,382.6 861.0,382.6 859.5,382.7 858.1,382.8 856.7,382.8 855.3,382.9 853.9,382.9 852.5,382.9 851.1,382.9 849.6,382.9 848.2,382.9 846.8,382.9 845.4,382.9 844.0,382.9 842.6,382.8 841.2,382.8 839.8,382.7 838.3,382.6 836.9,382.6 835.5,382.5 834.1,382.4 832.7,382.2 831.3,382.1 829.9,382.0 828.4,381.9 827.0,381.7 825.6,381.5 824.2,381.4 822.8,381.2 821.4,381.0 820.0,380.8 818.6,380.6 817.1,380.4 815.7,380.1 814.3,379.9 812.9,379.6 811.8,379.4 810.1,379.1 808.7,378.8 807.2,378.5 805.8,378.2 804.4,377.9 803.0,377.5 801.6,377.2 800.2,376.8 798.8,376.4 797.4,376.0 795.9,375.6 795.0,375.3 793.1,374.8 791.7,374.3 791.7,376.0 791.7,377.4 791.7,378.8 791.7,380.1 791.7,381.5 791.7,382.9 791.7,384.2 791.7,385.6 791.7,387.0 791.7,388.3 791.7,389.7 791.7,391.1 791.7,392.4 791.7,393.8 791.7,395.2 791.7,396.5Z" fill="#f1ccb8" fill-rule="evenodd"/>
<path d="M1047.7,344.6 1048.9,344.6 1050.3,344.7 1051.8,344.7 1053.2,344.8 1054.6,344.8 1056.0,344.9 1057.4,344.9 1058.8,344.9 1060.2,345.0 1061.6,345.0 1063.1,345.0 1064.5,345.0 1065.9,345.0 1067.3,345.1 1068.7,345.1 1070.1,345.1 1071.5,345.1 1073.0,345.1 1074.4,345.0 1075.8,345.0 1077.2,345.0 1078.6,345.0 1080.0,345.0 1081.4,344.9 1082.8,344.9 1084.3,344.9 1085.7,344.8 1087.1,344.8 1088.5,344.7 1089.9,344.7 1091.3,344.6 1092.7,344.5 1094.2,344.5 1095.6,344.4 1097.0,344.3 1098.4,344.2 1099.8,344.1 1101.2,344.0 1102.6,343.9 1104.0,343.8 1105.5,343.7 1106.9,343.6 1108.3,343.5 1109.7,343.3 1110.9,343.2 1112.5,343.1 1113.9,342.9 1115.4,342.8 1116.8,342.6 1118.2,342.4 1119.6,342.3 1121.0,342.1 1122.4,341.9 1123.8,341.7 1125.2,341.5 1126.7,341.3 1128.1,341.1 1129.5,340.9 1130.9,340.7 1132.0,340.5 1133.7,340.2 1135.1,340.0 1136.6,339.7 1138.0,339.5 1139.4,339.2 1140.8,338.9 1142.2,338.6 1143.6,338.3 1145.0,338.0 1146.3,337.8 1147.9,337.4 1149.3,337.1 1150.7,336.8 1152.1,336.4 1153.5,336.1 1154.9,335.7 1156.3,335.3 1157.5,335.0 1159.2,334.6 1160.6,334.2 1162.0,333.8 1163.4,333.4 1164.7,333.0 1166.2,332.5 1167.6,332.0 1169.0,331.6 1170.5,331.1 1171.9,330.6 1172.9,330.2 1174.7,329.6 1176.1,329.1 1177.5,328.5 1178.4,328.2 1180.2,327.5 1181.8,326.8 1183.2,326.2 1184.6,325.6 1186.0,325.0 1187.4,324.4 1188.8,323.7 1190.3,323.0 1191.7,322.3 1193.1,321.6 1194.5,320.8 1195.9,320.1 1197.3,319.3 1198.5,318.6 1199.7,317.9 1200.8,317.3 1201.6,316.8 1203.0,315.9 1204.0,315.2 1205.0,314.5 1205.8,314.0 1207.0,313.2 1207.9,312.5 1208.6,312.0 1209.8,311.1 1210.6,310.4 1211.5,309.8 1212.3,309.1 1213.1,308.4 1213.9,307.7 1214.7,307.0 1215.4,306.3 1215.7,305.0 1215.7,303.6 1215.7,302.2 1215.7,300.9 1215.7,299.5 1215.7,298.1 1215.7,296.8 1215.7,295.4 1215.7,294.0 1215.7,292.7 1215.7,291.3 1215.7,289.9 1215.7,288.6 1215.7,287.2 1215.7,285.8 1215.7,284.5 1215.7,283.1 1215.7,281.7 1215.7,280.4 1215.7,279.0 1215.7,277.6 1215.7,276.3 1215.7,274.9 1215.7,273.5 1215.7,272.2 1215.7,270.8 1215.7,269.4 1215.7,268.1 1215.7,266.7 1215.7,265.3 1215.7,264.0 1215.7,262.6 1215.7,261.2 1215.7,259.9 1215.7,258.5 1215.7,257.1 1215.7,255.8 1215.7,254.4 1215.7,253.0 1215.7,251.7 1215.7,250.3 1215.7,248.9 1215.7,247.6 1215.7,246.2 1215.7,244.8 1215.7,243.5 1215.4,242.1 1214.7,241.4 1214.0,240.7 1213.2,240.1 1212.4,239.4 1211.7,238.7 1210.9,238.0 1210.1,237.3 1209.2,236.6 1208.4,236.0 1207.5,235.3 1206.7,234.6 1205.8,233.9 1204.9,233.2 1203.9,232.5 1203.0,231.9 1202.0,231.2 1201.1,230.5 1200.2,229.8 1199.1,229.1 1198.1,228.4 1197.3,227.9 1196.1,227.1 1195.0,226.4 1194.0,225.7 1193.1,225.1 1191.9,224.3 1190.8,223.7 1189.7,223.0 1188.8,222.4 1187.6,221.6 1186.5,220.9 1185.4,220.2 1184.6,219.7 1183.3,218.9 1182.2,218.2 1181.2,217.5 1180.4,217.0 1179.1,216.1 1178.1,215.5 1177.0,214.8 1176.1,214.2 1175.0,213.4 1174.1,212.7 1173.3,212.2 1172.2,211.4 1171.3,210.7 1170.5,210.1 1169.5,209.3 1168.6,208.6 1167.8,207.9 1167.0,207.3 1166.2,206.6 1165.4,205.9 1164.6,205.2 1163.9,204.5 1163.1,203.8 1162.4,203.2 1161.8,202.5 1161.1,201.8 1160.4,201.1 1159.8,200.4 1159.2,199.7 1158.6,199.1 1158.0,198.4 1157.4,197.7 1156.8,197.0 1156.3,196.3 1155.7,195.6 1155.2,195.0 1154.7,194.3 1153.6,192.9 1152.7,191.5 1152.1,190.8 1151.2,189.5 1150.7,188.8 1149.8,187.4 1149.3,186.7 1148.4,185.4 1147.9,184.7 1146.9,183.3 1146.0,182.0 1145.0,180.7 1144.5,179.9 1143.6,178.8 1142.9,177.9 1142.4,177.2 1141.9,176.5 1141.4,175.8 1140.8,175.1 1140.2,174.5 1139.7,173.8 1139.1,173.1 1138.5,172.4 1137.9,171.7 1137.3,171.0 1136.7,170.4 1136.0,169.7 1135.4,169.0 1134.7,168.3 1134.0,167.6 1133.3,166.9 1132.6,166.3 1131.9,165.6 1131.1,164.9 1130.4,164.2 1129.6,163.5 1128.8,162.8 1128.1,162.2 1127.2,161.5 1126.3,160.8 1125.4,160.1 1124.5,159.4 1123.8,158.9 1122.7,158.1 1121.7,157.4 1121.0,156.9 1119.7,156.0 1118.7,155.3 1117.7,154.6 1116.8,154.1 1115.5,153.3 1114.3,152.6 1113.2,151.9 1112.0,151.2 1111.1,150.8 1109.7,150.0 1108.3,149.2 1106.9,148.5 1105.5,147.8 1104.1,147.1 1102.6,146.5 1101.2,145.8 1099.8,145.2 1098.4,144.6 1097.0,144.0 1095.6,143.4 1094.7,143.0 1092.9,142.3 1091.3,141.7 1089.9,141.2 1088.5,140.7 1087.4,140.3 1085.7,139.7 1084.3,139.2 1083.3,138.9 1081.4,138.3 1080.0,137.9 1078.9,137.6 1077.2,137.1 1075.8,136.7 1074.4,136.3 1073.0,135.9 1071.5,135.5 1070.1,135.2 1068.8,134.8 1067.3,134.5 1065.9,134.1 1064.5,133.8 1063.1,133.5 1061.6,133.2 1060.2,132.9 1058.8,132.6 1057.4,132.3 1056.2,132.1 1054.6,131.8 1053.2,131.6 1051.8,131.3 1050.3,131.1 1048.9,130.8 1047.5,130.6 1046.1,130.4 1044.7,130.2 1043.5,130.0 1041.9,129.8 1040.4,129.6 1039.0,129.5 1037.6,129.3 1036.2,129.1 1034.8,129.0 1033.4,128.8 1032.0,128.7 1030.6,128.6 1029.1,128.5 1027.7,128.3 1026.3,128.2 1024.9,128.1 1023.5,128.0 1022.1,127.9 1020.7,127.9 1019.2,127.8 1017.8,127.7 1016.4,127.7 1015.0,127.6 1013.6,127.6 1012.2,127.5 1010.8,127.5 1009.4,127.5 1007.9,127.4 1006.5,127.4 1005.1,127.4 1003.7,127.4 1002.3,127.4 1000.9,127.5 999.5,127.5 998.0,127.5 996.6,127.5 995.2,127.6 993.8,127.6 992.4,127.7 991.0,127.7 989.6,127.8 988.2,127.9 986.7,128.0 985.3,128.1 983.9,128.1 982.5,128.2 981.1,128.4 979.7,128.5 978.3,128.6 976.8,128.7 975.4,128.9 974.0,129.0 972.6,129.2 971.2,129.3 969.8,129.5 968.4,129.7 967.0,129.8 965.5,130.0 964.1,130.2 962.7,130.4 961.3,130.6 959.9,130.8 958.5,131.1 957.1,131.3 955.6,131.5 954.2,131.8 952.8,132.0 951.4,132.3 950.0,132.6 949.0,132.8 947.2,133.1 945.8,133.4 944.3,133.7 942.9,134.1 941.5,134.4 940.1,134.7 938.7,135.0 937.3,135.4 935.9,135.7 934.4,136.1 933.0,136.5 931.6,136.9 930.2,137.3 929.1,137.6 927.4,138.1 926.0,138.5 924.6,138.9 923.1,139.4 921.7,139.8 920.3,140.3 918.9,140.8 917.5,141.2 916.3,141.7 914.7,142.2 913.2,142.8 911.8,143.3 910.7,143.7 909.0,144.4 907.6,144.9 906.2,145.5 904.8,146.1 903.9,146.4 902.3,147.1 900.8,147.8 899.2,148.5 897.8,149.2 896.3,149.9 894.9,150.5 893.5,151.2 892.1,151.9 890.7,152.6 889.4,153.3 888.1,154.0 886.8,154.6 885.5,155.3 884.3,156.0 883.0,156.7 882.2,157.2 880.7,158.0 879.4,158.7 878.3,159.4 877.1,160.1 876.0,160.8 875.1,161.3 873.7,162.2 872.6,162.8 871.5,163.5 870.5,164.2 869.4,164.9 868.3,165.6 867.2,166.3 866.2,166.9 865.2,167.6 864.1,168.3 863.0,169.0 862.0,169.7 861.0,170.4 859.9,171.0 858.9,171.7 858.1,172.2 856.9,173.1 855.8,173.8 854.8,174.5 853.9,175.1 852.7,175.8 851.7,176.5 850.7,177.2 849.7,177.9 848.6,178.6 847.6,179.2 846.8,179.7 845.5,180.6 844.4,181.3 843.4,182.0 842.6,182.5 841.3,183.3 840.2,184.0 839.1,184.7 838.3,185.2 836.9,186.1 835.9,186.8 834.8,187.4 833.7,188.1 832.7,188.7 831.4,189.5 830.3,190.2 829.2,190.9 828.4,191.3 827.0,192.2 825.8,192.9 824.7,193.6 823.6,194.3 822.8,194.8 821.4,195.6 820.2,196.3 819.1,197.0 817.9,197.7 817.1,198.2 815.7,199.0 814.6,199.7 813.5,200.4 812.4,201.1 811.5,201.7 810.2,202.5 809.1,203.2 808.0,203.8 807.2,204.3 805.9,205.2 804.9,205.9 803.8,206.6 803.0,207.1 801.8,207.9 800.8,208.6 799.8,209.3 798.9,210.0 797.9,210.7 797.0,211.4 796.0,212.0 795.1,212.7 794.2,213.4 793.3,214.1 792.5,214.8 791.7,215.4 791.7,216.8 791.7,218.2 791.7,219.6 791.7,220.9 791.7,222.3 791.7,223.7 791.7,225.0 791.7,226.4 791.7,227.8 791.7,229.1 791.7,230.5 791.7,231.9 791.7,233.2 791.7,234.6 791.7,236.0 791.7,237.3 791.7,238.7 791.7,240.1 791.7,241.4 791.7,242.8 791.7,244.2 791.7,245.5 791.7,246.9 791.7,248.3 791.7,249.6 791.7,251.0 791.7,252.4 791.7,253.7 791.7,255.1 791.7,256.5 791.7,257.8 791.7,259.2 791.7,260.6 791.7,261.9 791.7,263.3 791.7,264.6 791.7,266.0 792.8,266.7 794.5,267.1 795.9,267.3 797.4,267.5 798.8,267.8 800.2,267.9 801.6,268.1 803.0,268.3 804.4,268.4 805.8,268.5 807.2,268.7 808.4,268.7 810.1,268.9 811.5,269.0 812.9,269.0 814.3,269.1 815.7,269.2 817.1,269.2 818.6,269.3 820.0,269.4 821.4,269.4 822.8,269.5 824.2,269.5 825.6,269.6 827.0,269.6 828.4,269.7 829.9,269.7 831.3,269.8 832.7,269.9 834.1,269.9 835.5,270.0 836.9,270.0 838.3,270.1 839.8,270.2 841.2,270.2 842.6,270.3 844.0,270.4 845.4,270.5 846.8,270.6 848.2,270.6 849.6,270.7 851.1,270.8 852.5,270.9 853.9,271.1 855.3,271.2 856.7,271.3 858.1,271.4 859.5,271.6 861.0,271.7 862.4,271.8 863.8,272.0 865.2,272.2 866.6,272.3 868.0,272.5 869.4,272.7 870.6,272.8 872.3,273.1 873.7,273.3 875.1,273.5 876.5,273.7 877.9,273.9 879.3,274.2 880.7,274.4 882.2,274.7 883.4,274.9 885.0,275.2 886.4,275.5 887.8,275.8 889.2,276.1 890.6,276.4 892.0,276.7 893.1,276.9 894.9,277.4 895.9,277.6 897.7,278.1 899.1,278.5 900.5,278.9 901.9,279.3 903.4,279.7 904.8,280.1 906.2,280.5 907.6,281.0 909.0,281.4 910.4,281.9 911.8,282.4 913.2,282.9 914.7,283.5 916.1,284.0 917.3,284.5 918.9,285.1 920.3,285.7 921.7,286.4 923.1,287.0 924.6,287.6 926.0,288.3 927.4,289.0 928.8,289.8 930.2,290.5 931.6,291.3 932.8,292.0 934.0,292.7 935.1,293.3 936.2,294.0 937.3,294.7 938.4,295.4 939.4,296.1 940.1,296.6 941.3,297.4 942.3,298.1 943.2,298.8 944.1,299.5 944.9,300.2 945.8,300.8 946.6,301.5 947.5,302.2 948.2,302.9 949.0,303.6 949.8,304.3 950.5,305.0 951.3,305.6 952.0,306.3 952.7,307.0 953.4,307.7 954.1,308.4 954.8,309.1 955.5,309.7 956.1,310.4 956.8,311.1 957.4,311.8 958.0,312.5 958.7,313.2 959.3,313.8 959.9,314.5 960.6,315.2 961.2,315.9 961.8,316.6 962.4,317.3 963.1,317.9 963.7,318.6 964.3,319.3 965.0,320.0 965.5,320.6 966.3,321.4 966.9,322.0 967.6,322.7 968.3,323.4 969.0,324.1 969.7,324.8 970.5,325.5 971.2,326.1 972.1,326.8 972.9,327.5 973.8,328.2 974.7,328.9 975.4,329.4 976.6,330.2 977.7,330.9 978.8,331.6 979.7,332.1 981.1,332.9 982.5,333.6 983.9,334.3 985.3,334.9 986.7,335.5 988.2,336.1 989.1,336.4 991.0,337.0 992.4,337.5 993.8,337.9 995.2,338.3 996.6,338.7 998.0,339.0 999.5,339.4 1000.9,339.7 1002.3,340.0 1003.7,340.3 1005.0,340.5 1006.5,340.8 1007.9,341.0 1009.0,341.2 1010.8,341.5 1012.2,341.7 1013.6,341.8 1015.0,342.0 1016.4,342.2 1017.8,342.4 1019.2,342.5 1020.7,342.7 1022.1,342.8 1023.5,343.0 1024.9,343.1 1026.1,343.2 1027.7,343.4 1029.1,343.5 1030.6,343.6 1032.0,343.7 1033.4,343.8 1034.8,343.9 1036.2,344.0 1037.6,344.1 1039.0,344.2 1040.4,344.2 1041.9,344.3 1043.3,344.4 1044.7,344.5 1046.1,344.5 1047.5,344.6ZM1003.7,196.4 1002.3,196.3 1000.9,196.1 999.5,195.9 998.1,195.6 996.6,195.3 995.2,195.0 993.8,194.5 992.4,194.0 991.3,193.6 989.9,192.9 988.7,192.2 987.6,191.5 986.7,190.9 986.0,190.2 985.4,189.5 984.5,188.1 984.1,186.8 984.0,185.4 984.4,184.0 985.3,182.7 985.9,182.0 986.6,181.3 987.5,180.6 988.6,179.9 989.6,179.4 991.0,178.8 992.4,178.3 993.7,177.9 995.2,177.5 996.6,177.2 998.0,176.9 999.5,176.7 1000.9,176.6 1002.1,176.5 1003.7,176.4 1005.1,176.4 1006.5,176.5 1007.7,176.5 1009.4,176.6 1010.8,176.8 1012.2,177.0 1013.4,177.2 1015.0,177.5 1016.4,177.9 1017.8,178.3 1019.2,178.8 1020.4,179.2 1021.9,179.9 1023.1,180.6 1024.2,181.3 1024.9,181.9 1025.8,182.7 1026.4,183.3 1027.3,184.7 1027.7,185.8 1027.8,187.4 1027.5,188.8 1026.7,190.2 1026.1,190.9 1025.4,191.5 1024.5,192.2 1023.5,192.9 1022.1,193.6 1020.7,194.2 1019.2,194.7 1017.8,195.2 1016.4,195.5 1015.0,195.8 1013.6,196.0 1012.2,196.2 1010.8,196.4 1009.4,196.4 1007.9,196.5 1006.5,196.5 1005.1,196.5 1003.7,196.4Z" fill="#f18d6f" fill-rule="evenodd"/>
<path d="M1054.8,333.0 1056.0,333.0 1057.4,333.1 1058.8,333.1 1060.2,333.2 1061.6,333.2 1063.1,333.2 1064.5,333.2 1065.9,333.3 1067.3,333.3 1068.7,333.3 1070.1,333.3 1071.5,333.3 1073.0,333.3 1074.4,333.3 1075.8,333.3 1077.2,333.3 1078.6,333.2 1080.0,333.2 1081.4,333.2 1082.8,333.1 1084.3,333.1 1085.7,333.1 1087.1,333.0 1088.5,332.9 1089.9,332.9 1091.3,332.8 1092.7,332.7 1094.2,332.6 1095.6,332.6 1097.0,332.5 1098.4,332.4 1099.8,332.3 1101.2,332.1 1102.6,332.0 1104.0,331.9 1105.5,331.8 1106.9,331.6 1108.3,331.5 1109.7,331.3 1111.1,331.2 1112.5,331.0 1113.9,330.8 1115.4,330.6 1116.8,330.4 1118.2,330.2 1119.6,330.0 1121.0,329.8 1122.4,329.6 1123.8,329.4 1125.2,329.1 1126.7,328.9 1128.1,328.6 1129.5,328.4 1130.9,328.1 1132.3,327.8 1133.7,327.5 1135.1,327.2 1136.6,326.9 1138.0,326.6 1139.4,326.2 1140.8,325.9 1142.2,325.5 1143.6,325.2 1145.0,324.8 1146.4,324.4 1147.6,324.1 1149.3,323.6 1150.7,323.2 1152.1,322.8 1153.5,322.3 1154.9,321.8 1156.3,321.4 1157.8,320.9 1159.2,320.4 1160.2,320.0 1162.0,319.3 1163.4,318.8 1164.8,318.2 1166.2,317.6 1167.6,317.0 1168.6,316.6 1170.1,315.9 1171.5,315.2 1172.9,314.5 1174.3,313.8 1175.6,313.2 1176.9,312.5 1178.1,311.8 1179.0,311.3 1180.4,310.5 1181.6,309.7 1182.7,309.1 1183.8,308.4 1184.6,307.8 1185.8,307.0 1186.7,306.3 1187.7,305.6 1188.6,305.0 1189.5,304.3 1190.3,303.6 1191.1,302.9 1191.9,302.2 1192.7,301.5 1193.5,300.9 1194.2,300.2 1194.9,299.5 1195.6,298.8 1196.2,298.1 1196.9,297.4 1197.5,296.8 1198.1,296.1 1198.6,295.4 1199.2,294.7 1199.7,294.0 1200.7,292.7 1201.6,291.3 1202.4,289.9 1203.0,288.9 1203.5,287.9 1204.2,286.5 1204.8,285.1 1205.3,283.8 1205.7,282.4 1206.1,281.0 1206.4,279.7 1206.6,278.3 1206.8,276.9 1206.8,275.6 1206.9,274.2 1206.8,272.8 1206.7,271.5 1206.6,270.1 1206.3,268.7 1206.0,267.4 1205.6,266.0 1205.2,264.6 1204.7,263.3 1204.1,261.9 1203.5,260.6 1203.0,259.6 1202.4,258.5 1201.6,257.2 1201.1,256.5 1200.2,255.1 1199.2,253.7 1198.6,253.0 1198.1,252.4 1197.5,251.7 1196.9,251.0 1196.3,250.3 1195.7,249.6 1195.1,248.9 1194.4,248.3 1193.7,247.6 1193.1,247.0 1192.3,246.2 1191.7,245.6 1190.8,244.8 1190.0,244.2 1189.2,243.5 1188.4,242.8 1187.6,242.1 1186.7,241.4 1186.0,240.9 1185.0,240.1 1184.1,239.4 1183.2,238.7 1182.2,238.0 1181.2,237.3 1180.4,236.7 1179.2,236.0 1178.2,235.3 1177.2,234.6 1176.1,233.9 1175.1,233.2 1174.0,232.5 1172.9,231.9 1171.9,231.2 1170.8,230.5 1169.6,229.8 1168.5,229.1 1167.6,228.6 1166.3,227.8 1165.2,227.1 1164.0,226.4 1162.9,225.7 1162.0,225.1 1160.7,224.3 1159.6,223.7 1158.5,223.0 1157.4,222.3 1156.3,221.6 1155.3,220.9 1154.2,220.2 1153.2,219.6 1152.1,218.9 1151.2,218.2 1150.2,217.5 1149.3,216.9 1148.3,216.1 1147.3,215.5 1146.4,214.8 1145.6,214.1 1144.7,213.4 1143.9,212.7 1143.1,212.0 1142.3,211.4 1141.5,210.7 1140.8,210.1 1140.0,209.3 1139.3,208.6 1138.6,207.9 1138.0,207.3 1137.2,206.6 1136.6,205.9 1135.9,205.2 1135.3,204.5 1134.7,203.8 1134.1,203.2 1133.6,202.5 1133.0,201.8 1132.4,201.1 1131.9,200.4 1131.3,199.7 1130.8,199.1 1130.3,198.4 1129.5,197.3 1128.8,196.3 1128.1,195.4 1127.3,194.3 1126.7,193.4 1125.8,192.2 1125.2,191.5 1124.3,190.2 1123.3,188.8 1122.4,187.6 1121.8,186.8 1121.0,185.7 1120.3,184.7 1119.7,184.0 1119.2,183.3 1118.6,182.7 1118.1,182.0 1117.5,181.3 1116.9,180.6 1116.3,179.9 1115.7,179.2 1115.1,178.6 1114.5,177.9 1113.8,177.2 1113.2,176.5 1112.5,175.9 1111.8,175.1 1111.1,174.5 1110.4,173.8 1109.7,173.1 1108.9,172.4 1108.1,171.7 1107.3,171.0 1106.5,170.4 1105.7,169.7 1104.8,169.0 1104.0,168.4 1103.0,167.6 1102.1,166.9 1101.2,166.3 1100.1,165.6 1099.1,164.9 1098.1,164.2 1097.0,163.5 1095.9,162.8 1094.7,162.2 1093.6,161.5 1092.7,161.0 1091.3,160.2 1089.9,159.5 1088.5,158.8 1087.1,158.1 1085.7,157.4 1084.3,156.7 1082.8,156.1 1081.4,155.5 1080.0,154.9 1078.6,154.3 1077.7,154.0 1075.9,153.3 1074.4,152.7 1073.0,152.2 1071.5,151.7 1070.1,151.3 1068.7,150.8 1067.3,150.4 1065.9,149.9 1064.5,149.5 1063.3,149.2 1061.6,148.7 1060.2,148.4 1058.8,148.0 1057.4,147.6 1056.0,147.3 1054.6,147.0 1053.2,146.7 1051.8,146.4 1050.3,146.1 1048.9,145.8 1047.5,145.5 1046.1,145.2 1044.7,145.0 1043.3,144.8 1041.9,144.5 1040.4,144.3 1039.0,144.1 1037.6,143.9 1036.4,143.7 1034.8,143.5 1033.4,143.3 1032.0,143.2 1030.7,143.0 1029.1,142.9 1027.7,142.7 1026.3,142.6 1024.9,142.5 1023.5,142.4 1022.1,142.3 1020.7,142.2 1019.2,142.1 1017.8,142.0 1016.4,141.9 1015.0,141.9 1013.6,141.8 1012.2,141.8 1010.8,141.7 1009.4,141.7 1007.9,141.7 1006.5,141.7 1005.1,141.6 1003.7,141.6 1002.3,141.7 1000.9,141.7 999.5,141.7 998.0,141.7 996.6,141.8 995.2,141.8 993.8,141.9 992.4,141.9 991.0,142.0 989.6,142.1 988.2,142.2 986.7,142.3 985.3,142.4 983.9,142.5 982.5,142.6 981.1,142.8 979.7,142.9 978.4,143.0 976.8,143.2 975.4,143.4 974.0,143.5 972.6,143.7 971.2,143.9 969.8,144.1 968.4,144.3 967.0,144.5 965.5,144.7 964.1,145.0 962.7,145.2 961.3,145.4 959.9,145.7 958.5,146.0 957.1,146.2 955.6,146.5 954.2,146.8 952.8,147.1 951.4,147.4 950.0,147.8 948.6,148.1 947.2,148.4 945.8,148.8 944.3,149.2 942.9,149.5 941.7,149.9 940.1,150.3 938.7,150.7 937.3,151.1 935.9,151.6 934.7,151.9 933.0,152.4 931.6,152.9 930.5,153.3 928.8,153.9 927.4,154.3 926.0,154.9 924.7,155.3 923.1,155.9 921.7,156.4 920.3,157.0 919.4,157.4 917.7,158.1 916.1,158.7 914.7,159.4 913.2,160.0 911.8,160.6 910.4,161.3 909.0,161.9 907.6,162.6 906.2,163.3 904.8,164.0 903.4,164.7 901.9,165.5 900.5,166.2 899.1,166.9 897.9,167.6 896.7,168.3 895.4,169.0 894.2,169.7 893.5,170.1 892.0,171.0 890.7,171.7 889.6,172.4 888.5,173.1 887.4,173.8 886.4,174.4 885.2,175.1 884.1,175.8 883.0,176.5 882.2,177.0 880.9,177.9 879.8,178.6 878.8,179.2 877.9,179.8 876.7,180.6 875.6,181.3 874.6,182.0 873.7,182.6 872.5,183.3 871.5,184.0 870.5,184.7 869.5,185.4 868.4,186.1 867.4,186.8 866.6,187.3 865.4,188.1 864.3,188.8 863.3,189.5 862.4,190.1 861.3,190.9 860.2,191.5 859.2,192.2 858.1,192.9 857.1,193.6 856.1,194.3 855.3,194.8 854.0,195.6 852.9,196.3 851.8,197.0 851.1,197.5 849.7,198.4 848.7,199.1 847.6,199.7 846.8,200.2 845.5,201.1 844.4,201.8 843.3,202.5 842.6,203.0 841.2,203.8 840.1,204.5 839.1,205.2 838.3,205.7 837.0,206.6 835.9,207.3 834.9,207.9 834.1,208.5 832.9,209.3 831.8,210.0 830.8,210.7 829.9,211.3 828.9,212.0 827.9,212.7 827.0,213.3 826.0,214.1 825.0,214.8 824.2,215.4 823.2,216.1 822.3,216.8 821.4,217.5 820.6,218.2 819.7,218.9 818.9,219.6 818.1,220.2 817.3,220.9 816.5,221.6 815.8,222.3 815.0,223.0 814.3,223.7 813.6,224.3 812.9,225.0 812.3,225.7 811.6,226.4 811.0,227.1 810.4,227.8 809.8,228.4 809.3,229.1 808.8,229.8 807.8,231.2 807.2,231.9 806.4,233.2 805.8,234.3 805.3,235.3 804.7,236.6 804.2,238.0 803.8,239.4 803.6,240.7 803.4,242.1 803.4,243.5 803.5,244.8 803.8,246.2 804.2,247.6 804.8,248.9 805.6,250.3 806.7,251.7 807.3,252.4 808.0,253.0 808.8,253.7 809.7,254.4 810.6,255.1 811.5,255.6 812.9,256.5 814.2,257.1 815.7,257.8 817.1,258.4 818.6,259.0 820.0,259.5 821.2,259.9 822.8,260.4 824.2,260.8 825.6,261.1 827.0,261.5 828.4,261.8 829.9,262.1 831.3,262.4 832.7,262.7 834.1,263.0 835.5,263.3 836.9,263.5 838.3,263.8 839.4,264.0 841.2,264.3 842.6,264.5 844.0,264.7 845.4,264.9 846.8,265.2 847.9,265.3 849.6,265.6 851.1,265.8 852.4,266.0 853.9,266.2 855.3,266.5 856.7,266.7 858.1,266.9 859.5,267.1 861.0,267.3 862.4,267.6 863.8,267.8 865.2,268.0 866.6,268.2 868.0,268.5 869.4,268.7 870.8,269.0 872.3,269.2 873.5,269.4 875.1,269.7 876.5,270.0 877.9,270.2 879.3,270.5 880.7,270.8 882.2,271.1 883.6,271.4 885.0,271.7 886.4,272.0 887.8,272.3 889.2,272.6 890.3,272.8 892.0,273.3 893.2,273.5 894.9,274.0 895.9,274.2 897.7,274.7 899.1,275.1 900.5,275.4 901.9,275.8 903.4,276.2 904.8,276.7 905.8,276.9 907.6,277.5 909.0,278.0 910.1,278.3 911.8,278.9 913.2,279.4 914.2,279.7 916.1,280.4 917.5,280.9 918.9,281.4 920.3,282.0 921.5,282.4 923.1,283.1 924.6,283.7 926.0,284.3 927.4,284.9 928.8,285.5 930.2,286.2 931.6,286.9 933.0,287.6 934.4,288.3 935.9,289.0 937.3,289.7 938.7,290.5 940.1,291.3 941.3,292.0 942.5,292.7 943.6,293.3 944.8,294.0 945.8,294.6 946.9,295.4 948.0,296.1 949.1,296.8 950.0,297.4 951.1,298.1 952.1,298.8 952.8,299.3 954.1,300.2 955.0,300.9 956.0,301.5 956.9,302.2 957.9,302.9 958.8,303.6 959.7,304.3 960.6,305.0 961.5,305.6 962.5,306.3 963.4,307.0 964.1,307.6 965.2,308.4 966.1,309.1 967.0,309.7 968.0,310.4 969.0,311.1 969.8,311.7 970.9,312.5 971.9,313.2 972.9,313.8 973.9,314.5 975.0,315.2 976.1,315.9 976.8,316.4 978.3,317.2 979.6,317.9 980.8,318.6 982.1,319.3 983.5,320.0 984.9,320.7 986.4,321.4 987.9,322.0 989.6,322.7 991.0,323.3 992.4,323.8 993.3,324.1 995.2,324.7 996.6,325.2 998.0,325.6 999.5,326.0 1000.9,326.4 1002.3,326.8 1003.7,327.1 1005.1,327.4 1006.5,327.7 1007.9,328.0 1009.4,328.3 1010.8,328.6 1012.2,328.9 1013.6,329.1 1015.0,329.3 1016.4,329.6 1017.8,329.8 1019.2,330.0 1020.7,330.2 1022.1,330.4 1023.5,330.5 1024.9,330.7 1026.3,330.9 1027.7,331.0 1029.1,331.2 1030.6,331.3 1032.0,331.5 1033.4,331.6 1034.8,331.7 1036.2,331.9 1037.6,332.0 1039.0,332.1 1040.4,332.2 1041.9,332.3 1043.3,332.4 1044.7,332.5 1046.1,332.6 1047.5,332.6 1048.9,332.7 1050.3,332.8 1051.8,332.8 1053.2,332.9 1054.6,333.0ZM999.5,201.3 998.1,201.1 996.6,200.9 995.2,200.7 993.9,200.4 992.4,200.1 991.0,199.8 989.6,199.4 988.2,199.1 986.7,198.6 985.3,198.2 984.0,197.7 982.5,197.1 981.1,196.5 979.7,195.8 978.3,195.1 976.9,194.3 975.8,193.6 974.9,192.9 974.0,192.2 973.2,191.5 972.5,190.9 971.9,190.2 971.3,189.5 970.3,188.1 969.8,187.0 969.4,186.1 969.1,184.7 969.0,183.3 969.1,182.0 969.5,180.6 970.1,179.2 971.1,177.9 971.6,177.2 972.3,176.5 973.0,175.8 973.8,175.1 974.7,174.5 975.7,173.8 976.8,173.1 978.2,172.4 979.6,171.7 981.1,171.1 982.5,170.6 983.9,170.1 985.2,169.7 986.7,169.3 987.8,169.0 989.6,168.6 991.0,168.3 992.4,168.1 993.8,167.8 995.2,167.7 996.6,167.5 998.0,167.4 999.5,167.3 1000.9,167.2 1002.3,167.1 1003.7,167.1 1005.1,167.1 1006.5,167.1 1007.9,167.2 1009.4,167.3 1010.8,167.4 1012.2,167.5 1013.6,167.6 1015.0,167.8 1016.4,168.0 1017.8,168.2 1019.2,168.5 1020.7,168.8 1021.6,169.0 1023.5,169.4 1024.9,169.8 1026.3,170.2 1027.7,170.7 1028.7,171.0 1030.5,171.7 1032.0,172.4 1033.4,173.0 1034.8,173.8 1036.0,174.5 1037.1,175.1 1038.0,175.8 1038.9,176.5 1039.7,177.2 1040.4,177.9 1041.1,178.6 1041.7,179.2 1042.2,179.9 1043.1,181.3 1043.7,182.7 1044.0,184.0 1044.1,185.4 1044.0,186.8 1043.7,188.1 1043.3,189.0 1042.6,190.2 1041.9,191.2 1041.0,192.2 1040.3,192.9 1039.5,193.6 1038.6,194.3 1037.6,194.9 1036.4,195.6 1035.2,196.3 1033.8,197.0 1032.2,197.7 1030.6,198.3 1029.1,198.8 1027.7,199.2 1026.3,199.6 1024.9,200.0 1023.5,200.3 1022.1,200.6 1020.7,200.8 1019.2,201.0 1017.8,201.2 1016.4,201.4 1015.0,201.5 1013.6,201.6 1012.2,201.7 1010.8,201.7 1009.4,201.8 1007.9,201.8 1006.5,201.8 1005.1,201.7 1003.7,201.6 1002.3,201.5 1000.9,201.4 999.5,201.3Z" fill="#be242e" fill-rule="evenodd"/>
<path d="M1053.4,324.8 1054.6,324.8 1056.0,324.9 1057.4,325.0 1058.8,325.0 1060.2,325.1 1061.6,325.1 1063.1,325.1 1064.5,325.2 1065.9,325.2 1067.3,325.2 1068.7,325.2 1070.1,325.2 1071.5,325.2 1073.0,325.2 1074.4,325.2 1075.8,325.2 1077.2,325.2 1078.6,325.2 1080.0,325.1 1081.4,325.1 1082.8,325.1 1084.3,325.0 1085.7,325.0 1087.1,324.9 1088.5,324.8 1089.9,324.8 1091.3,324.7 1092.7,324.6 1094.2,324.5 1095.6,324.4 1097.0,324.3 1098.4,324.2 1099.8,324.0 1101.2,323.9 1102.6,323.8 1104.0,323.6 1105.5,323.5 1106.9,323.3 1108.3,323.1 1109.7,322.9 1111.1,322.8 1112.5,322.6 1113.9,322.4 1115.4,322.1 1116.8,321.9 1118.2,321.7 1119.6,321.4 1121.0,321.2 1122.4,320.9 1123.7,320.7 1125.2,320.4 1126.7,320.1 1128.1,319.8 1129.5,319.5 1130.9,319.1 1132.3,318.8 1133.7,318.4 1135.1,318.1 1136.6,317.7 1138.0,317.3 1139.4,316.9 1140.5,316.6 1142.2,316.0 1143.6,315.6 1144.8,315.2 1146.4,314.7 1147.9,314.2 1149.3,313.6 1150.6,313.2 1152.1,312.6 1153.5,312.0 1154.9,311.4 1156.3,310.8 1157.8,310.2 1158.6,309.7 1160.1,309.1 1161.4,308.4 1162.8,307.7 1164.0,307.0 1164.8,306.6 1166.2,305.8 1167.6,305.0 1168.7,304.3 1169.8,303.6 1170.8,302.9 1171.8,302.2 1172.7,301.5 1173.7,300.9 1174.5,300.2 1175.4,299.5 1176.1,298.9 1177.0,298.1 1177.8,297.4 1178.5,296.8 1179.2,296.1 1179.9,295.4 1180.6,294.7 1181.2,294.0 1181.8,293.4 1182.4,292.7 1183.0,292.0 1183.5,291.3 1184.5,289.9 1185.4,288.6 1186.0,287.5 1186.6,286.5 1187.2,285.1 1187.8,283.8 1188.3,282.4 1188.8,281.0 1189.1,279.7 1189.4,278.3 1189.6,276.9 1189.7,275.6 1189.8,274.2 1189.7,272.8 1189.6,271.5 1189.4,270.1 1189.1,268.7 1188.8,267.6 1188.6,266.7 1188.1,265.3 1187.6,264.0 1186.9,262.6 1186.2,261.2 1185.5,259.9 1184.6,258.5 1183.6,257.1 1182.6,255.8 1182.1,255.1 1181.5,254.4 1180.9,253.7 1180.3,253.0 1179.7,252.4 1179.0,251.7 1178.3,251.0 1177.6,250.3 1176.9,249.6 1176.2,248.9 1175.4,248.3 1174.7,247.6 1173.8,246.9 1173.0,246.2 1172.1,245.5 1171.3,244.8 1170.5,244.2 1169.5,243.5 1168.5,242.8 1167.6,242.2 1166.6,241.4 1165.6,240.7 1164.8,240.2 1163.5,239.4 1162.5,238.7 1161.4,238.0 1160.6,237.5 1159.2,236.6 1158.1,236.0 1157.0,235.3 1155.8,234.6 1154.9,234.1 1153.5,233.2 1152.4,232.5 1151.2,231.9 1150.0,231.2 1148.8,230.5 1147.9,229.9 1146.5,229.1 1145.3,228.4 1144.2,227.8 1143.0,227.1 1142.2,226.6 1140.8,225.7 1139.6,225.0 1138.5,224.3 1137.4,223.7 1136.6,223.1 1135.3,222.3 1134.2,221.6 1133.2,220.9 1132.3,220.3 1131.2,219.6 1130.3,218.9 1129.5,218.3 1128.4,217.5 1127.5,216.8 1126.7,216.2 1125.8,215.5 1124.9,214.8 1124.1,214.1 1123.3,213.4 1122.5,212.7 1121.7,212.0 1121.0,211.4 1120.2,210.7 1119.6,210.1 1118.8,209.3 1118.1,208.6 1117.4,207.9 1116.8,207.3 1116.0,206.6 1115.4,205.9 1114.7,205.2 1114.0,204.5 1113.3,203.8 1112.7,203.2 1112.0,202.5 1111.4,201.8 1110.8,201.1 1110.1,200.4 1109.5,199.7 1108.8,199.1 1108.2,198.4 1107.5,197.7 1106.9,197.0 1106.2,196.3 1105.5,195.6 1104.8,195.0 1104.1,194.3 1103.4,193.6 1102.7,192.9 1102.0,192.2 1101.2,191.6 1100.4,190.9 1099.7,190.2 1098.9,189.5 1098.0,188.8 1097.2,188.1 1096.3,187.4 1095.6,186.9 1094.4,186.1 1093.5,185.4 1092.7,184.9 1091.4,184.0 1090.2,183.3 1089.0,182.7 1087.8,182.0 1086.4,181.3 1084.9,180.6 1083.2,179.9 1081.4,179.3 1080.0,178.9 1078.6,178.6 1077.2,178.4 1075.8,178.3 1074.4,178.4 1073.1,178.6 1071.5,179.1 1070.1,179.9 1069.2,180.6 1068.5,181.3 1067.9,182.0 1067.3,182.6 1066.7,183.3 1066.2,184.0 1065.6,184.7 1065.1,185.4 1064.5,186.1 1064.0,186.8 1063.4,187.4 1062.7,188.1 1062.1,188.8 1061.4,189.5 1060.7,190.2 1060.0,190.9 1059.2,191.5 1058.4,192.2 1057.5,192.9 1056.6,193.6 1055.6,194.3 1054.6,194.9 1053.4,195.6 1052.3,196.3 1051.0,197.0 1049.7,197.7 1048.3,198.4 1046.7,199.1 1045.1,199.7 1043.3,200.4 1041.9,200.9 1040.4,201.4 1039.3,201.8 1037.6,202.3 1036.2,202.7 1034.8,203.0 1033.4,203.4 1032.0,203.7 1030.6,204.0 1029.1,204.2 1027.7,204.5 1026.3,204.7 1024.9,204.9 1023.5,205.1 1022.4,205.2 1020.7,205.4 1019.2,205.5 1017.8,205.6 1016.4,205.7 1015.0,205.8 1013.6,205.8 1012.2,205.9 1010.8,205.9 1009.4,205.9 1007.9,205.9 1006.5,205.8 1005.1,205.8 1003.7,205.7 1002.3,205.6 1000.9,205.5 999.5,205.3 998.2,205.2 996.6,205.0 995.2,204.8 993.8,204.6 992.4,204.4 991.0,204.2 989.6,203.9 988.2,203.6 986.7,203.3 985.3,203.0 983.9,202.6 982.5,202.2 981.1,201.8 979.7,201.4 978.3,200.9 976.9,200.4 975.4,199.9 974.0,199.3 972.6,198.7 971.8,198.4 970.3,197.7 968.9,197.0 967.6,196.3 966.4,195.6 965.5,195.1 964.2,194.3 963.1,193.6 962.2,192.9 961.3,192.2 960.4,191.5 959.6,190.9 958.8,190.2 958.1,189.5 957.4,188.8 956.8,188.1 956.2,187.4 955.6,186.8 955.1,186.1 954.2,184.9 953.6,184.0 952.8,182.7 952.1,181.3 951.4,179.9 950.8,178.6 950.3,177.2 949.7,175.8 949.0,174.5 948.6,173.7 947.6,172.4 946.9,171.7 945.9,171.0 944.5,170.4 942.9,169.9 941.5,169.7 940.1,169.6 938.7,169.5 937.3,169.6 935.9,169.7 934.4,169.8 933.0,170.0 931.6,170.2 930.2,170.5 928.8,170.7 927.5,171.0 926.0,171.4 924.7,171.7 923.1,172.2 921.7,172.6 920.3,173.0 918.9,173.5 917.5,174.0 916.1,174.5 914.7,175.0 913.2,175.6 911.8,176.1 910.9,176.5 909.3,177.2 907.7,177.9 906.2,178.6 904.8,179.2 903.4,179.9 902.0,180.6 900.6,181.3 899.3,182.0 898.0,182.7 896.7,183.3 895.5,184.0 894.2,184.7 893.5,185.1 892.0,185.9 890.6,186.8 889.5,187.4 888.3,188.1 887.2,188.8 886.4,189.3 885.0,190.1 883.8,190.9 882.7,191.5 881.6,192.2 880.7,192.8 879.5,193.6 878.4,194.3 877.3,195.0 876.5,195.5 875.2,196.3 874.1,197.0 873.0,197.7 872.3,198.2 870.9,199.1 869.9,199.7 868.8,200.4 868.0,200.9 866.7,201.8 865.6,202.5 864.6,203.2 863.8,203.7 862.5,204.5 861.5,205.2 860.4,205.9 859.5,206.5 858.3,207.3 857.3,207.9 856.3,208.6 855.3,209.3 854.3,210.0 853.2,210.7 852.5,211.2 851.2,212.0 850.3,212.7 849.3,213.4 848.3,214.1 847.4,214.8 846.4,215.5 845.5,216.1 844.6,216.8 843.7,217.5 842.8,218.2 841.9,218.9 841.2,219.4 840.2,220.2 839.3,220.9 838.5,221.6 837.7,222.3 837.0,223.0 836.2,223.7 835.5,224.3 834.8,225.0 834.1,225.7 833.4,226.4 832.8,227.1 832.2,227.8 831.6,228.4 831.0,229.1 830.5,229.8 829.9,230.5 829.0,231.9 828.4,232.7 827.7,233.9 827.1,235.3 826.5,236.6 826.1,238.0 825.8,239.4 825.7,240.7 825.7,242.1 825.9,243.5 826.2,244.8 826.8,246.2 827.6,247.6 828.4,248.7 829.2,249.6 829.9,250.2 830.7,251.0 831.6,251.7 832.5,252.4 833.5,253.0 834.7,253.7 835.5,254.2 836.9,254.9 838.3,255.6 839.8,256.2 841.2,256.7 842.2,257.1 844.0,257.8 845.4,258.3 846.8,258.7 848.2,259.2 849.6,259.6 850.7,259.9 852.5,260.4 853.9,260.7 855.3,261.1 856.7,261.5 858.1,261.8 859.5,262.1 861.0,262.5 862.4,262.8 863.8,263.1 865.2,263.5 866.6,263.8 868.0,264.1 869.4,264.4 870.8,264.8 872.3,265.1 873.4,265.3 875.1,265.7 876.4,266.0 877.9,266.4 879.3,266.7 880.7,267.0 882.2,267.3 883.6,267.7 885.0,268.0 886.4,268.3 887.8,268.7 889.2,269.0 890.6,269.4 892.0,269.7 893.5,270.1 894.9,270.5 896.1,270.8 897.7,271.2 899.1,271.6 900.5,272.0 901.9,272.4 903.4,272.8 904.8,273.2 905.7,273.5 907.6,274.1 909.0,274.5 910.2,274.9 911.8,275.4 913.2,275.9 914.3,276.3 916.1,276.9 917.5,277.4 918.9,277.9 920.2,278.3 921.7,278.9 923.1,279.4 924.6,280.0 925.5,280.4 927.2,281.0 928.8,281.7 930.2,282.3 931.6,282.9 933.0,283.5 934.4,284.1 935.9,284.8 937.3,285.4 938.1,285.8 939.5,286.5 940.9,287.2 942.3,287.9 943.6,288.6 944.9,289.2 945.8,289.7 947.2,290.4 948.6,291.2 950.0,292.0 951.2,292.7 952.4,293.3 953.6,294.0 954.8,294.7 955.6,295.2 957.1,296.1 958.2,296.8 959.4,297.4 960.5,298.1 961.3,298.6 962.7,299.5 963.9,300.2 965.0,300.9 966.2,301.5 967.0,302.0 968.4,302.9 969.6,303.6 970.8,304.3 971.9,305.0 973.1,305.6 974.0,306.1 975.4,306.9 976.8,307.7 978.1,308.4 979.4,309.1 980.8,309.7 982.2,310.4 983.6,311.1 985.1,311.8 986.7,312.5 988.2,313.1 989.6,313.7 991.0,314.2 992.4,314.7 993.7,315.2 995.2,315.7 996.6,316.2 997.9,316.6 999.5,317.1 1000.9,317.5 1002.3,317.9 1003.7,318.2 1005.1,318.6 1006.5,318.9 1007.9,319.3 1009.4,319.6 1010.8,319.9 1012.2,320.1 1013.6,320.4 1015.0,320.7 1016.4,320.9 1017.8,321.2 1018.9,321.4 1020.7,321.6 1022.1,321.8 1023.4,322.0 1024.9,322.2 1026.3,322.4 1027.7,322.6 1029.1,322.8 1030.6,323.0 1032.0,323.1 1033.4,323.3 1034.8,323.4 1036.2,323.5 1037.6,323.7 1039.0,323.8 1040.4,323.9 1041.9,324.0 1043.3,324.1 1044.7,324.3 1046.1,324.4 1047.5,324.4 1048.9,324.5 1050.3,324.6 1051.8,324.7 1053.2,324.8Z" fill="#b40426" fill-rule="evenodd"/>
</g>
<rect x="791.70" y="123.90" width="424.00" height="273.30" fill="none" stroke="#000" stroke-width="2.08"/>
<text x="1003.7" y="94.1" text-anchor="middle" font-size="16.88">Temperature Difference</text>
<text x="1003.7" y="112.5" text-anchor="middle" font-size="16.88">(Proposed - Previous)</text>
</svg>
</body></html>
